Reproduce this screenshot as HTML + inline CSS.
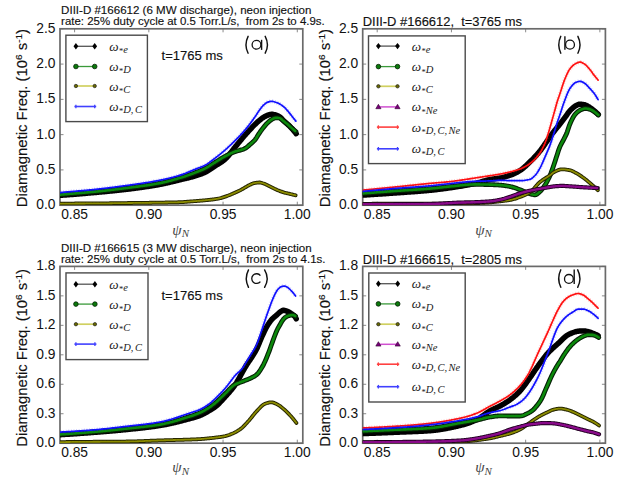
<!DOCTYPE html><html><head><meta charset="utf-8"><style>html,body{margin:0;padding:0;background:#fff;}svg{display:block;}text.s{stroke:#111;stroke-width:0.14px;}</style></head><body>
<svg width="617" height="478" viewBox="0 0 617 478">
<rect x="0" y="0" width="617" height="478" fill="#fff"/>
<clipPath id="clipLT"><rect x="60.00" y="28.80" width="242.80" height="176.40"/></clipPath>
<clipPath id="clipLB"><rect x="60.00" y="266.40" width="242.80" height="176.80"/></clipPath>
<clipPath id="clipRT"><rect x="362.70" y="28.80" width="242.70" height="176.40"/></clipPath>
<clipPath id="clipRB"><rect x="362.70" y="266.40" width="242.70" height="176.80"/></clipPath>
<path d="M74.60,28.80v3.5M74.60,205.20v-3.5M148.83,28.80v3.5M148.83,205.20v-3.5M223.06,28.80v3.5M223.06,205.20v-3.5M297.29,28.80v3.5M297.29,205.20v-3.5M60.00,205.20h3.5M302.80,205.20h-3.5M60.00,169.92h3.5M302.80,169.92h-3.5M60.00,134.64h3.5M302.80,134.64h-3.5M60.00,99.36h3.5M302.80,99.36h-3.5M60.00,64.08h3.5M302.80,64.08h-3.5M60.00,28.80h3.5M302.80,28.80h-3.5" stroke="#8a8a8a" stroke-width="1" fill="none"/>
<rect x="60.00" y="28.80" width="242.80" height="176.40" fill="none" stroke="#6a6a6a" stroke-width="1.7"/>
<g clip-path="url(#clipLT)">
<path d="M58.00,195.40 L58.75,195.36 L59.50,195.33 L60.25,195.29 L61.00,195.24 L61.75,195.20 L62.50,195.15 L63.25,195.10 L64.00,195.05 L64.75,195.00 L65.50,194.95 L66.25,194.90 L67.00,194.85 L67.75,194.80 L68.50,194.74 L69.25,194.69 L70.00,194.63 L70.75,194.58 L71.50,194.52 L72.25,194.46 L73.00,194.40 L73.75,194.34 L74.50,194.28 L75.25,194.22 L76.00,194.16 L76.75,194.10 L77.50,194.04 L78.25,193.98 L79.00,193.91 L79.75,193.85 L80.50,193.78 L81.25,193.72 L82.00,193.65 L82.75,193.59 L83.50,193.52 L84.25,193.46 L85.00,193.39 L85.75,193.33 L86.50,193.26 L87.25,193.19 L88.00,193.13 L88.75,193.06 L89.50,192.99 L90.25,192.92 L91.00,192.86 L91.75,192.79 L92.50,192.72 L93.25,192.66 L94.00,192.59 L94.75,192.52 L95.50,192.46 L96.25,192.39 L97.00,192.32 L97.75,192.25 L98.50,192.19 L99.25,192.12 L100.00,192.05 L100.75,191.98 L101.50,191.91 L102.25,191.84 L103.00,191.77 L103.75,191.71 L104.50,191.64 L105.25,191.56 L106.00,191.49 L106.75,191.42 L107.50,191.35 L108.25,191.28 L109.00,191.21 L109.75,191.13 L110.50,191.06 L111.25,190.98 L112.00,190.91 L112.75,190.83 L113.50,190.76 L114.25,190.68 L115.00,190.60 L115.75,190.53 L116.50,190.45 L117.25,190.37 L118.00,190.29 L118.75,190.21 L119.50,190.13 L120.25,190.04 L121.00,189.96 L121.75,189.88 L122.50,189.79 L123.25,189.70 L124.00,189.62 L124.75,189.53 L125.50,189.44 L126.25,189.35 L127.00,189.26 L127.75,189.17 L128.50,189.08 L129.25,188.99 L130.00,188.90 L130.75,188.80 L131.50,188.71 L132.25,188.61 L133.00,188.52 L133.75,188.42 L134.50,188.32 L135.25,188.23 L136.00,188.13 L136.75,188.03 L137.50,187.93 L138.25,187.82 L139.00,187.72 L139.75,187.62 L140.50,187.51 L141.25,187.41 L142.00,187.30 L142.75,187.19 L143.50,187.09 L144.25,186.98 L145.00,186.87 L145.75,186.75 L146.50,186.64 L147.25,186.53 L148.00,186.41 L148.75,186.30 L149.50,186.18 L150.25,186.06 L151.00,185.94 L151.75,185.82 L152.50,185.70 L153.25,185.57 L154.00,185.45 L154.75,185.32 L155.50,185.19 L156.25,185.07 L157.00,184.93 L157.75,184.80 L158.50,184.67 L159.25,184.54 L160.00,184.40 L160.75,184.26 L161.50,184.12 L162.25,183.97 L163.00,183.82 L163.75,183.66 L164.50,183.50 L165.25,183.34 L166.00,183.18 L166.75,183.01 L167.50,182.84 L168.25,182.66 L169.00,182.49 L169.75,182.31 L170.50,182.13 L171.25,181.95 L172.00,181.77 L172.75,181.58 L173.50,181.40 L174.25,181.21 L175.00,181.03 L175.75,180.84 L176.50,180.66 L177.25,180.47 L178.00,180.29 L178.75,180.10 L179.50,179.92 L180.25,179.74 L181.00,179.56 L181.75,179.38 L182.50,179.20 L183.25,179.03 L184.00,178.85 L184.75,178.68 L185.50,178.50 L186.25,178.32 L187.00,178.14 L187.75,177.96 L188.50,177.77 L189.25,177.58 L190.00,177.39 L190.75,177.20 L191.50,177.00 L192.25,176.80 L193.00,176.59 L193.75,176.37 L194.50,176.15 L195.25,175.92 L196.00,175.69 L196.75,175.45 L197.50,175.21 L198.25,174.96 L199.00,174.71 L199.75,174.44 L200.50,174.17 L201.25,173.89 L202.00,173.59 L202.75,173.29 L203.50,172.97 L204.25,172.64 L205.00,172.30 L205.75,171.93 L206.50,171.54 L207.25,171.11 L208.00,170.66 L208.75,170.19 L209.50,169.71 L210.25,169.21 L211.00,168.71 L211.75,168.19 L212.50,167.68 L213.25,167.17 L214.00,166.66 L214.75,166.16 L215.50,165.68 L216.25,165.21 L217.00,164.75 L217.75,164.29 L218.50,163.84 L219.25,163.38 L220.00,162.92 L220.75,162.44 L221.50,161.95 L222.25,161.43 L223.00,160.89 L223.75,160.32 L224.50,159.72 L225.25,159.08 L226.00,158.37 L226.75,157.60 L227.50,156.76 L228.25,155.88 L229.00,154.96 L229.75,154.00 L230.50,153.03 L231.25,152.04 L232.00,151.04 L232.75,150.05 L233.50,149.08 L234.25,148.12 L235.00,147.20 L235.75,146.29 L236.50,145.38 L237.25,144.46 L238.00,143.55 L238.75,142.63 L239.50,141.71 L240.25,140.80 L241.00,139.89 L241.75,138.99 L242.50,138.09 L243.25,137.21 L244.00,136.33 L244.75,135.47 L245.50,134.62 L246.25,133.77 L247.00,132.93 L247.75,132.09 L248.50,131.26 L249.25,130.43 L250.00,129.61 L250.75,128.81 L251.50,128.01 L252.25,127.22 L253.00,126.44 L253.75,125.68 L254.50,124.93 L255.25,124.19 L256.00,123.47 L256.75,122.77 L257.50,122.08 L258.25,121.41 L259.00,120.77 L259.75,120.14 L260.50,119.52 L261.25,118.92 L262.00,118.35 L262.75,117.82 L263.50,117.34 L264.25,116.90 L265.00,116.47 L265.75,116.08 L266.50,115.72 L267.25,115.42 L268.00,115.17 L268.75,114.91 L269.50,114.68 L270.25,114.48 L271.00,114.35 L271.75,114.30 L272.50,114.34 L273.25,114.45 L274.00,114.60 L274.75,114.79 L275.50,114.99 L276.25,115.20 L277.00,115.47 L277.75,115.80 L278.50,116.19 L279.25,116.62 L280.00,117.10 L280.75,117.70 L281.50,118.45 L282.25,119.28 L283.00,120.10 L283.75,120.84 L284.50,121.54 L285.25,122.22 L286.00,122.89 L286.75,123.56 L287.50,124.23 L288.25,124.91 L289.00,125.61 L289.75,126.33 L290.50,127.08 L291.25,127.87 L292.00,128.68 L292.75,129.53 L293.50,130.40 L294.25,131.29 L295.00,132.20 L295.75,133.13 L296.20,133.70" fill="none" stroke="#000" stroke-width="5.5" stroke-linejoin="round" stroke-linecap="round"/>
<path d="M58.00,194.90 L58.75,194.82 L59.50,194.75 L60.25,194.68 L61.00,194.61 L61.75,194.54 L62.50,194.47 L63.25,194.40 L64.00,194.34 L64.75,194.27 L65.50,194.20 L66.25,194.14 L67.00,194.08 L67.75,194.01 L68.50,193.95 L69.25,193.89 L70.00,193.83 L70.75,193.76 L71.50,193.70 L72.25,193.64 L73.00,193.58 L73.75,193.52 L74.50,193.46 L75.25,193.40 L76.00,193.34 L76.75,193.28 L77.50,193.22 L78.25,193.16 L79.00,193.10 L79.75,193.04 L80.50,192.98 L81.25,192.92 L82.00,192.86 L82.75,192.80 L83.50,192.73 L84.25,192.67 L85.00,192.61 L85.75,192.54 L86.50,192.48 L87.25,192.42 L88.00,192.35 L88.75,192.28 L89.50,192.22 L90.25,192.15 L91.00,192.08 L91.75,192.01 L92.50,191.94 L93.25,191.87 L94.00,191.80 L94.75,191.72 L95.50,191.65 L96.25,191.57 L97.00,191.50 L97.75,191.42 L98.50,191.34 L99.25,191.27 L100.00,191.19 L100.75,191.11 L101.50,191.03 L102.25,190.94 L103.00,190.86 L103.75,190.78 L104.50,190.69 L105.25,190.61 L106.00,190.53 L106.75,190.44 L107.50,190.35 L108.25,190.27 L109.00,190.18 L109.75,190.09 L110.50,190.00 L111.25,189.91 L112.00,189.82 L112.75,189.73 L113.50,189.64 L114.25,189.55 L115.00,189.46 L115.75,189.37 L116.50,189.28 L117.25,189.18 L118.00,189.09 L118.75,189.00 L119.50,188.90 L120.25,188.81 L121.00,188.71 L121.75,188.62 L122.50,188.52 L123.25,188.43 L124.00,188.33 L124.75,188.23 L125.50,188.14 L126.25,188.04 L127.00,187.94 L127.75,187.85 L128.50,187.75 L129.25,187.66 L130.00,187.56 L130.75,187.46 L131.50,187.37 L132.25,187.27 L133.00,187.18 L133.75,187.08 L134.50,186.99 L135.25,186.89 L136.00,186.79 L136.75,186.69 L137.50,186.60 L138.25,186.50 L139.00,186.40 L139.75,186.30 L140.50,186.20 L141.25,186.09 L142.00,185.99 L142.75,185.89 L143.50,185.78 L144.25,185.68 L145.00,185.57 L145.75,185.46 L146.50,185.35 L147.25,185.24 L148.00,185.13 L148.75,185.02 L149.50,184.90 L150.25,184.79 L151.00,184.67 L151.75,184.55 L152.50,184.43 L153.25,184.30 L154.00,184.18 L154.75,184.05 L155.50,183.92 L156.25,183.79 L157.00,183.66 L157.75,183.52 L158.50,183.38 L159.25,183.24 L160.00,183.10 L160.75,182.95 L161.50,182.80 L162.25,182.64 L163.00,182.48 L163.75,182.32 L164.50,182.15 L165.25,181.97 L166.00,181.79 L166.75,181.61 L167.50,181.42 L168.25,181.23 L169.00,181.03 L169.75,180.84 L170.50,180.63 L171.25,180.43 L172.00,180.22 L172.75,180.01 L173.50,179.80 L174.25,179.59 L175.00,179.37 L175.75,179.16 L176.50,178.94 L177.25,178.72 L178.00,178.50 L178.75,178.27 L179.50,178.05 L180.25,177.82 L181.00,177.60 L181.75,177.36 L182.50,177.13 L183.25,176.89 L184.00,176.64 L184.75,176.40 L185.50,176.14 L186.25,175.89 L187.00,175.63 L187.75,175.37 L188.50,175.10 L189.25,174.84 L190.00,174.57 L190.75,174.29 L191.50,174.02 L192.25,173.74 L193.00,173.46 L193.75,173.18 L194.50,172.89 L195.25,172.60 L196.00,172.32 L196.75,172.03 L197.50,171.74 L198.25,171.45 L199.00,171.15 L199.75,170.85 L200.50,170.54 L201.25,170.22 L202.00,169.90 L202.75,169.56 L203.50,169.22 L204.25,168.87 L205.00,168.50 L205.75,168.11 L206.50,167.71 L207.25,167.28 L208.00,166.83 L208.75,166.37 L209.50,165.90 L210.25,165.42 L211.00,164.94 L211.75,164.46 L212.50,163.97 L213.25,163.49 L214.00,163.02 L214.75,162.55 L215.50,162.10 L216.25,161.64 L217.00,161.17 L217.75,160.71 L218.50,160.24 L219.25,159.77 L220.00,159.31 L220.75,158.85 L221.50,158.40 L222.25,157.95 L223.00,157.51 L223.75,157.09 L224.50,156.67 L225.25,156.27 L226.00,155.86 L226.75,155.46 L227.50,155.06 L228.25,154.66 L229.00,154.27 L229.75,153.89 L230.50,153.51 L231.25,153.15 L232.00,152.81 L232.75,152.47 L233.50,152.16 L234.25,151.87 L235.00,151.60 L235.75,151.36 L236.50,151.14 L237.25,150.94 L238.00,150.75 L238.75,150.56 L239.50,150.35 L240.25,150.12 L241.00,149.90 L241.75,149.67 L242.50,149.44 L243.25,149.18 L244.00,148.90 L244.75,148.57 L245.50,148.18 L246.25,147.68 L247.00,147.11 L247.75,146.48 L248.50,145.83 L249.25,145.16 L250.00,144.50 L250.75,143.86 L251.50,143.22 L252.25,142.57 L253.00,141.88 L253.75,141.15 L254.50,140.35 L255.25,139.48 L256.00,138.44 L256.75,137.28 L257.50,136.04 L258.25,134.81 L259.00,133.63 L259.75,132.54 L260.50,131.47 L261.25,130.41 L262.00,129.38 L262.75,128.39 L263.50,127.44 L264.25,126.51 L265.00,125.60 L265.75,124.72 L266.50,123.89 L267.25,123.12 L268.00,122.41 L268.75,121.72 L269.50,121.07 L270.25,120.47 L271.00,119.94 L271.75,119.48 L272.50,119.04 L273.25,118.60 L274.00,118.23 L274.75,117.96 L275.50,117.86 L276.25,117.87 L277.00,117.89 L277.75,117.92 L278.50,117.96 L279.25,118.00 L280.00,118.23 L280.75,118.70 L281.50,119.32 L282.25,120.01 L283.00,120.68 L283.75,121.26 L284.50,121.83 L285.25,122.41 L286.00,123.00 L286.75,123.60 L287.50,124.22 L288.25,124.86 L289.00,125.53 L289.75,126.22 L290.50,126.92 L291.25,127.60 L292.00,128.26 L292.75,128.92 L293.50,129.57 L294.25,130.21 L295.00,130.84 L295.75,131.47 L295.90,131.60" fill="none" stroke="#062006" stroke-width="4.8" stroke-linejoin="round" stroke-linecap="round"/><path d="M58.00,194.90 L58.75,194.82 L59.50,194.75 L60.25,194.68 L61.00,194.61 L61.75,194.54 L62.50,194.47 L63.25,194.40 L64.00,194.34 L64.75,194.27 L65.50,194.20 L66.25,194.14 L67.00,194.08 L67.75,194.01 L68.50,193.95 L69.25,193.89 L70.00,193.83 L70.75,193.76 L71.50,193.70 L72.25,193.64 L73.00,193.58 L73.75,193.52 L74.50,193.46 L75.25,193.40 L76.00,193.34 L76.75,193.28 L77.50,193.22 L78.25,193.16 L79.00,193.10 L79.75,193.04 L80.50,192.98 L81.25,192.92 L82.00,192.86 L82.75,192.80 L83.50,192.73 L84.25,192.67 L85.00,192.61 L85.75,192.54 L86.50,192.48 L87.25,192.42 L88.00,192.35 L88.75,192.28 L89.50,192.22 L90.25,192.15 L91.00,192.08 L91.75,192.01 L92.50,191.94 L93.25,191.87 L94.00,191.80 L94.75,191.72 L95.50,191.65 L96.25,191.57 L97.00,191.50 L97.75,191.42 L98.50,191.34 L99.25,191.27 L100.00,191.19 L100.75,191.11 L101.50,191.03 L102.25,190.94 L103.00,190.86 L103.75,190.78 L104.50,190.69 L105.25,190.61 L106.00,190.53 L106.75,190.44 L107.50,190.35 L108.25,190.27 L109.00,190.18 L109.75,190.09 L110.50,190.00 L111.25,189.91 L112.00,189.82 L112.75,189.73 L113.50,189.64 L114.25,189.55 L115.00,189.46 L115.75,189.37 L116.50,189.28 L117.25,189.18 L118.00,189.09 L118.75,189.00 L119.50,188.90 L120.25,188.81 L121.00,188.71 L121.75,188.62 L122.50,188.52 L123.25,188.43 L124.00,188.33 L124.75,188.23 L125.50,188.14 L126.25,188.04 L127.00,187.94 L127.75,187.85 L128.50,187.75 L129.25,187.66 L130.00,187.56 L130.75,187.46 L131.50,187.37 L132.25,187.27 L133.00,187.18 L133.75,187.08 L134.50,186.99 L135.25,186.89 L136.00,186.79 L136.75,186.69 L137.50,186.60 L138.25,186.50 L139.00,186.40 L139.75,186.30 L140.50,186.20 L141.25,186.09 L142.00,185.99 L142.75,185.89 L143.50,185.78 L144.25,185.68 L145.00,185.57 L145.75,185.46 L146.50,185.35 L147.25,185.24 L148.00,185.13 L148.75,185.02 L149.50,184.90 L150.25,184.79 L151.00,184.67 L151.75,184.55 L152.50,184.43 L153.25,184.30 L154.00,184.18 L154.75,184.05 L155.50,183.92 L156.25,183.79 L157.00,183.66 L157.75,183.52 L158.50,183.38 L159.25,183.24 L160.00,183.10 L160.75,182.95 L161.50,182.80 L162.25,182.64 L163.00,182.48 L163.75,182.32 L164.50,182.15 L165.25,181.97 L166.00,181.79 L166.75,181.61 L167.50,181.42 L168.25,181.23 L169.00,181.03 L169.75,180.84 L170.50,180.63 L171.25,180.43 L172.00,180.22 L172.75,180.01 L173.50,179.80 L174.25,179.59 L175.00,179.37 L175.75,179.16 L176.50,178.94 L177.25,178.72 L178.00,178.50 L178.75,178.27 L179.50,178.05 L180.25,177.82 L181.00,177.60 L181.75,177.36 L182.50,177.13 L183.25,176.89 L184.00,176.64 L184.75,176.40 L185.50,176.14 L186.25,175.89 L187.00,175.63 L187.75,175.37 L188.50,175.10 L189.25,174.84 L190.00,174.57 L190.75,174.29 L191.50,174.02 L192.25,173.74 L193.00,173.46 L193.75,173.18 L194.50,172.89 L195.25,172.60 L196.00,172.32 L196.75,172.03 L197.50,171.74 L198.25,171.45 L199.00,171.15 L199.75,170.85 L200.50,170.54 L201.25,170.22 L202.00,169.90 L202.75,169.56 L203.50,169.22 L204.25,168.87 L205.00,168.50 L205.75,168.11 L206.50,167.71 L207.25,167.28 L208.00,166.83 L208.75,166.37 L209.50,165.90 L210.25,165.42 L211.00,164.94 L211.75,164.46 L212.50,163.97 L213.25,163.49 L214.00,163.02 L214.75,162.55 L215.50,162.10 L216.25,161.64 L217.00,161.17 L217.75,160.71 L218.50,160.24 L219.25,159.77 L220.00,159.31 L220.75,158.85 L221.50,158.40 L222.25,157.95 L223.00,157.51 L223.75,157.09 L224.50,156.67 L225.25,156.27 L226.00,155.86 L226.75,155.46 L227.50,155.06 L228.25,154.66 L229.00,154.27 L229.75,153.89 L230.50,153.51 L231.25,153.15 L232.00,152.81 L232.75,152.47 L233.50,152.16 L234.25,151.87 L235.00,151.60 L235.75,151.36 L236.50,151.14 L237.25,150.94 L238.00,150.75 L238.75,150.56 L239.50,150.35 L240.25,150.12 L241.00,149.90 L241.75,149.67 L242.50,149.44 L243.25,149.18 L244.00,148.90 L244.75,148.57 L245.50,148.18 L246.25,147.68 L247.00,147.11 L247.75,146.48 L248.50,145.83 L249.25,145.16 L250.00,144.50 L250.75,143.86 L251.50,143.22 L252.25,142.57 L253.00,141.88 L253.75,141.15 L254.50,140.35 L255.25,139.48 L256.00,138.44 L256.75,137.28 L257.50,136.04 L258.25,134.81 L259.00,133.63 L259.75,132.54 L260.50,131.47 L261.25,130.41 L262.00,129.38 L262.75,128.39 L263.50,127.44 L264.25,126.51 L265.00,125.60 L265.75,124.72 L266.50,123.89 L267.25,123.12 L268.00,122.41 L268.75,121.72 L269.50,121.07 L270.25,120.47 L271.00,119.94 L271.75,119.48 L272.50,119.04 L273.25,118.60 L274.00,118.23 L274.75,117.96 L275.50,117.86 L276.25,117.87 L277.00,117.89 L277.75,117.92 L278.50,117.96 L279.25,118.00 L280.00,118.23 L280.75,118.70 L281.50,119.32 L282.25,120.01 L283.00,120.68 L283.75,121.26 L284.50,121.83 L285.25,122.41 L286.00,123.00 L286.75,123.60 L287.50,124.22 L288.25,124.86 L289.00,125.53 L289.75,126.22 L290.50,126.92 L291.25,127.60 L292.00,128.26 L292.75,128.92 L293.50,129.57 L294.25,130.21 L295.00,130.84 L295.75,131.47 L295.90,131.60" fill="none" stroke="#0c8a0c" stroke-width="2.6" stroke-linejoin="round" stroke-linecap="round" stroke-dasharray="3 1.2"/>
<path d="M58.00,203.60 L58.75,203.60 L59.50,203.59 L60.25,203.59 L61.00,203.59 L61.75,203.58 L62.50,203.58 L63.25,203.58 L64.00,203.57 L64.75,203.57 L65.50,203.57 L66.25,203.56 L67.00,203.56 L67.75,203.56 L68.50,203.55 L69.25,203.55 L70.00,203.55 L70.75,203.54 L71.50,203.54 L72.25,203.54 L73.00,203.53 L73.75,203.53 L74.50,203.53 L75.25,203.52 L76.00,203.52 L76.75,203.52 L77.50,203.51 L78.25,203.51 L79.00,203.50 L79.75,203.50 L80.50,203.50 L81.25,203.49 L82.00,203.49 L82.75,203.49 L83.50,203.48 L84.25,203.48 L85.00,203.48 L85.75,203.47 L86.50,203.47 L87.25,203.47 L88.00,203.47 L88.75,203.46 L89.50,203.46 L90.25,203.46 L91.00,203.45 L91.75,203.45 L92.50,203.45 L93.25,203.44 L94.00,203.44 L94.75,203.43 L95.50,203.43 L96.25,203.43 L97.00,203.42 L97.75,203.42 L98.50,203.41 L99.25,203.41 L100.00,203.40 L100.75,203.39 L101.50,203.39 L102.25,203.38 L103.00,203.37 L103.75,203.36 L104.50,203.35 L105.25,203.34 L106.00,203.33 L106.75,203.32 L107.50,203.30 L108.25,203.29 L109.00,203.28 L109.75,203.27 L110.50,203.25 L111.25,203.24 L112.00,203.23 L112.75,203.21 L113.50,203.20 L114.25,203.19 L115.00,203.17 L115.75,203.16 L116.50,203.15 L117.25,203.14 L118.00,203.13 L118.75,203.12 L119.50,203.11 L120.25,203.10 L121.00,203.09 L121.75,203.08 L122.50,203.07 L123.25,203.06 L124.00,203.06 L124.75,203.05 L125.50,203.04 L126.25,203.03 L127.00,203.03 L127.75,203.02 L128.50,203.01 L129.25,203.01 L130.00,203.00 L130.75,202.99 L131.50,202.99 L132.25,202.98 L133.00,202.97 L133.75,202.97 L134.50,202.96 L135.25,202.95 L136.00,202.94 L136.75,202.94 L137.50,202.93 L138.25,202.92 L139.00,202.91 L139.75,202.90 L140.50,202.89 L141.25,202.88 L142.00,202.88 L142.75,202.87 L143.50,202.86 L144.25,202.85 L145.00,202.84 L145.75,202.83 L146.50,202.81 L147.25,202.80 L148.00,202.79 L148.75,202.78 L149.50,202.77 L150.25,202.76 L151.00,202.75 L151.75,202.74 L152.50,202.72 L153.25,202.71 L154.00,202.70 L154.75,202.69 L155.50,202.68 L156.25,202.66 L157.00,202.65 L157.75,202.64 L158.50,202.63 L159.25,202.61 L160.00,202.60 L160.75,202.59 L161.50,202.58 L162.25,202.56 L163.00,202.55 L163.75,202.54 L164.50,202.53 L165.25,202.52 L166.00,202.50 L166.75,202.49 L167.50,202.48 L168.25,202.47 L169.00,202.46 L169.75,202.44 L170.50,202.43 L171.25,202.42 L172.00,202.40 L172.75,202.39 L173.50,202.37 L174.25,202.36 L175.00,202.34 L175.75,202.32 L176.50,202.30 L177.25,202.28 L178.00,202.26 L178.75,202.24 L179.50,202.22 L180.25,202.19 L181.00,202.16 L181.75,202.12 L182.50,202.08 L183.25,202.03 L184.00,201.98 L184.75,201.93 L185.50,201.87 L186.25,201.81 L187.00,201.75 L187.75,201.69 L188.50,201.62 L189.25,201.56 L190.00,201.50 L190.75,201.44 L191.50,201.39 L192.25,201.33 L193.00,201.27 L193.75,201.22 L194.50,201.16 L195.25,201.11 L196.00,201.05 L196.75,200.99 L197.50,200.93 L198.25,200.88 L199.00,200.82 L199.75,200.75 L200.50,200.69 L201.25,200.63 L202.00,200.56 L202.75,200.50 L203.50,200.43 L204.25,200.36 L205.00,200.29 L205.75,200.22 L206.50,200.15 L207.25,200.07 L208.00,200.00 L208.75,199.92 L209.50,199.84 L210.25,199.76 L211.00,199.68 L211.75,199.59 L212.50,199.50 L213.25,199.40 L214.00,199.30 L214.75,199.19 L215.50,199.08 L216.25,198.96 L217.00,198.83 L217.75,198.70 L218.50,198.55 L219.25,198.40 L220.00,198.23 L220.75,198.05 L221.50,197.84 L222.25,197.62 L223.00,197.39 L223.75,197.15 L224.50,196.90 L225.25,196.65 L226.00,196.39 L226.75,196.12 L227.50,195.84 L228.25,195.56 L229.00,195.26 L229.75,194.96 L230.50,194.65 L231.25,194.34 L232.00,194.02 L232.75,193.69 L233.50,193.36 L234.25,193.02 L235.00,192.67 L235.75,192.33 L236.50,191.99 L237.25,191.66 L238.00,191.33 L238.75,190.99 L239.50,190.64 L240.25,190.27 L241.00,189.87 L241.75,189.45 L242.50,189.01 L243.25,188.56 L244.00,188.12 L244.75,187.69 L245.50,187.25 L246.25,186.81 L247.00,186.36 L247.75,185.92 L248.50,185.50 L249.25,185.11 L250.00,184.76 L250.75,184.41 L251.50,184.06 L252.25,183.73 L253.00,183.43 L253.75,183.19 L254.50,183.02 L255.25,182.90 L256.00,182.79 L256.75,182.69 L257.50,182.60 L258.25,182.54 L259.00,182.51 L259.75,182.51 L260.50,182.60 L261.25,182.76 L262.00,182.98 L262.75,183.23 L263.50,183.46 L264.25,183.73 L265.00,184.04 L265.75,184.38 L266.50,184.75 L267.25,185.12 L268.00,185.51 L268.75,185.88 L269.50,186.24 L270.25,186.62 L271.00,187.00 L271.75,187.38 L272.50,187.76 L273.25,188.14 L274.00,188.50 L274.75,188.86 L275.50,189.21 L276.25,189.56 L277.00,189.90 L277.75,190.23 L278.50,190.54 L279.25,190.84 L280.00,191.12 L280.75,191.40 L281.50,191.66 L282.25,191.92 L283.00,192.16 L283.75,192.39 L284.50,192.60 L285.25,192.79 L286.00,192.98 L286.75,193.16 L287.50,193.34 L288.25,193.51 L289.00,193.70 L289.75,193.88 L290.50,194.07 L291.25,194.25 L292.00,194.43 L292.75,194.61 L293.50,194.80 L294.25,194.98 L295.00,195.16 L295.60,195.30" fill="none" stroke="#262600" stroke-width="3.8" stroke-linejoin="round" stroke-linecap="round"/><path d="M58.00,203.60 L58.75,203.60 L59.50,203.59 L60.25,203.59 L61.00,203.59 L61.75,203.58 L62.50,203.58 L63.25,203.58 L64.00,203.57 L64.75,203.57 L65.50,203.57 L66.25,203.56 L67.00,203.56 L67.75,203.56 L68.50,203.55 L69.25,203.55 L70.00,203.55 L70.75,203.54 L71.50,203.54 L72.25,203.54 L73.00,203.53 L73.75,203.53 L74.50,203.53 L75.25,203.52 L76.00,203.52 L76.75,203.52 L77.50,203.51 L78.25,203.51 L79.00,203.50 L79.75,203.50 L80.50,203.50 L81.25,203.49 L82.00,203.49 L82.75,203.49 L83.50,203.48 L84.25,203.48 L85.00,203.48 L85.75,203.47 L86.50,203.47 L87.25,203.47 L88.00,203.47 L88.75,203.46 L89.50,203.46 L90.25,203.46 L91.00,203.45 L91.75,203.45 L92.50,203.45 L93.25,203.44 L94.00,203.44 L94.75,203.43 L95.50,203.43 L96.25,203.43 L97.00,203.42 L97.75,203.42 L98.50,203.41 L99.25,203.41 L100.00,203.40 L100.75,203.39 L101.50,203.39 L102.25,203.38 L103.00,203.37 L103.75,203.36 L104.50,203.35 L105.25,203.34 L106.00,203.33 L106.75,203.32 L107.50,203.30 L108.25,203.29 L109.00,203.28 L109.75,203.27 L110.50,203.25 L111.25,203.24 L112.00,203.23 L112.75,203.21 L113.50,203.20 L114.25,203.19 L115.00,203.17 L115.75,203.16 L116.50,203.15 L117.25,203.14 L118.00,203.13 L118.75,203.12 L119.50,203.11 L120.25,203.10 L121.00,203.09 L121.75,203.08 L122.50,203.07 L123.25,203.06 L124.00,203.06 L124.75,203.05 L125.50,203.04 L126.25,203.03 L127.00,203.03 L127.75,203.02 L128.50,203.01 L129.25,203.01 L130.00,203.00 L130.75,202.99 L131.50,202.99 L132.25,202.98 L133.00,202.97 L133.75,202.97 L134.50,202.96 L135.25,202.95 L136.00,202.94 L136.75,202.94 L137.50,202.93 L138.25,202.92 L139.00,202.91 L139.75,202.90 L140.50,202.89 L141.25,202.88 L142.00,202.88 L142.75,202.87 L143.50,202.86 L144.25,202.85 L145.00,202.84 L145.75,202.83 L146.50,202.81 L147.25,202.80 L148.00,202.79 L148.75,202.78 L149.50,202.77 L150.25,202.76 L151.00,202.75 L151.75,202.74 L152.50,202.72 L153.25,202.71 L154.00,202.70 L154.75,202.69 L155.50,202.68 L156.25,202.66 L157.00,202.65 L157.75,202.64 L158.50,202.63 L159.25,202.61 L160.00,202.60 L160.75,202.59 L161.50,202.58 L162.25,202.56 L163.00,202.55 L163.75,202.54 L164.50,202.53 L165.25,202.52 L166.00,202.50 L166.75,202.49 L167.50,202.48 L168.25,202.47 L169.00,202.46 L169.75,202.44 L170.50,202.43 L171.25,202.42 L172.00,202.40 L172.75,202.39 L173.50,202.37 L174.25,202.36 L175.00,202.34 L175.75,202.32 L176.50,202.30 L177.25,202.28 L178.00,202.26 L178.75,202.24 L179.50,202.22 L180.25,202.19 L181.00,202.16 L181.75,202.12 L182.50,202.08 L183.25,202.03 L184.00,201.98 L184.75,201.93 L185.50,201.87 L186.25,201.81 L187.00,201.75 L187.75,201.69 L188.50,201.62 L189.25,201.56 L190.00,201.50 L190.75,201.44 L191.50,201.39 L192.25,201.33 L193.00,201.27 L193.75,201.22 L194.50,201.16 L195.25,201.11 L196.00,201.05 L196.75,200.99 L197.50,200.93 L198.25,200.88 L199.00,200.82 L199.75,200.75 L200.50,200.69 L201.25,200.63 L202.00,200.56 L202.75,200.50 L203.50,200.43 L204.25,200.36 L205.00,200.29 L205.75,200.22 L206.50,200.15 L207.25,200.07 L208.00,200.00 L208.75,199.92 L209.50,199.84 L210.25,199.76 L211.00,199.68 L211.75,199.59 L212.50,199.50 L213.25,199.40 L214.00,199.30 L214.75,199.19 L215.50,199.08 L216.25,198.96 L217.00,198.83 L217.75,198.70 L218.50,198.55 L219.25,198.40 L220.00,198.23 L220.75,198.05 L221.50,197.84 L222.25,197.62 L223.00,197.39 L223.75,197.15 L224.50,196.90 L225.25,196.65 L226.00,196.39 L226.75,196.12 L227.50,195.84 L228.25,195.56 L229.00,195.26 L229.75,194.96 L230.50,194.65 L231.25,194.34 L232.00,194.02 L232.75,193.69 L233.50,193.36 L234.25,193.02 L235.00,192.67 L235.75,192.33 L236.50,191.99 L237.25,191.66 L238.00,191.33 L238.75,190.99 L239.50,190.64 L240.25,190.27 L241.00,189.87 L241.75,189.45 L242.50,189.01 L243.25,188.56 L244.00,188.12 L244.75,187.69 L245.50,187.25 L246.25,186.81 L247.00,186.36 L247.75,185.92 L248.50,185.50 L249.25,185.11 L250.00,184.76 L250.75,184.41 L251.50,184.06 L252.25,183.73 L253.00,183.43 L253.75,183.19 L254.50,183.02 L255.25,182.90 L256.00,182.79 L256.75,182.69 L257.50,182.60 L258.25,182.54 L259.00,182.51 L259.75,182.51 L260.50,182.60 L261.25,182.76 L262.00,182.98 L262.75,183.23 L263.50,183.46 L264.25,183.73 L265.00,184.04 L265.75,184.38 L266.50,184.75 L267.25,185.12 L268.00,185.51 L268.75,185.88 L269.50,186.24 L270.25,186.62 L271.00,187.00 L271.75,187.38 L272.50,187.76 L273.25,188.14 L274.00,188.50 L274.75,188.86 L275.50,189.21 L276.25,189.56 L277.00,189.90 L277.75,190.23 L278.50,190.54 L279.25,190.84 L280.00,191.12 L280.75,191.40 L281.50,191.66 L282.25,191.92 L283.00,192.16 L283.75,192.39 L284.50,192.60 L285.25,192.79 L286.00,192.98 L286.75,193.16 L287.50,193.34 L288.25,193.51 L289.00,193.70 L289.75,193.88 L290.50,194.07 L291.25,194.25 L292.00,194.43 L292.75,194.61 L293.50,194.80 L294.25,194.98 L295.00,195.16 L295.60,195.30" fill="none" stroke="#8c8c00" stroke-width="1.8" stroke-linejoin="round" stroke-linecap="round" stroke-dasharray="2.5 1"/>
<path d="M58.00,192.80 L58.75,192.72 L59.50,192.65 L60.25,192.58 L61.00,192.50 L61.75,192.43 L62.50,192.36 L63.25,192.29 L64.00,192.22 L64.75,192.15 L65.50,192.09 L66.25,192.02 L67.00,191.95 L67.75,191.88 L68.50,191.82 L69.25,191.75 L70.00,191.69 L70.75,191.62 L71.50,191.56 L72.25,191.49 L73.00,191.43 L73.75,191.36 L74.50,191.30 L75.25,191.23 L76.00,191.17 L76.75,191.10 L77.50,191.04 L78.25,190.97 L79.00,190.91 L79.75,190.84 L80.50,190.78 L81.25,190.71 L82.00,190.64 L82.75,190.58 L83.50,190.51 L84.25,190.44 L85.00,190.37 L85.75,190.31 L86.50,190.24 L87.25,190.17 L88.00,190.10 L88.75,190.03 L89.50,189.95 L90.25,189.88 L91.00,189.81 L91.75,189.73 L92.50,189.66 L93.25,189.58 L94.00,189.50 L94.75,189.43 L95.50,189.35 L96.25,189.27 L97.00,189.19 L97.75,189.10 L98.50,189.02 L99.25,188.94 L100.00,188.86 L100.75,188.77 L101.50,188.69 L102.25,188.60 L103.00,188.51 L103.75,188.43 L104.50,188.34 L105.25,188.25 L106.00,188.16 L106.75,188.07 L107.50,187.98 L108.25,187.89 L109.00,187.80 L109.75,187.70 L110.50,187.61 L111.25,187.52 L112.00,187.42 L112.75,187.33 L113.50,187.23 L114.25,187.13 L115.00,187.04 L115.75,186.94 L116.50,186.84 L117.25,186.74 L118.00,186.65 L118.75,186.55 L119.50,186.45 L120.25,186.35 L121.00,186.25 L121.75,186.14 L122.50,186.04 L123.25,185.94 L124.00,185.84 L124.75,185.73 L125.50,185.63 L126.25,185.53 L127.00,185.42 L127.75,185.32 L128.50,185.22 L129.25,185.11 L130.00,185.01 L130.75,184.91 L131.50,184.80 L132.25,184.70 L133.00,184.59 L133.75,184.49 L134.50,184.38 L135.25,184.27 L136.00,184.17 L136.75,184.06 L137.50,183.95 L138.25,183.84 L139.00,183.73 L139.75,183.62 L140.50,183.51 L141.25,183.40 L142.00,183.29 L142.75,183.17 L143.50,183.06 L144.25,182.94 L145.00,182.82 L145.75,182.71 L146.50,182.59 L147.25,182.47 L148.00,182.34 L148.75,182.22 L149.50,182.10 L150.25,181.97 L151.00,181.85 L151.75,181.72 L152.50,181.59 L153.25,181.46 L154.00,181.32 L154.75,181.19 L155.50,181.05 L156.25,180.92 L157.00,180.78 L157.75,180.63 L158.50,180.49 L159.25,180.35 L160.00,180.20 L160.75,180.05 L161.50,179.90 L162.25,179.74 L163.00,179.59 L163.75,179.43 L164.50,179.26 L165.25,179.10 L166.00,178.93 L166.75,178.76 L167.50,178.58 L168.25,178.41 L169.00,178.23 L169.75,178.04 L170.50,177.85 L171.25,177.66 L172.00,177.47 L172.75,177.27 L173.50,177.08 L174.25,176.87 L175.00,176.67 L175.75,176.46 L176.50,176.24 L177.25,176.03 L178.00,175.81 L178.75,175.58 L179.50,175.35 L180.25,175.12 L181.00,174.88 L181.75,174.63 L182.50,174.37 L183.25,174.09 L184.00,173.81 L184.75,173.53 L185.50,173.23 L186.25,172.93 L187.00,172.63 L187.75,172.32 L188.50,172.01 L189.25,171.70 L190.00,171.38 L190.75,171.06 L191.50,170.75 L192.25,170.43 L193.00,170.12 L193.75,169.81 L194.50,169.50 L195.25,169.20 L196.00,168.91 L196.75,168.62 L197.50,168.34 L198.25,168.06 L199.00,167.77 L199.75,167.49 L200.50,167.20 L201.25,166.90 L202.00,166.59 L202.75,166.27 L203.50,165.93 L204.25,165.58 L205.00,165.20 L205.75,164.80 L206.50,164.36 L207.25,163.89 L208.00,163.40 L208.75,162.89 L209.50,162.36 L210.25,161.81 L211.00,161.25 L211.75,160.68 L212.50,160.11 L213.25,159.53 L214.00,158.96 L214.75,158.39 L215.50,157.82 L216.25,157.25 L217.00,156.68 L217.75,156.09 L218.50,155.50 L219.25,154.91 L220.00,154.30 L220.75,153.69 L221.50,153.08 L222.25,152.45 L223.00,151.82 L223.75,151.18 L224.50,150.54 L225.25,149.88 L226.00,149.22 L226.75,148.54 L227.50,147.86 L228.25,147.16 L229.00,146.46 L229.75,145.75 L230.50,145.03 L231.25,144.31 L232.00,143.57 L232.75,142.84 L233.50,142.10 L234.25,141.35 L235.00,140.60 L235.75,139.85 L236.50,139.09 L237.25,138.34 L238.00,137.57 L238.75,136.81 L239.50,136.03 L240.25,135.25 L241.00,134.45 L241.75,133.64 L242.50,132.83 L243.25,131.99 L244.00,131.14 L244.75,130.28 L245.50,129.39 L246.25,128.49 L247.00,127.57 L247.75,126.63 L248.50,125.67 L249.25,124.70 L250.00,123.72 L250.75,122.72 L251.50,121.71 L252.25,120.69 L253.00,119.66 L253.75,118.61 L254.50,117.56 L255.25,116.49 L256.00,115.36 L256.75,114.20 L257.50,113.02 L258.25,111.87 L259.00,110.78 L259.75,109.75 L260.50,108.73 L261.25,107.74 L262.00,106.80 L262.75,105.95 L263.50,105.21 L264.25,104.52 L265.00,103.85 L265.75,103.25 L266.50,102.73 L267.25,102.34 L268.00,102.07 L268.75,101.83 L269.50,101.61 L270.25,101.45 L271.00,101.34 L271.75,101.30 L272.50,101.36 L273.25,101.52 L274.00,101.73 L274.75,101.96 L275.50,102.20 L276.25,102.44 L277.00,102.72 L277.75,103.02 L278.50,103.36 L279.25,103.73 L280.00,104.13 L280.75,104.59 L281.50,105.09 L282.25,105.63 L283.00,106.20 L283.75,106.81 L284.50,107.48 L285.25,108.21 L286.00,108.99 L286.75,109.80 L287.50,110.63 L288.25,111.50 L289.00,112.42 L289.75,113.38 L290.50,114.36 L291.25,115.33 L292.00,116.28 L292.75,117.22 L293.50,118.17 L294.25,119.12 L295.00,120.06 L295.75,121.01 L295.90,121.20" fill="none" stroke="#2020ff" stroke-width="4" stroke-opacity="0.22" stroke-dasharray="1 1.6" stroke-linejoin="round"/><path d="M58.00,192.80 L58.75,192.72 L59.50,192.65 L60.25,192.58 L61.00,192.50 L61.75,192.43 L62.50,192.36 L63.25,192.29 L64.00,192.22 L64.75,192.15 L65.50,192.09 L66.25,192.02 L67.00,191.95 L67.75,191.88 L68.50,191.82 L69.25,191.75 L70.00,191.69 L70.75,191.62 L71.50,191.56 L72.25,191.49 L73.00,191.43 L73.75,191.36 L74.50,191.30 L75.25,191.23 L76.00,191.17 L76.75,191.10 L77.50,191.04 L78.25,190.97 L79.00,190.91 L79.75,190.84 L80.50,190.78 L81.25,190.71 L82.00,190.64 L82.75,190.58 L83.50,190.51 L84.25,190.44 L85.00,190.37 L85.75,190.31 L86.50,190.24 L87.25,190.17 L88.00,190.10 L88.75,190.03 L89.50,189.95 L90.25,189.88 L91.00,189.81 L91.75,189.73 L92.50,189.66 L93.25,189.58 L94.00,189.50 L94.75,189.43 L95.50,189.35 L96.25,189.27 L97.00,189.19 L97.75,189.10 L98.50,189.02 L99.25,188.94 L100.00,188.86 L100.75,188.77 L101.50,188.69 L102.25,188.60 L103.00,188.51 L103.75,188.43 L104.50,188.34 L105.25,188.25 L106.00,188.16 L106.75,188.07 L107.50,187.98 L108.25,187.89 L109.00,187.80 L109.75,187.70 L110.50,187.61 L111.25,187.52 L112.00,187.42 L112.75,187.33 L113.50,187.23 L114.25,187.13 L115.00,187.04 L115.75,186.94 L116.50,186.84 L117.25,186.74 L118.00,186.65 L118.75,186.55 L119.50,186.45 L120.25,186.35 L121.00,186.25 L121.75,186.14 L122.50,186.04 L123.25,185.94 L124.00,185.84 L124.75,185.73 L125.50,185.63 L126.25,185.53 L127.00,185.42 L127.75,185.32 L128.50,185.22 L129.25,185.11 L130.00,185.01 L130.75,184.91 L131.50,184.80 L132.25,184.70 L133.00,184.59 L133.75,184.49 L134.50,184.38 L135.25,184.27 L136.00,184.17 L136.75,184.06 L137.50,183.95 L138.25,183.84 L139.00,183.73 L139.75,183.62 L140.50,183.51 L141.25,183.40 L142.00,183.29 L142.75,183.17 L143.50,183.06 L144.25,182.94 L145.00,182.82 L145.75,182.71 L146.50,182.59 L147.25,182.47 L148.00,182.34 L148.75,182.22 L149.50,182.10 L150.25,181.97 L151.00,181.85 L151.75,181.72 L152.50,181.59 L153.25,181.46 L154.00,181.32 L154.75,181.19 L155.50,181.05 L156.25,180.92 L157.00,180.78 L157.75,180.63 L158.50,180.49 L159.25,180.35 L160.00,180.20 L160.75,180.05 L161.50,179.90 L162.25,179.74 L163.00,179.59 L163.75,179.43 L164.50,179.26 L165.25,179.10 L166.00,178.93 L166.75,178.76 L167.50,178.58 L168.25,178.41 L169.00,178.23 L169.75,178.04 L170.50,177.85 L171.25,177.66 L172.00,177.47 L172.75,177.27 L173.50,177.08 L174.25,176.87 L175.00,176.67 L175.75,176.46 L176.50,176.24 L177.25,176.03 L178.00,175.81 L178.75,175.58 L179.50,175.35 L180.25,175.12 L181.00,174.88 L181.75,174.63 L182.50,174.37 L183.25,174.09 L184.00,173.81 L184.75,173.53 L185.50,173.23 L186.25,172.93 L187.00,172.63 L187.75,172.32 L188.50,172.01 L189.25,171.70 L190.00,171.38 L190.75,171.06 L191.50,170.75 L192.25,170.43 L193.00,170.12 L193.75,169.81 L194.50,169.50 L195.25,169.20 L196.00,168.91 L196.75,168.62 L197.50,168.34 L198.25,168.06 L199.00,167.77 L199.75,167.49 L200.50,167.20 L201.25,166.90 L202.00,166.59 L202.75,166.27 L203.50,165.93 L204.25,165.58 L205.00,165.20 L205.75,164.80 L206.50,164.36 L207.25,163.89 L208.00,163.40 L208.75,162.89 L209.50,162.36 L210.25,161.81 L211.00,161.25 L211.75,160.68 L212.50,160.11 L213.25,159.53 L214.00,158.96 L214.75,158.39 L215.50,157.82 L216.25,157.25 L217.00,156.68 L217.75,156.09 L218.50,155.50 L219.25,154.91 L220.00,154.30 L220.75,153.69 L221.50,153.08 L222.25,152.45 L223.00,151.82 L223.75,151.18 L224.50,150.54 L225.25,149.88 L226.00,149.22 L226.75,148.54 L227.50,147.86 L228.25,147.16 L229.00,146.46 L229.75,145.75 L230.50,145.03 L231.25,144.31 L232.00,143.57 L232.75,142.84 L233.50,142.10 L234.25,141.35 L235.00,140.60 L235.75,139.85 L236.50,139.09 L237.25,138.34 L238.00,137.57 L238.75,136.81 L239.50,136.03 L240.25,135.25 L241.00,134.45 L241.75,133.64 L242.50,132.83 L243.25,131.99 L244.00,131.14 L244.75,130.28 L245.50,129.39 L246.25,128.49 L247.00,127.57 L247.75,126.63 L248.50,125.67 L249.25,124.70 L250.00,123.72 L250.75,122.72 L251.50,121.71 L252.25,120.69 L253.00,119.66 L253.75,118.61 L254.50,117.56 L255.25,116.49 L256.00,115.36 L256.75,114.20 L257.50,113.02 L258.25,111.87 L259.00,110.78 L259.75,109.75 L260.50,108.73 L261.25,107.74 L262.00,106.80 L262.75,105.95 L263.50,105.21 L264.25,104.52 L265.00,103.85 L265.75,103.25 L266.50,102.73 L267.25,102.34 L268.00,102.07 L268.75,101.83 L269.50,101.61 L270.25,101.45 L271.00,101.34 L271.75,101.30 L272.50,101.36 L273.25,101.52 L274.00,101.73 L274.75,101.96 L275.50,102.20 L276.25,102.44 L277.00,102.72 L277.75,103.02 L278.50,103.36 L279.25,103.73 L280.00,104.13 L280.75,104.59 L281.50,105.09 L282.25,105.63 L283.00,106.20 L283.75,106.81 L284.50,107.48 L285.25,108.21 L286.00,108.99 L286.75,109.80 L287.50,110.63 L288.25,111.50 L289.00,112.42 L289.75,113.38 L290.50,114.36 L291.25,115.33 L292.00,116.28 L292.75,117.22 L293.50,118.17 L294.25,119.12 L295.00,120.06 L295.75,121.01 L295.90,121.20" fill="none" stroke="#1010ff" stroke-width="1.7" stroke-linejoin="round" stroke-linecap="round"/>
</g>
<text x="74.60" y="219.00" font-family='"Liberation Sans", sans-serif' font-size="13.8" text-anchor="middle" fill="#111">0.85</text>
<text x="148.83" y="219.00" font-family='"Liberation Sans", sans-serif' font-size="13.8" text-anchor="middle" fill="#111">0.90</text>
<text x="223.06" y="219.00" font-family='"Liberation Sans", sans-serif' font-size="13.8" text-anchor="middle" fill="#111">0.95</text>
<text x="297.29" y="219.00" font-family='"Liberation Sans", sans-serif' font-size="13.8" text-anchor="middle" fill="#111">1.00</text>
<text x="55.40" y="209.20" font-family='"Liberation Sans", sans-serif' font-size="13.8" text-anchor="end" fill="#111">0.0</text>
<text x="55.40" y="173.92" font-family='"Liberation Sans", sans-serif' font-size="13.8" text-anchor="end" fill="#111">0.5</text>
<text x="55.40" y="138.64" font-family='"Liberation Sans", sans-serif' font-size="13.8" text-anchor="end" fill="#111">1.0</text>
<text x="55.40" y="103.36" font-family='"Liberation Sans", sans-serif' font-size="13.8" text-anchor="end" fill="#111">1.5</text>
<text x="55.40" y="68.08" font-family='"Liberation Sans", sans-serif' font-size="13.8" text-anchor="end" fill="#111">2.0</text>
<text x="55.40" y="32.80" font-family='"Liberation Sans", sans-serif' font-size="13.8" text-anchor="end" fill="#111">2.5</text>
<path d="M377.20,28.80v3.5M377.20,205.20v-3.5M451.43,28.80v3.5M451.43,205.20v-3.5M525.66,28.80v3.5M525.66,205.20v-3.5M599.89,28.80v3.5M599.89,205.20v-3.5M362.70,205.20h3.5M605.40,205.20h-3.5M362.70,169.92h3.5M605.40,169.92h-3.5M362.70,134.64h3.5M605.40,134.64h-3.5M362.70,99.36h3.5M605.40,99.36h-3.5M362.70,64.08h3.5M605.40,64.08h-3.5M362.70,28.80h3.5M605.40,28.80h-3.5" stroke="#8a8a8a" stroke-width="1" fill="none"/>
<rect x="362.70" y="28.80" width="242.70" height="176.40" fill="none" stroke="#6a6a6a" stroke-width="1.7"/>
<g clip-path="url(#clipRT)">
<path d="M361.00,195.20 L361.75,195.16 L362.50,195.11 L363.25,195.07 L364.00,195.02 L364.75,194.98 L365.50,194.93 L366.25,194.89 L367.00,194.84 L367.75,194.80 L368.50,194.75 L369.25,194.70 L370.00,194.66 L370.75,194.61 L371.50,194.56 L372.25,194.52 L373.00,194.47 L373.75,194.42 L374.50,194.37 L375.25,194.33 L376.00,194.28 L376.75,194.23 L377.50,194.18 L378.25,194.13 L379.00,194.09 L379.75,194.04 L380.50,193.99 L381.25,193.94 L382.00,193.89 L382.75,193.84 L383.50,193.79 L384.25,193.74 L385.00,193.69 L385.75,193.64 L386.50,193.59 L387.25,193.54 L388.00,193.48 L388.75,193.43 L389.50,193.38 L390.25,193.33 L391.00,193.28 L391.75,193.23 L392.50,193.17 L393.25,193.12 L394.00,193.07 L394.75,193.02 L395.50,192.96 L396.25,192.91 L397.00,192.86 L397.75,192.81 L398.50,192.76 L399.25,192.70 L400.00,192.65 L400.75,192.60 L401.50,192.55 L402.25,192.50 L403.00,192.44 L403.75,192.39 L404.50,192.34 L405.25,192.29 L406.00,192.23 L406.75,192.18 L407.50,192.13 L408.25,192.08 L409.00,192.02 L409.75,191.97 L410.50,191.91 L411.25,191.86 L412.00,191.81 L412.75,191.75 L413.50,191.69 L414.25,191.64 L415.00,191.58 L415.75,191.52 L416.50,191.47 L417.25,191.41 L418.00,191.35 L418.75,191.29 L419.50,191.23 L420.25,191.17 L421.00,191.11 L421.75,191.04 L422.50,190.98 L423.25,190.92 L424.00,190.85 L424.75,190.79 L425.50,190.72 L426.25,190.65 L427.00,190.58 L427.75,190.51 L428.50,190.44 L429.25,190.37 L430.00,190.30 L430.75,190.23 L431.50,190.15 L432.25,190.07 L433.00,189.99 L433.75,189.91 L434.50,189.83 L435.25,189.74 L436.00,189.65 L436.75,189.57 L437.50,189.48 L438.25,189.38 L439.00,189.29 L439.75,189.20 L440.50,189.10 L441.25,189.01 L442.00,188.91 L442.75,188.81 L443.50,188.71 L444.25,188.61 L445.00,188.50 L445.75,188.40 L446.50,188.30 L447.25,188.19 L448.00,188.09 L448.75,187.98 L449.50,187.87 L450.25,187.76 L451.00,187.66 L451.75,187.55 L452.50,187.44 L453.25,187.33 L454.00,187.21 L454.75,187.10 L455.50,186.99 L456.25,186.87 L457.00,186.76 L457.75,186.64 L458.50,186.52 L459.25,186.40 L460.00,186.28 L460.75,186.16 L461.50,186.03 L462.25,185.91 L463.00,185.78 L463.75,185.65 L464.50,185.52 L465.25,185.39 L466.00,185.26 L466.75,185.12 L467.50,184.98 L468.25,184.85 L469.00,184.70 L469.75,184.56 L470.50,184.42 L471.25,184.27 L472.00,184.12 L472.75,183.97 L473.50,183.81 L474.25,183.66 L475.00,183.50 L475.75,183.33 L476.50,183.15 L477.25,182.96 L478.00,182.77 L478.75,182.56 L479.50,182.34 L480.25,182.13 L481.00,181.90 L481.75,181.68 L482.50,181.45 L483.25,181.23 L484.00,181.01 L484.75,180.79 L485.50,180.58 L486.25,180.37 L487.00,180.18 L487.75,179.99 L488.50,179.81 L489.25,179.65 L490.00,179.50 L490.75,179.37 L491.50,179.24 L492.25,179.13 L493.00,179.02 L493.75,178.92 L494.50,178.82 L495.25,178.72 L496.00,178.62 L496.75,178.52 L497.50,178.42 L498.25,178.30 L499.00,178.18 L499.75,178.05 L500.50,177.90 L501.25,177.75 L502.00,177.58 L502.75,177.41 L503.50,177.23 L504.25,177.05 L505.00,176.85 L505.75,176.64 L506.50,176.43 L507.25,176.21 L508.00,175.97 L508.75,175.73 L509.50,175.49 L510.25,175.23 L511.00,174.96 L511.75,174.67 L512.50,174.37 L513.25,174.05 L514.00,173.72 L514.75,173.37 L515.50,173.01 L516.25,172.63 L517.00,172.23 L517.75,171.82 L518.50,171.40 L519.25,170.96 L520.00,170.50 L520.75,170.01 L521.50,169.48 L522.25,168.92 L523.00,168.32 L523.75,167.69 L524.50,167.03 L525.25,166.35 L526.00,165.65 L526.75,164.94 L527.50,164.22 L528.25,163.50 L529.00,162.77 L529.75,162.04 L530.50,161.32 L531.25,160.58 L532.00,159.84 L532.75,159.08 L533.50,158.31 L534.25,157.53 L535.00,156.74 L535.75,155.92 L536.50,155.10 L537.25,154.25 L538.00,153.39 L538.75,152.51 L539.50,151.61 L540.25,150.69 L541.00,149.72 L541.75,148.71 L542.50,147.67 L543.25,146.60 L544.00,145.51 L544.75,144.41 L545.50,143.31 L546.25,142.22 L547.00,141.14 L547.75,140.07 L548.50,138.99 L549.25,137.90 L550.00,136.82 L550.75,135.76 L551.50,134.73 L552.25,133.72 L553.00,132.72 L553.75,131.74 L554.50,130.77 L555.25,129.82 L556.00,128.87 L556.75,127.96 L557.50,127.05 L558.25,126.15 L559.00,125.24 L559.75,124.32 L560.50,123.36 L561.25,122.39 L562.00,121.40 L562.75,120.40 L563.50,119.40 L564.25,118.40 L565.00,117.40 L565.75,116.38 L566.50,115.32 L567.25,114.25 L568.00,113.20 L568.75,112.19 L569.50,111.27 L570.25,110.44 L571.00,109.67 L571.75,108.91 L572.50,108.19 L573.25,107.52 L574.00,106.90 L574.75,106.36 L575.50,105.91 L576.25,105.51 L577.00,105.13 L577.75,104.77 L578.50,104.47 L579.25,104.27 L580.00,104.20 L580.75,104.22 L581.50,104.28 L582.25,104.37 L583.00,104.48 L583.75,104.61 L584.50,104.76 L585.25,104.94 L586.00,105.23 L586.75,105.60 L587.50,106.02 L588.25,106.48 L589.00,106.95 L589.75,107.42 L590.50,107.92 L591.25,108.46 L592.00,109.03 L592.75,109.63 L593.50,110.23 L594.25,110.84 L595.00,111.46 L595.75,112.10 L596.50,112.76 L597.25,113.43 L598.00,114.12 L598.30,114.40" fill="none" stroke="#000" stroke-width="5.5" stroke-linejoin="round" stroke-linecap="round"/>
<path d="M361.00,193.60 L361.75,193.54 L362.50,193.48 L363.25,193.42 L364.00,193.36 L364.75,193.30 L365.50,193.24 L366.25,193.18 L367.00,193.12 L367.75,193.06 L368.50,193.00 L369.25,192.94 L370.00,192.89 L370.75,192.83 L371.50,192.77 L372.25,192.71 L373.00,192.65 L373.75,192.59 L374.50,192.54 L375.25,192.48 L376.00,192.42 L376.75,192.36 L377.50,192.30 L378.25,192.25 L379.00,192.19 L379.75,192.13 L380.50,192.08 L381.25,192.02 L382.00,191.96 L382.75,191.90 L383.50,191.85 L384.25,191.79 L385.00,191.74 L385.75,191.68 L386.50,191.62 L387.25,191.57 L388.00,191.51 L388.75,191.46 L389.50,191.40 L390.25,191.35 L391.00,191.29 L391.75,191.24 L392.50,191.18 L393.25,191.13 L394.00,191.07 L394.75,191.02 L395.50,190.96 L396.25,190.91 L397.00,190.86 L397.75,190.81 L398.50,190.75 L399.25,190.70 L400.00,190.65 L400.75,190.60 L401.50,190.55 L402.25,190.50 L403.00,190.46 L403.75,190.41 L404.50,190.36 L405.25,190.31 L406.00,190.26 L406.75,190.22 L407.50,190.17 L408.25,190.12 L409.00,190.07 L409.75,190.03 L410.50,189.98 L411.25,189.93 L412.00,189.89 L412.75,189.84 L413.50,189.79 L414.25,189.74 L415.00,189.69 L415.75,189.64 L416.50,189.60 L417.25,189.55 L418.00,189.50 L418.75,189.45 L419.50,189.39 L420.25,189.34 L421.00,189.29 L421.75,189.24 L422.50,189.18 L423.25,189.13 L424.00,189.07 L424.75,189.02 L425.50,188.96 L426.25,188.90 L427.00,188.84 L427.75,188.79 L428.50,188.72 L429.25,188.66 L430.00,188.60 L430.75,188.54 L431.50,188.47 L432.25,188.40 L433.00,188.32 L433.75,188.25 L434.50,188.17 L435.25,188.10 L436.00,188.02 L436.75,187.93 L437.50,187.85 L438.25,187.77 L439.00,187.69 L439.75,187.60 L440.50,187.52 L441.25,187.43 L442.00,187.35 L442.75,187.26 L443.50,187.18 L444.25,187.09 L445.00,187.01 L445.75,186.93 L446.50,186.85 L447.25,186.77 L448.00,186.70 L448.75,186.62 L449.50,186.55 L450.25,186.48 L451.00,186.40 L451.75,186.33 L452.50,186.25 L453.25,186.17 L454.00,186.09 L454.75,186.01 L455.50,185.93 L456.25,185.84 L457.00,185.76 L457.75,185.67 L458.50,185.59 L459.25,185.51 L460.00,185.42 L460.75,185.34 L461.50,185.26 L462.25,185.18 L463.00,185.11 L463.75,185.03 L464.50,184.96 L465.25,184.89 L466.00,184.83 L466.75,184.76 L467.50,184.71 L468.25,184.65 L469.00,184.60 L469.75,184.56 L470.50,184.52 L471.25,184.48 L472.00,184.45 L472.75,184.43 L473.50,184.41 L474.25,184.40 L475.00,184.40 L475.75,184.40 L476.50,184.40 L477.25,184.41 L478.00,184.41 L478.75,184.42 L479.50,184.42 L480.25,184.43 L481.00,184.44 L481.75,184.45 L482.50,184.46 L483.25,184.47 L484.00,184.48 L484.75,184.50 L485.50,184.51 L486.25,184.52 L487.00,184.54 L487.75,184.55 L488.50,184.57 L489.25,184.58 L490.00,184.60 L490.75,184.62 L491.50,184.64 L492.25,184.67 L493.00,184.69 L493.75,184.73 L494.50,184.76 L495.25,184.80 L496.00,184.84 L496.75,184.88 L497.50,184.93 L498.25,184.98 L499.00,185.03 L499.75,185.08 L500.50,185.14 L501.25,185.20 L502.00,185.28 L502.75,185.36 L503.50,185.45 L504.25,185.54 L505.00,185.65 L505.75,185.76 L506.50,185.88 L507.25,186.00 L508.00,186.13 L508.75,186.26 L509.50,186.40 L510.25,186.55 L511.00,186.72 L511.75,186.90 L512.50,187.11 L513.25,187.33 L514.00,187.56 L514.75,187.81 L515.50,188.07 L516.25,188.33 L517.00,188.60 L517.75,188.88 L518.50,189.15 L519.25,189.43 L520.00,189.70 L520.75,189.98 L521.50,190.29 L522.25,190.61 L523.00,190.95 L523.75,191.30 L524.50,191.64 L525.25,191.99 L526.00,192.33 L526.75,192.66 L527.50,192.96 L528.25,193.25 L529.00,193.51 L529.75,193.73 L530.50,193.93 L531.25,194.14 L532.00,194.34 L532.75,194.52 L533.50,194.67 L534.25,194.76 L535.00,194.80 L535.75,194.68 L536.50,194.36 L537.25,193.88 L538.00,193.29 L538.75,192.63 L539.50,191.95 L540.25,191.27 L541.00,190.51 L541.75,189.64 L542.50,188.67 L543.25,187.62 L544.00,186.52 L544.75,185.39 L545.50,184.21 L546.25,182.96 L547.00,181.63 L547.75,180.22 L548.50,178.73 L549.25,177.16 L550.00,175.50 L550.75,173.70 L551.50,171.72 L552.25,169.62 L553.00,167.44 L553.75,165.24 L554.50,163.00 L555.25,160.65 L556.00,158.28 L556.75,155.95 L557.50,153.64 L558.25,151.30 L559.00,149.08 L559.75,147.12 L560.50,145.46 L561.25,143.98 L562.00,142.61 L562.75,141.24 L563.50,139.80 L564.25,138.35 L565.00,136.91 L565.75,135.41 L566.50,133.77 L567.25,131.86 L568.00,129.61 L568.75,127.26 L569.50,125.06 L570.25,123.23 L571.00,121.56 L571.75,119.97 L572.50,118.48 L573.25,117.11 L574.00,115.89 L574.75,114.82 L575.50,113.91 L576.25,113.11 L577.00,112.39 L577.75,111.76 L578.50,111.20 L579.25,110.69 L580.00,110.22 L580.75,109.82 L581.50,109.48 L582.25,109.19 L583.00,108.92 L583.75,108.68 L584.50,108.53 L585.25,108.50 L586.00,108.55 L586.75,108.63 L587.50,108.74 L588.25,108.87 L589.00,109.04 L589.75,109.27 L590.50,109.56 L591.25,109.89 L592.00,110.24 L592.75,110.67 L593.50,111.15 L594.25,111.67 L595.00,112.20 L595.75,112.78 L596.50,113.39 L597.25,114.03 L598.00,114.72 L598.30,115.00" fill="none" stroke="#062006" stroke-width="4.8" stroke-linejoin="round" stroke-linecap="round"/><path d="M361.00,193.60 L361.75,193.54 L362.50,193.48 L363.25,193.42 L364.00,193.36 L364.75,193.30 L365.50,193.24 L366.25,193.18 L367.00,193.12 L367.75,193.06 L368.50,193.00 L369.25,192.94 L370.00,192.89 L370.75,192.83 L371.50,192.77 L372.25,192.71 L373.00,192.65 L373.75,192.59 L374.50,192.54 L375.25,192.48 L376.00,192.42 L376.75,192.36 L377.50,192.30 L378.25,192.25 L379.00,192.19 L379.75,192.13 L380.50,192.08 L381.25,192.02 L382.00,191.96 L382.75,191.90 L383.50,191.85 L384.25,191.79 L385.00,191.74 L385.75,191.68 L386.50,191.62 L387.25,191.57 L388.00,191.51 L388.75,191.46 L389.50,191.40 L390.25,191.35 L391.00,191.29 L391.75,191.24 L392.50,191.18 L393.25,191.13 L394.00,191.07 L394.75,191.02 L395.50,190.96 L396.25,190.91 L397.00,190.86 L397.75,190.81 L398.50,190.75 L399.25,190.70 L400.00,190.65 L400.75,190.60 L401.50,190.55 L402.25,190.50 L403.00,190.46 L403.75,190.41 L404.50,190.36 L405.25,190.31 L406.00,190.26 L406.75,190.22 L407.50,190.17 L408.25,190.12 L409.00,190.07 L409.75,190.03 L410.50,189.98 L411.25,189.93 L412.00,189.89 L412.75,189.84 L413.50,189.79 L414.25,189.74 L415.00,189.69 L415.75,189.64 L416.50,189.60 L417.25,189.55 L418.00,189.50 L418.75,189.45 L419.50,189.39 L420.25,189.34 L421.00,189.29 L421.75,189.24 L422.50,189.18 L423.25,189.13 L424.00,189.07 L424.75,189.02 L425.50,188.96 L426.25,188.90 L427.00,188.84 L427.75,188.79 L428.50,188.72 L429.25,188.66 L430.00,188.60 L430.75,188.54 L431.50,188.47 L432.25,188.40 L433.00,188.32 L433.75,188.25 L434.50,188.17 L435.25,188.10 L436.00,188.02 L436.75,187.93 L437.50,187.85 L438.25,187.77 L439.00,187.69 L439.75,187.60 L440.50,187.52 L441.25,187.43 L442.00,187.35 L442.75,187.26 L443.50,187.18 L444.25,187.09 L445.00,187.01 L445.75,186.93 L446.50,186.85 L447.25,186.77 L448.00,186.70 L448.75,186.62 L449.50,186.55 L450.25,186.48 L451.00,186.40 L451.75,186.33 L452.50,186.25 L453.25,186.17 L454.00,186.09 L454.75,186.01 L455.50,185.93 L456.25,185.84 L457.00,185.76 L457.75,185.67 L458.50,185.59 L459.25,185.51 L460.00,185.42 L460.75,185.34 L461.50,185.26 L462.25,185.18 L463.00,185.11 L463.75,185.03 L464.50,184.96 L465.25,184.89 L466.00,184.83 L466.75,184.76 L467.50,184.71 L468.25,184.65 L469.00,184.60 L469.75,184.56 L470.50,184.52 L471.25,184.48 L472.00,184.45 L472.75,184.43 L473.50,184.41 L474.25,184.40 L475.00,184.40 L475.75,184.40 L476.50,184.40 L477.25,184.41 L478.00,184.41 L478.75,184.42 L479.50,184.42 L480.25,184.43 L481.00,184.44 L481.75,184.45 L482.50,184.46 L483.25,184.47 L484.00,184.48 L484.75,184.50 L485.50,184.51 L486.25,184.52 L487.00,184.54 L487.75,184.55 L488.50,184.57 L489.25,184.58 L490.00,184.60 L490.75,184.62 L491.50,184.64 L492.25,184.67 L493.00,184.69 L493.75,184.73 L494.50,184.76 L495.25,184.80 L496.00,184.84 L496.75,184.88 L497.50,184.93 L498.25,184.98 L499.00,185.03 L499.75,185.08 L500.50,185.14 L501.25,185.20 L502.00,185.28 L502.75,185.36 L503.50,185.45 L504.25,185.54 L505.00,185.65 L505.75,185.76 L506.50,185.88 L507.25,186.00 L508.00,186.13 L508.75,186.26 L509.50,186.40 L510.25,186.55 L511.00,186.72 L511.75,186.90 L512.50,187.11 L513.25,187.33 L514.00,187.56 L514.75,187.81 L515.50,188.07 L516.25,188.33 L517.00,188.60 L517.75,188.88 L518.50,189.15 L519.25,189.43 L520.00,189.70 L520.75,189.98 L521.50,190.29 L522.25,190.61 L523.00,190.95 L523.75,191.30 L524.50,191.64 L525.25,191.99 L526.00,192.33 L526.75,192.66 L527.50,192.96 L528.25,193.25 L529.00,193.51 L529.75,193.73 L530.50,193.93 L531.25,194.14 L532.00,194.34 L532.75,194.52 L533.50,194.67 L534.25,194.76 L535.00,194.80 L535.75,194.68 L536.50,194.36 L537.25,193.88 L538.00,193.29 L538.75,192.63 L539.50,191.95 L540.25,191.27 L541.00,190.51 L541.75,189.64 L542.50,188.67 L543.25,187.62 L544.00,186.52 L544.75,185.39 L545.50,184.21 L546.25,182.96 L547.00,181.63 L547.75,180.22 L548.50,178.73 L549.25,177.16 L550.00,175.50 L550.75,173.70 L551.50,171.72 L552.25,169.62 L553.00,167.44 L553.75,165.24 L554.50,163.00 L555.25,160.65 L556.00,158.28 L556.75,155.95 L557.50,153.64 L558.25,151.30 L559.00,149.08 L559.75,147.12 L560.50,145.46 L561.25,143.98 L562.00,142.61 L562.75,141.24 L563.50,139.80 L564.25,138.35 L565.00,136.91 L565.75,135.41 L566.50,133.77 L567.25,131.86 L568.00,129.61 L568.75,127.26 L569.50,125.06 L570.25,123.23 L571.00,121.56 L571.75,119.97 L572.50,118.48 L573.25,117.11 L574.00,115.89 L574.75,114.82 L575.50,113.91 L576.25,113.11 L577.00,112.39 L577.75,111.76 L578.50,111.20 L579.25,110.69 L580.00,110.22 L580.75,109.82 L581.50,109.48 L582.25,109.19 L583.00,108.92 L583.75,108.68 L584.50,108.53 L585.25,108.50 L586.00,108.55 L586.75,108.63 L587.50,108.74 L588.25,108.87 L589.00,109.04 L589.75,109.27 L590.50,109.56 L591.25,109.89 L592.00,110.24 L592.75,110.67 L593.50,111.15 L594.25,111.67 L595.00,112.20 L595.75,112.78 L596.50,113.39 L597.25,114.03 L598.00,114.72 L598.30,115.00" fill="none" stroke="#0c8a0c" stroke-width="2.6" stroke-linejoin="round" stroke-linecap="round" stroke-dasharray="3 1.2"/>
<path d="M361.00,203.80 L361.75,203.80 L362.50,203.80 L363.25,203.80 L364.00,203.79 L364.75,203.79 L365.50,203.79 L366.25,203.79 L367.00,203.79 L367.75,203.79 L368.50,203.78 L369.25,203.78 L370.00,203.78 L370.75,203.78 L371.50,203.78 L372.25,203.77 L373.00,203.77 L373.75,203.77 L374.50,203.77 L375.25,203.77 L376.00,203.77 L376.75,203.76 L377.50,203.76 L378.25,203.76 L379.00,203.76 L379.75,203.76 L380.50,203.75 L381.25,203.75 L382.00,203.75 L382.75,203.75 L383.50,203.75 L384.25,203.74 L385.00,203.74 L385.75,203.74 L386.50,203.74 L387.25,203.74 L388.00,203.73 L388.75,203.73 L389.50,203.73 L390.25,203.73 L391.00,203.73 L391.75,203.72 L392.50,203.72 L393.25,203.72 L394.00,203.72 L394.75,203.72 L395.50,203.71 L396.25,203.71 L397.00,203.71 L397.75,203.71 L398.50,203.70 L399.25,203.70 L400.00,203.70 L400.75,203.70 L401.50,203.70 L402.25,203.69 L403.00,203.69 L403.75,203.69 L404.50,203.69 L405.25,203.68 L406.00,203.68 L406.75,203.68 L407.50,203.68 L408.25,203.68 L409.00,203.67 L409.75,203.67 L410.50,203.67 L411.25,203.67 L412.00,203.67 L412.75,203.66 L413.50,203.66 L414.25,203.66 L415.00,203.66 L415.75,203.65 L416.50,203.65 L417.25,203.65 L418.00,203.65 L418.75,203.64 L419.50,203.64 L420.25,203.64 L421.00,203.64 L421.75,203.63 L422.50,203.63 L423.25,203.63 L424.00,203.63 L424.75,203.62 L425.50,203.62 L426.25,203.62 L427.00,203.61 L427.75,203.61 L428.50,203.61 L429.25,203.60 L430.00,203.60 L430.75,203.60 L431.50,203.59 L432.25,203.59 L433.00,203.59 L433.75,203.58 L434.50,203.58 L435.25,203.58 L436.00,203.57 L436.75,203.57 L437.50,203.57 L438.25,203.56 L439.00,203.56 L439.75,203.56 L440.50,203.55 L441.25,203.55 L442.00,203.54 L442.75,203.54 L443.50,203.54 L444.25,203.53 L445.00,203.53 L445.75,203.52 L446.50,203.52 L447.25,203.51 L448.00,203.51 L448.75,203.51 L449.50,203.50 L450.25,203.50 L451.00,203.49 L451.75,203.49 L452.50,203.48 L453.25,203.47 L454.00,203.47 L454.75,203.46 L455.50,203.46 L456.25,203.45 L457.00,203.44 L457.75,203.44 L458.50,203.43 L459.25,203.42 L460.00,203.42 L460.75,203.41 L461.50,203.40 L462.25,203.39 L463.00,203.39 L463.75,203.38 L464.50,203.37 L465.25,203.36 L466.00,203.35 L466.75,203.34 L467.50,203.33 L468.25,203.32 L469.00,203.31 L469.75,203.30 L470.50,203.29 L471.25,203.28 L472.00,203.26 L472.75,203.25 L473.50,203.23 L474.25,203.21 L475.00,203.18 L475.75,203.16 L476.50,203.13 L477.25,203.10 L478.00,203.07 L478.75,203.04 L479.50,203.01 L480.25,202.97 L481.00,202.93 L481.75,202.90 L482.50,202.86 L483.25,202.82 L484.00,202.77 L484.75,202.73 L485.50,202.69 L486.25,202.64 L487.00,202.59 L487.75,202.55 L488.50,202.50 L489.25,202.45 L490.00,202.40 L490.75,202.35 L491.50,202.28 L492.25,202.21 L493.00,202.14 L493.75,202.06 L494.50,201.97 L495.25,201.89 L496.00,201.79 L496.75,201.70 L497.50,201.61 L498.25,201.51 L499.00,201.42 L499.75,201.33 L500.50,201.24 L501.25,201.15 L502.00,201.07 L502.75,200.99 L503.50,200.90 L504.25,200.82 L505.00,200.73 L505.75,200.64 L506.50,200.54 L507.25,200.44 L508.00,200.33 L508.75,200.21 L509.50,200.09 L510.25,199.95 L511.00,199.80 L511.75,199.63 L512.50,199.45 L513.25,199.25 L514.00,199.04 L514.75,198.81 L515.50,198.58 L516.25,198.33 L517.00,198.08 L517.75,197.82 L518.50,197.55 L519.25,197.28 L520.00,197.00 L520.75,196.72 L521.50,196.43 L522.25,196.14 L523.00,195.83 L523.75,195.51 L524.50,195.18 L525.25,194.84 L526.00,194.48 L526.75,194.09 L527.50,193.69 L528.25,193.27 L529.00,192.83 L529.75,192.36 L530.50,191.85 L531.25,191.25 L532.00,190.56 L532.75,189.81 L533.50,189.01 L534.25,188.17 L535.00,187.30 L535.75,186.43 L536.50,185.56 L537.25,184.71 L538.00,183.90 L538.75,183.13 L539.50,182.43 L540.25,181.80 L541.00,181.21 L541.75,180.66 L542.50,180.13 L543.25,179.61 L544.00,179.12 L544.75,178.63 L545.50,178.16 L546.25,177.68 L547.00,177.21 L547.75,176.72 L548.50,176.23 L549.25,175.73 L550.00,175.20 L550.75,174.63 L551.50,174.01 L552.25,173.39 L553.00,172.79 L553.75,172.25 L554.50,171.82 L555.25,171.46 L556.00,171.10 L556.75,170.75 L557.50,170.42 L558.25,170.11 L559.00,169.84 L559.75,169.62 L560.50,169.45 L561.25,169.34 L562.00,169.30 L562.75,169.31 L563.50,169.34 L564.25,169.40 L565.00,169.47 L565.75,169.55 L566.50,169.65 L567.25,169.76 L568.00,169.88 L568.75,170.00 L569.50,170.14 L570.25,170.32 L571.00,170.56 L571.75,170.84 L572.50,171.17 L573.25,171.53 L574.00,171.92 L574.75,172.32 L575.50,172.72 L576.25,173.13 L577.00,173.53 L577.75,173.95 L578.50,174.40 L579.25,174.88 L580.00,175.37 L580.75,175.88 L581.50,176.40 L582.25,176.93 L583.00,177.47 L583.75,178.02 L584.50,178.57 L585.25,179.14 L586.00,179.74 L586.75,180.34 L587.50,180.96 L588.25,181.59 L589.00,182.23 L589.75,182.87 L590.50,183.51 L591.25,184.17 L592.00,184.83 L592.75,185.49 L593.50,186.17 L594.25,186.85 L595.00,187.55 L595.75,188.25 L596.50,188.95 L597.25,189.67 L597.80,190.20" fill="none" stroke="#262600" stroke-width="3.8" stroke-linejoin="round" stroke-linecap="round"/><path d="M361.00,203.80 L361.75,203.80 L362.50,203.80 L363.25,203.80 L364.00,203.79 L364.75,203.79 L365.50,203.79 L366.25,203.79 L367.00,203.79 L367.75,203.79 L368.50,203.78 L369.25,203.78 L370.00,203.78 L370.75,203.78 L371.50,203.78 L372.25,203.77 L373.00,203.77 L373.75,203.77 L374.50,203.77 L375.25,203.77 L376.00,203.77 L376.75,203.76 L377.50,203.76 L378.25,203.76 L379.00,203.76 L379.75,203.76 L380.50,203.75 L381.25,203.75 L382.00,203.75 L382.75,203.75 L383.50,203.75 L384.25,203.74 L385.00,203.74 L385.75,203.74 L386.50,203.74 L387.25,203.74 L388.00,203.73 L388.75,203.73 L389.50,203.73 L390.25,203.73 L391.00,203.73 L391.75,203.72 L392.50,203.72 L393.25,203.72 L394.00,203.72 L394.75,203.72 L395.50,203.71 L396.25,203.71 L397.00,203.71 L397.75,203.71 L398.50,203.70 L399.25,203.70 L400.00,203.70 L400.75,203.70 L401.50,203.70 L402.25,203.69 L403.00,203.69 L403.75,203.69 L404.50,203.69 L405.25,203.68 L406.00,203.68 L406.75,203.68 L407.50,203.68 L408.25,203.68 L409.00,203.67 L409.75,203.67 L410.50,203.67 L411.25,203.67 L412.00,203.67 L412.75,203.66 L413.50,203.66 L414.25,203.66 L415.00,203.66 L415.75,203.65 L416.50,203.65 L417.25,203.65 L418.00,203.65 L418.75,203.64 L419.50,203.64 L420.25,203.64 L421.00,203.64 L421.75,203.63 L422.50,203.63 L423.25,203.63 L424.00,203.63 L424.75,203.62 L425.50,203.62 L426.25,203.62 L427.00,203.61 L427.75,203.61 L428.50,203.61 L429.25,203.60 L430.00,203.60 L430.75,203.60 L431.50,203.59 L432.25,203.59 L433.00,203.59 L433.75,203.58 L434.50,203.58 L435.25,203.58 L436.00,203.57 L436.75,203.57 L437.50,203.57 L438.25,203.56 L439.00,203.56 L439.75,203.56 L440.50,203.55 L441.25,203.55 L442.00,203.54 L442.75,203.54 L443.50,203.54 L444.25,203.53 L445.00,203.53 L445.75,203.52 L446.50,203.52 L447.25,203.51 L448.00,203.51 L448.75,203.51 L449.50,203.50 L450.25,203.50 L451.00,203.49 L451.75,203.49 L452.50,203.48 L453.25,203.47 L454.00,203.47 L454.75,203.46 L455.50,203.46 L456.25,203.45 L457.00,203.44 L457.75,203.44 L458.50,203.43 L459.25,203.42 L460.00,203.42 L460.75,203.41 L461.50,203.40 L462.25,203.39 L463.00,203.39 L463.75,203.38 L464.50,203.37 L465.25,203.36 L466.00,203.35 L466.75,203.34 L467.50,203.33 L468.25,203.32 L469.00,203.31 L469.75,203.30 L470.50,203.29 L471.25,203.28 L472.00,203.26 L472.75,203.25 L473.50,203.23 L474.25,203.21 L475.00,203.18 L475.75,203.16 L476.50,203.13 L477.25,203.10 L478.00,203.07 L478.75,203.04 L479.50,203.01 L480.25,202.97 L481.00,202.93 L481.75,202.90 L482.50,202.86 L483.25,202.82 L484.00,202.77 L484.75,202.73 L485.50,202.69 L486.25,202.64 L487.00,202.59 L487.75,202.55 L488.50,202.50 L489.25,202.45 L490.00,202.40 L490.75,202.35 L491.50,202.28 L492.25,202.21 L493.00,202.14 L493.75,202.06 L494.50,201.97 L495.25,201.89 L496.00,201.79 L496.75,201.70 L497.50,201.61 L498.25,201.51 L499.00,201.42 L499.75,201.33 L500.50,201.24 L501.25,201.15 L502.00,201.07 L502.75,200.99 L503.50,200.90 L504.25,200.82 L505.00,200.73 L505.75,200.64 L506.50,200.54 L507.25,200.44 L508.00,200.33 L508.75,200.21 L509.50,200.09 L510.25,199.95 L511.00,199.80 L511.75,199.63 L512.50,199.45 L513.25,199.25 L514.00,199.04 L514.75,198.81 L515.50,198.58 L516.25,198.33 L517.00,198.08 L517.75,197.82 L518.50,197.55 L519.25,197.28 L520.00,197.00 L520.75,196.72 L521.50,196.43 L522.25,196.14 L523.00,195.83 L523.75,195.51 L524.50,195.18 L525.25,194.84 L526.00,194.48 L526.75,194.09 L527.50,193.69 L528.25,193.27 L529.00,192.83 L529.75,192.36 L530.50,191.85 L531.25,191.25 L532.00,190.56 L532.75,189.81 L533.50,189.01 L534.25,188.17 L535.00,187.30 L535.75,186.43 L536.50,185.56 L537.25,184.71 L538.00,183.90 L538.75,183.13 L539.50,182.43 L540.25,181.80 L541.00,181.21 L541.75,180.66 L542.50,180.13 L543.25,179.61 L544.00,179.12 L544.75,178.63 L545.50,178.16 L546.25,177.68 L547.00,177.21 L547.75,176.72 L548.50,176.23 L549.25,175.73 L550.00,175.20 L550.75,174.63 L551.50,174.01 L552.25,173.39 L553.00,172.79 L553.75,172.25 L554.50,171.82 L555.25,171.46 L556.00,171.10 L556.75,170.75 L557.50,170.42 L558.25,170.11 L559.00,169.84 L559.75,169.62 L560.50,169.45 L561.25,169.34 L562.00,169.30 L562.75,169.31 L563.50,169.34 L564.25,169.40 L565.00,169.47 L565.75,169.55 L566.50,169.65 L567.25,169.76 L568.00,169.88 L568.75,170.00 L569.50,170.14 L570.25,170.32 L571.00,170.56 L571.75,170.84 L572.50,171.17 L573.25,171.53 L574.00,171.92 L574.75,172.32 L575.50,172.72 L576.25,173.13 L577.00,173.53 L577.75,173.95 L578.50,174.40 L579.25,174.88 L580.00,175.37 L580.75,175.88 L581.50,176.40 L582.25,176.93 L583.00,177.47 L583.75,178.02 L584.50,178.57 L585.25,179.14 L586.00,179.74 L586.75,180.34 L587.50,180.96 L588.25,181.59 L589.00,182.23 L589.75,182.87 L590.50,183.51 L591.25,184.17 L592.00,184.83 L592.75,185.49 L593.50,186.17 L594.25,186.85 L595.00,187.55 L595.75,188.25 L596.50,188.95 L597.25,189.67 L597.80,190.20" fill="none" stroke="#8c8c00" stroke-width="1.8" stroke-linejoin="round" stroke-linecap="round" stroke-dasharray="2.5 1"/>
<path d="M361.00,204.30 L361.75,204.30 L362.50,204.30 L363.25,204.30 L364.00,204.30 L364.75,204.30 L365.50,204.30 L366.25,204.30 L367.00,204.30 L367.75,204.29 L368.50,204.29 L369.25,204.29 L370.00,204.29 L370.75,204.29 L371.50,204.29 L372.25,204.29 L373.00,204.29 L373.75,204.28 L374.50,204.28 L375.25,204.28 L376.00,204.28 L376.75,204.28 L377.50,204.28 L378.25,204.27 L379.00,204.27 L379.75,204.27 L380.50,204.27 L381.25,204.27 L382.00,204.26 L382.75,204.26 L383.50,204.26 L384.25,204.26 L385.00,204.25 L385.75,204.25 L386.50,204.25 L387.25,204.25 L388.00,204.24 L388.75,204.24 L389.50,204.24 L390.25,204.24 L391.00,204.23 L391.75,204.23 L392.50,204.23 L393.25,204.23 L394.00,204.22 L394.75,204.22 L395.50,204.22 L396.25,204.21 L397.00,204.21 L397.75,204.21 L398.50,204.21 L399.25,204.20 L400.00,204.20 L400.75,204.20 L401.50,204.19 L402.25,204.19 L403.00,204.19 L403.75,204.19 L404.50,204.18 L405.25,204.18 L406.00,204.18 L406.75,204.17 L407.50,204.17 L408.25,204.17 L409.00,204.16 L409.75,204.16 L410.50,204.15 L411.25,204.15 L412.00,204.15 L412.75,204.14 L413.50,204.14 L414.25,204.13 L415.00,204.13 L415.75,204.12 L416.50,204.12 L417.25,204.12 L418.00,204.11 L418.75,204.10 L419.50,204.10 L420.25,204.09 L421.00,204.09 L421.75,204.08 L422.50,204.08 L423.25,204.07 L424.00,204.06 L424.75,204.06 L425.50,204.05 L426.25,204.04 L427.00,204.03 L427.75,204.03 L428.50,204.02 L429.25,204.01 L430.00,204.00 L430.75,203.99 L431.50,203.98 L432.25,203.96 L433.00,203.94 L433.75,203.92 L434.50,203.90 L435.25,203.87 L436.00,203.84 L436.75,203.81 L437.50,203.78 L438.25,203.74 L439.00,203.71 L439.75,203.67 L440.50,203.63 L441.25,203.59 L442.00,203.55 L442.75,203.51 L443.50,203.47 L444.25,203.42 L445.00,203.38 L445.75,203.34 L446.50,203.29 L447.25,203.25 L448.00,203.20 L448.75,203.16 L449.50,203.11 L450.25,203.07 L451.00,203.03 L451.75,202.98 L452.50,202.94 L453.25,202.90 L454.00,202.86 L454.75,202.82 L455.50,202.79 L456.25,202.75 L457.00,202.72 L457.75,202.68 L458.50,202.65 L459.25,202.63 L460.00,202.60 L460.75,202.58 L461.50,202.55 L462.25,202.53 L463.00,202.51 L463.75,202.49 L464.50,202.47 L465.25,202.46 L466.00,202.44 L466.75,202.42 L467.50,202.40 L468.25,202.39 L469.00,202.37 L469.75,202.35 L470.50,202.33 L471.25,202.31 L472.00,202.29 L472.75,202.27 L473.50,202.25 L474.25,202.23 L475.00,202.20 L475.75,202.17 L476.50,202.15 L477.25,202.12 L478.00,202.09 L478.75,202.06 L479.50,202.03 L480.25,201.99 L481.00,201.96 L481.75,201.93 L482.50,201.89 L483.25,201.85 L484.00,201.81 L484.75,201.77 L485.50,201.72 L486.25,201.67 L487.00,201.63 L487.75,201.57 L488.50,201.52 L489.25,201.46 L490.00,201.40 L490.75,201.33 L491.50,201.25 L492.25,201.16 L493.00,201.06 L493.75,200.95 L494.50,200.84 L495.25,200.71 L496.00,200.58 L496.75,200.44 L497.50,200.30 L498.25,200.15 L499.00,200.00 L499.75,199.85 L500.50,199.69 L501.25,199.52 L502.00,199.34 L502.75,199.14 L503.50,198.93 L504.25,198.72 L505.00,198.49 L505.75,198.26 L506.50,198.03 L507.25,197.79 L508.00,197.55 L508.75,197.30 L509.50,197.06 L510.25,196.82 L511.00,196.57 L511.75,196.30 L512.50,196.03 L513.25,195.75 L514.00,195.46 L514.75,195.17 L515.50,194.88 L516.25,194.60 L517.00,194.32 L517.75,194.05 L518.50,193.78 L519.25,193.53 L520.00,193.30 L520.75,193.08 L521.50,192.86 L522.25,192.64 L523.00,192.43 L523.75,192.23 L524.50,192.03 L525.25,191.83 L526.00,191.64 L526.75,191.46 L527.50,191.27 L528.25,191.10 L529.00,190.92 L529.75,190.76 L530.50,190.59 L531.25,190.43 L532.00,190.28 L532.75,190.13 L533.50,189.99 L534.25,189.85 L535.00,189.71 L535.75,189.57 L536.50,189.43 L537.25,189.30 L538.00,189.16 L538.75,189.03 L539.50,188.89 L540.25,188.75 L541.00,188.61 L541.75,188.47 L542.50,188.33 L543.25,188.19 L544.00,188.05 L544.75,187.90 L545.50,187.77 L546.25,187.63 L547.00,187.49 L547.75,187.36 L548.50,187.24 L549.25,187.12 L550.00,187.00 L550.75,186.88 L551.50,186.77 L552.25,186.65 L553.00,186.54 L553.75,186.44 L554.50,186.34 L555.25,186.26 L556.00,186.20 L556.75,186.15 L557.50,186.09 L558.25,186.04 L559.00,186.00 L559.75,185.96 L560.50,185.93 L561.25,185.91 L562.00,185.90 L562.75,185.91 L563.50,185.93 L564.25,185.96 L565.00,186.00 L565.75,186.05 L566.50,186.10 L567.25,186.16 L568.00,186.21 L568.75,186.26 L569.50,186.31 L570.25,186.36 L571.00,186.41 L571.75,186.46 L572.50,186.51 L573.25,186.56 L574.00,186.62 L574.75,186.67 L575.50,186.72 L576.25,186.78 L577.00,186.83 L577.75,186.88 L578.50,186.93 L579.25,186.99 L580.00,187.04 L580.75,187.09 L581.50,187.14 L582.25,187.19 L583.00,187.24 L583.75,187.29 L584.50,187.34 L585.25,187.38 L586.00,187.42 L586.75,187.47 L587.50,187.51 L588.25,187.55 L589.00,187.59 L589.75,187.63 L590.50,187.66 L591.25,187.70 L592.00,187.74 L592.75,187.78 L593.50,187.81 L594.25,187.85 L595.00,187.88 L595.75,187.91 L596.50,187.95 L597.25,187.98 L597.80,188.00" fill="none" stroke="#200020" stroke-width="4.2" stroke-linejoin="round" stroke-linecap="round"/><path d="M361.00,204.30 L361.75,204.30 L362.50,204.30 L363.25,204.30 L364.00,204.30 L364.75,204.30 L365.50,204.30 L366.25,204.30 L367.00,204.30 L367.75,204.29 L368.50,204.29 L369.25,204.29 L370.00,204.29 L370.75,204.29 L371.50,204.29 L372.25,204.29 L373.00,204.29 L373.75,204.28 L374.50,204.28 L375.25,204.28 L376.00,204.28 L376.75,204.28 L377.50,204.28 L378.25,204.27 L379.00,204.27 L379.75,204.27 L380.50,204.27 L381.25,204.27 L382.00,204.26 L382.75,204.26 L383.50,204.26 L384.25,204.26 L385.00,204.25 L385.75,204.25 L386.50,204.25 L387.25,204.25 L388.00,204.24 L388.75,204.24 L389.50,204.24 L390.25,204.24 L391.00,204.23 L391.75,204.23 L392.50,204.23 L393.25,204.23 L394.00,204.22 L394.75,204.22 L395.50,204.22 L396.25,204.21 L397.00,204.21 L397.75,204.21 L398.50,204.21 L399.25,204.20 L400.00,204.20 L400.75,204.20 L401.50,204.19 L402.25,204.19 L403.00,204.19 L403.75,204.19 L404.50,204.18 L405.25,204.18 L406.00,204.18 L406.75,204.17 L407.50,204.17 L408.25,204.17 L409.00,204.16 L409.75,204.16 L410.50,204.15 L411.25,204.15 L412.00,204.15 L412.75,204.14 L413.50,204.14 L414.25,204.13 L415.00,204.13 L415.75,204.12 L416.50,204.12 L417.25,204.12 L418.00,204.11 L418.75,204.10 L419.50,204.10 L420.25,204.09 L421.00,204.09 L421.75,204.08 L422.50,204.08 L423.25,204.07 L424.00,204.06 L424.75,204.06 L425.50,204.05 L426.25,204.04 L427.00,204.03 L427.75,204.03 L428.50,204.02 L429.25,204.01 L430.00,204.00 L430.75,203.99 L431.50,203.98 L432.25,203.96 L433.00,203.94 L433.75,203.92 L434.50,203.90 L435.25,203.87 L436.00,203.84 L436.75,203.81 L437.50,203.78 L438.25,203.74 L439.00,203.71 L439.75,203.67 L440.50,203.63 L441.25,203.59 L442.00,203.55 L442.75,203.51 L443.50,203.47 L444.25,203.42 L445.00,203.38 L445.75,203.34 L446.50,203.29 L447.25,203.25 L448.00,203.20 L448.75,203.16 L449.50,203.11 L450.25,203.07 L451.00,203.03 L451.75,202.98 L452.50,202.94 L453.25,202.90 L454.00,202.86 L454.75,202.82 L455.50,202.79 L456.25,202.75 L457.00,202.72 L457.75,202.68 L458.50,202.65 L459.25,202.63 L460.00,202.60 L460.75,202.58 L461.50,202.55 L462.25,202.53 L463.00,202.51 L463.75,202.49 L464.50,202.47 L465.25,202.46 L466.00,202.44 L466.75,202.42 L467.50,202.40 L468.25,202.39 L469.00,202.37 L469.75,202.35 L470.50,202.33 L471.25,202.31 L472.00,202.29 L472.75,202.27 L473.50,202.25 L474.25,202.23 L475.00,202.20 L475.75,202.17 L476.50,202.15 L477.25,202.12 L478.00,202.09 L478.75,202.06 L479.50,202.03 L480.25,201.99 L481.00,201.96 L481.75,201.93 L482.50,201.89 L483.25,201.85 L484.00,201.81 L484.75,201.77 L485.50,201.72 L486.25,201.67 L487.00,201.63 L487.75,201.57 L488.50,201.52 L489.25,201.46 L490.00,201.40 L490.75,201.33 L491.50,201.25 L492.25,201.16 L493.00,201.06 L493.75,200.95 L494.50,200.84 L495.25,200.71 L496.00,200.58 L496.75,200.44 L497.50,200.30 L498.25,200.15 L499.00,200.00 L499.75,199.85 L500.50,199.69 L501.25,199.52 L502.00,199.34 L502.75,199.14 L503.50,198.93 L504.25,198.72 L505.00,198.49 L505.75,198.26 L506.50,198.03 L507.25,197.79 L508.00,197.55 L508.75,197.30 L509.50,197.06 L510.25,196.82 L511.00,196.57 L511.75,196.30 L512.50,196.03 L513.25,195.75 L514.00,195.46 L514.75,195.17 L515.50,194.88 L516.25,194.60 L517.00,194.32 L517.75,194.05 L518.50,193.78 L519.25,193.53 L520.00,193.30 L520.75,193.08 L521.50,192.86 L522.25,192.64 L523.00,192.43 L523.75,192.23 L524.50,192.03 L525.25,191.83 L526.00,191.64 L526.75,191.46 L527.50,191.27 L528.25,191.10 L529.00,190.92 L529.75,190.76 L530.50,190.59 L531.25,190.43 L532.00,190.28 L532.75,190.13 L533.50,189.99 L534.25,189.85 L535.00,189.71 L535.75,189.57 L536.50,189.43 L537.25,189.30 L538.00,189.16 L538.75,189.03 L539.50,188.89 L540.25,188.75 L541.00,188.61 L541.75,188.47 L542.50,188.33 L543.25,188.19 L544.00,188.05 L544.75,187.90 L545.50,187.77 L546.25,187.63 L547.00,187.49 L547.75,187.36 L548.50,187.24 L549.25,187.12 L550.00,187.00 L550.75,186.88 L551.50,186.77 L552.25,186.65 L553.00,186.54 L553.75,186.44 L554.50,186.34 L555.25,186.26 L556.00,186.20 L556.75,186.15 L557.50,186.09 L558.25,186.04 L559.00,186.00 L559.75,185.96 L560.50,185.93 L561.25,185.91 L562.00,185.90 L562.75,185.91 L563.50,185.93 L564.25,185.96 L565.00,186.00 L565.75,186.05 L566.50,186.10 L567.25,186.16 L568.00,186.21 L568.75,186.26 L569.50,186.31 L570.25,186.36 L571.00,186.41 L571.75,186.46 L572.50,186.51 L573.25,186.56 L574.00,186.62 L574.75,186.67 L575.50,186.72 L576.25,186.78 L577.00,186.83 L577.75,186.88 L578.50,186.93 L579.25,186.99 L580.00,187.04 L580.75,187.09 L581.50,187.14 L582.25,187.19 L583.00,187.24 L583.75,187.29 L584.50,187.34 L585.25,187.38 L586.00,187.42 L586.75,187.47 L587.50,187.51 L588.25,187.55 L589.00,187.59 L589.75,187.63 L590.50,187.66 L591.25,187.70 L592.00,187.74 L592.75,187.78 L593.50,187.81 L594.25,187.85 L595.00,187.88 L595.75,187.91 L596.50,187.95 L597.25,187.98 L597.80,188.00" fill="none" stroke="#8a0a8a" stroke-width="2.4" stroke-linejoin="round" stroke-linecap="round" stroke-dasharray="3 1.2"/>
<path d="M361.00,190.30 L361.75,190.23 L362.50,190.16 L363.25,190.09 L364.00,190.02 L364.75,189.95 L365.50,189.87 L366.25,189.80 L367.00,189.73 L367.75,189.66 L368.50,189.59 L369.25,189.52 L370.00,189.45 L370.75,189.37 L371.50,189.30 L372.25,189.23 L373.00,189.16 L373.75,189.09 L374.50,189.01 L375.25,188.94 L376.00,188.87 L376.75,188.80 L377.50,188.72 L378.25,188.65 L379.00,188.58 L379.75,188.50 L380.50,188.43 L381.25,188.36 L382.00,188.28 L382.75,188.21 L383.50,188.14 L384.25,188.06 L385.00,187.99 L385.75,187.92 L386.50,187.84 L387.25,187.77 L388.00,187.70 L388.75,187.62 L389.50,187.55 L390.25,187.47 L391.00,187.40 L391.75,187.32 L392.50,187.25 L393.25,187.17 L394.00,187.10 L394.75,187.02 L395.50,186.95 L396.25,186.87 L397.00,186.80 L397.75,186.72 L398.50,186.65 L399.25,186.57 L400.00,186.49 L400.75,186.41 L401.50,186.34 L402.25,186.26 L403.00,186.18 L403.75,186.10 L404.50,186.02 L405.25,185.95 L406.00,185.87 L406.75,185.79 L407.50,185.71 L408.25,185.63 L409.00,185.55 L409.75,185.47 L410.50,185.39 L411.25,185.31 L412.00,185.23 L412.75,185.15 L413.50,185.08 L414.25,185.00 L415.00,184.92 L415.75,184.84 L416.50,184.76 L417.25,184.68 L418.00,184.60 L418.75,184.53 L419.50,184.45 L420.25,184.37 L421.00,184.29 L421.75,184.22 L422.50,184.14 L423.25,184.06 L424.00,183.99 L424.75,183.91 L425.50,183.84 L426.25,183.76 L427.00,183.69 L427.75,183.62 L428.50,183.54 L429.25,183.47 L430.00,183.40 L430.75,183.33 L431.50,183.26 L432.25,183.19 L433.00,183.13 L433.75,183.06 L434.50,183.00 L435.25,182.93 L436.00,182.87 L436.75,182.81 L437.50,182.74 L438.25,182.68 L439.00,182.62 L439.75,182.56 L440.50,182.49 L441.25,182.43 L442.00,182.37 L442.75,182.30 L443.50,182.24 L444.25,182.17 L445.00,182.10 L445.75,182.03 L446.50,181.96 L447.25,181.89 L448.00,181.81 L448.75,181.73 L449.50,181.65 L450.25,181.57 L451.00,181.49 L451.75,181.40 L452.50,181.31 L453.25,181.22 L454.00,181.12 L454.75,181.03 L455.50,180.93 L456.25,180.83 L457.00,180.72 L457.75,180.62 L458.50,180.51 L459.25,180.40 L460.00,180.29 L460.75,180.18 L461.50,180.07 L462.25,179.96 L463.00,179.85 L463.75,179.73 L464.50,179.62 L465.25,179.50 L466.00,179.38 L466.75,179.27 L467.50,179.15 L468.25,179.04 L469.00,178.92 L469.75,178.80 L470.50,178.69 L471.25,178.57 L472.00,178.45 L472.75,178.34 L473.50,178.23 L474.25,178.11 L475.00,178.00 L475.75,177.89 L476.50,177.78 L477.25,177.66 L478.00,177.55 L478.75,177.44 L479.50,177.32 L480.25,177.21 L481.00,177.09 L481.75,176.98 L482.50,176.86 L483.25,176.75 L484.00,176.63 L484.75,176.52 L485.50,176.40 L486.25,176.29 L487.00,176.17 L487.75,176.05 L488.50,175.93 L489.25,175.82 L490.00,175.70 L490.75,175.58 L491.50,175.47 L492.25,175.35 L493.00,175.24 L493.75,175.13 L494.50,175.01 L495.25,174.90 L496.00,174.78 L496.75,174.66 L497.50,174.54 L498.25,174.41 L499.00,174.28 L499.75,174.15 L500.50,174.01 L501.25,173.86 L502.00,173.71 L502.75,173.56 L503.50,173.41 L504.25,173.25 L505.00,173.08 L505.75,172.91 L506.50,172.74 L507.25,172.57 L508.00,172.39 L508.75,172.21 L509.50,172.02 L510.25,171.84 L511.00,171.65 L511.75,171.46 L512.50,171.27 L513.25,171.08 L514.00,170.88 L514.75,170.68 L515.50,170.47 L516.25,170.25 L517.00,170.03 L517.75,169.79 L518.50,169.54 L519.25,169.28 L520.00,169.00 L520.75,168.71 L521.50,168.39 L522.25,168.06 L523.00,167.71 L523.75,167.34 L524.50,166.95 L525.25,166.55 L526.00,166.12 L526.75,165.67 L527.50,165.20 L528.25,164.72 L529.00,164.21 L529.75,163.68 L530.50,163.13 L531.25,162.54 L532.00,161.92 L532.75,161.25 L533.50,160.55 L534.25,159.81 L535.00,159.03 L535.75,158.21 L536.50,157.35 L537.25,156.45 L538.00,155.51 L538.75,154.53 L539.50,153.51 L540.25,152.43 L541.00,151.25 L541.75,149.93 L542.50,148.49 L543.25,146.95 L544.00,145.31 L544.75,143.59 L545.50,141.75 L546.25,139.68 L547.00,137.44 L547.75,135.10 L548.50,132.72 L549.25,130.21 L550.00,127.60 L550.75,124.95 L551.50,122.29 L552.25,119.60 L553.00,116.87 L553.75,114.14 L554.50,111.44 L555.25,108.72 L556.00,105.98 L556.75,103.32 L557.50,100.82 L558.25,98.54 L559.00,96.43 L559.75,94.32 L560.50,92.10 L561.25,89.76 L562.00,87.37 L562.75,85.00 L563.50,82.73 L564.25,80.64 L565.00,78.77 L565.75,76.98 L566.50,75.23 L567.25,73.57 L568.00,72.03 L568.75,70.63 L569.50,69.42 L570.25,68.42 L571.00,67.53 L571.75,66.70 L572.50,65.95 L573.25,65.27 L574.00,64.66 L574.75,64.14 L575.50,63.70 L576.25,63.33 L577.00,62.96 L577.75,62.63 L578.50,62.35 L579.25,62.17 L580.00,62.10 L580.75,62.18 L581.50,62.40 L582.25,62.73 L583.00,63.14 L583.75,63.60 L584.50,64.07 L585.25,64.58 L586.00,65.22 L586.75,65.97 L587.50,66.79 L588.25,67.66 L589.00,68.54 L589.75,69.41 L590.50,70.34 L591.25,71.33 L592.00,72.35 L592.75,73.38 L593.50,74.39 L594.25,75.36 L595.00,76.31 L595.75,77.24 L596.50,78.17 L597.25,79.08 L598.00,79.98 L598.10,80.10" fill="none" stroke="#ff2020" stroke-width="4" stroke-opacity="0.22" stroke-dasharray="1 1.6" stroke-linejoin="round"/><path d="M361.00,190.30 L361.75,190.23 L362.50,190.16 L363.25,190.09 L364.00,190.02 L364.75,189.95 L365.50,189.87 L366.25,189.80 L367.00,189.73 L367.75,189.66 L368.50,189.59 L369.25,189.52 L370.00,189.45 L370.75,189.37 L371.50,189.30 L372.25,189.23 L373.00,189.16 L373.75,189.09 L374.50,189.01 L375.25,188.94 L376.00,188.87 L376.75,188.80 L377.50,188.72 L378.25,188.65 L379.00,188.58 L379.75,188.50 L380.50,188.43 L381.25,188.36 L382.00,188.28 L382.75,188.21 L383.50,188.14 L384.25,188.06 L385.00,187.99 L385.75,187.92 L386.50,187.84 L387.25,187.77 L388.00,187.70 L388.75,187.62 L389.50,187.55 L390.25,187.47 L391.00,187.40 L391.75,187.32 L392.50,187.25 L393.25,187.17 L394.00,187.10 L394.75,187.02 L395.50,186.95 L396.25,186.87 L397.00,186.80 L397.75,186.72 L398.50,186.65 L399.25,186.57 L400.00,186.49 L400.75,186.41 L401.50,186.34 L402.25,186.26 L403.00,186.18 L403.75,186.10 L404.50,186.02 L405.25,185.95 L406.00,185.87 L406.75,185.79 L407.50,185.71 L408.25,185.63 L409.00,185.55 L409.75,185.47 L410.50,185.39 L411.25,185.31 L412.00,185.23 L412.75,185.15 L413.50,185.08 L414.25,185.00 L415.00,184.92 L415.75,184.84 L416.50,184.76 L417.25,184.68 L418.00,184.60 L418.75,184.53 L419.50,184.45 L420.25,184.37 L421.00,184.29 L421.75,184.22 L422.50,184.14 L423.25,184.06 L424.00,183.99 L424.75,183.91 L425.50,183.84 L426.25,183.76 L427.00,183.69 L427.75,183.62 L428.50,183.54 L429.25,183.47 L430.00,183.40 L430.75,183.33 L431.50,183.26 L432.25,183.19 L433.00,183.13 L433.75,183.06 L434.50,183.00 L435.25,182.93 L436.00,182.87 L436.75,182.81 L437.50,182.74 L438.25,182.68 L439.00,182.62 L439.75,182.56 L440.50,182.49 L441.25,182.43 L442.00,182.37 L442.75,182.30 L443.50,182.24 L444.25,182.17 L445.00,182.10 L445.75,182.03 L446.50,181.96 L447.25,181.89 L448.00,181.81 L448.75,181.73 L449.50,181.65 L450.25,181.57 L451.00,181.49 L451.75,181.40 L452.50,181.31 L453.25,181.22 L454.00,181.12 L454.75,181.03 L455.50,180.93 L456.25,180.83 L457.00,180.72 L457.75,180.62 L458.50,180.51 L459.25,180.40 L460.00,180.29 L460.75,180.18 L461.50,180.07 L462.25,179.96 L463.00,179.85 L463.75,179.73 L464.50,179.62 L465.25,179.50 L466.00,179.38 L466.75,179.27 L467.50,179.15 L468.25,179.04 L469.00,178.92 L469.75,178.80 L470.50,178.69 L471.25,178.57 L472.00,178.45 L472.75,178.34 L473.50,178.23 L474.25,178.11 L475.00,178.00 L475.75,177.89 L476.50,177.78 L477.25,177.66 L478.00,177.55 L478.75,177.44 L479.50,177.32 L480.25,177.21 L481.00,177.09 L481.75,176.98 L482.50,176.86 L483.25,176.75 L484.00,176.63 L484.75,176.52 L485.50,176.40 L486.25,176.29 L487.00,176.17 L487.75,176.05 L488.50,175.93 L489.25,175.82 L490.00,175.70 L490.75,175.58 L491.50,175.47 L492.25,175.35 L493.00,175.24 L493.75,175.13 L494.50,175.01 L495.25,174.90 L496.00,174.78 L496.75,174.66 L497.50,174.54 L498.25,174.41 L499.00,174.28 L499.75,174.15 L500.50,174.01 L501.25,173.86 L502.00,173.71 L502.75,173.56 L503.50,173.41 L504.25,173.25 L505.00,173.08 L505.75,172.91 L506.50,172.74 L507.25,172.57 L508.00,172.39 L508.75,172.21 L509.50,172.02 L510.25,171.84 L511.00,171.65 L511.75,171.46 L512.50,171.27 L513.25,171.08 L514.00,170.88 L514.75,170.68 L515.50,170.47 L516.25,170.25 L517.00,170.03 L517.75,169.79 L518.50,169.54 L519.25,169.28 L520.00,169.00 L520.75,168.71 L521.50,168.39 L522.25,168.06 L523.00,167.71 L523.75,167.34 L524.50,166.95 L525.25,166.55 L526.00,166.12 L526.75,165.67 L527.50,165.20 L528.25,164.72 L529.00,164.21 L529.75,163.68 L530.50,163.13 L531.25,162.54 L532.00,161.92 L532.75,161.25 L533.50,160.55 L534.25,159.81 L535.00,159.03 L535.75,158.21 L536.50,157.35 L537.25,156.45 L538.00,155.51 L538.75,154.53 L539.50,153.51 L540.25,152.43 L541.00,151.25 L541.75,149.93 L542.50,148.49 L543.25,146.95 L544.00,145.31 L544.75,143.59 L545.50,141.75 L546.25,139.68 L547.00,137.44 L547.75,135.10 L548.50,132.72 L549.25,130.21 L550.00,127.60 L550.75,124.95 L551.50,122.29 L552.25,119.60 L553.00,116.87 L553.75,114.14 L554.50,111.44 L555.25,108.72 L556.00,105.98 L556.75,103.32 L557.50,100.82 L558.25,98.54 L559.00,96.43 L559.75,94.32 L560.50,92.10 L561.25,89.76 L562.00,87.37 L562.75,85.00 L563.50,82.73 L564.25,80.64 L565.00,78.77 L565.75,76.98 L566.50,75.23 L567.25,73.57 L568.00,72.03 L568.75,70.63 L569.50,69.42 L570.25,68.42 L571.00,67.53 L571.75,66.70 L572.50,65.95 L573.25,65.27 L574.00,64.66 L574.75,64.14 L575.50,63.70 L576.25,63.33 L577.00,62.96 L577.75,62.63 L578.50,62.35 L579.25,62.17 L580.00,62.10 L580.75,62.18 L581.50,62.40 L582.25,62.73 L583.00,63.14 L583.75,63.60 L584.50,64.07 L585.25,64.58 L586.00,65.22 L586.75,65.97 L587.50,66.79 L588.25,67.66 L589.00,68.54 L589.75,69.41 L590.50,70.34 L591.25,71.33 L592.00,72.35 L592.75,73.38 L593.50,74.39 L594.25,75.36 L595.00,76.31 L595.75,77.24 L596.50,78.17 L597.25,79.08 L598.00,79.98 L598.10,80.10" fill="none" stroke="#ff1010" stroke-width="1.7" stroke-linejoin="round" stroke-linecap="round"/>
<path d="M361.00,191.60 L361.75,191.53 L362.50,191.45 L363.25,191.38 L364.00,191.31 L364.75,191.23 L365.50,191.16 L366.25,191.09 L367.00,191.02 L367.75,190.95 L368.50,190.87 L369.25,190.80 L370.00,190.73 L370.75,190.66 L371.50,190.59 L372.25,190.52 L373.00,190.45 L373.75,190.38 L374.50,190.31 L375.25,190.24 L376.00,190.17 L376.75,190.10 L377.50,190.03 L378.25,189.97 L379.00,189.90 L379.75,189.83 L380.50,189.76 L381.25,189.69 L382.00,189.63 L382.75,189.56 L383.50,189.49 L384.25,189.43 L385.00,189.36 L385.75,189.29 L386.50,189.23 L387.25,189.16 L388.00,189.10 L388.75,189.03 L389.50,188.97 L390.25,188.90 L391.00,188.84 L391.75,188.77 L392.50,188.71 L393.25,188.65 L394.00,188.58 L394.75,188.52 L395.50,188.46 L396.25,188.40 L397.00,188.34 L397.75,188.28 L398.50,188.22 L399.25,188.16 L400.00,188.10 L400.75,188.04 L401.50,187.99 L402.25,187.93 L403.00,187.87 L403.75,187.82 L404.50,187.76 L405.25,187.71 L406.00,187.65 L406.75,187.60 L407.50,187.55 L408.25,187.49 L409.00,187.44 L409.75,187.38 L410.50,187.33 L411.25,187.28 L412.00,187.22 L412.75,187.17 L413.50,187.12 L414.25,187.06 L415.00,187.01 L415.75,186.95 L416.50,186.90 L417.25,186.84 L418.00,186.79 L418.75,186.73 L419.50,186.67 L420.25,186.62 L421.00,186.56 L421.75,186.50 L422.50,186.44 L423.25,186.38 L424.00,186.32 L424.75,186.26 L425.50,186.20 L426.25,186.13 L427.00,186.07 L427.75,186.00 L428.50,185.94 L429.25,185.87 L430.00,185.80 L430.75,185.73 L431.50,185.66 L432.25,185.58 L433.00,185.51 L433.75,185.43 L434.50,185.35 L435.25,185.26 L436.00,185.18 L436.75,185.10 L437.50,185.01 L438.25,184.92 L439.00,184.84 L439.75,184.75 L440.50,184.66 L441.25,184.57 L442.00,184.49 L442.75,184.40 L443.50,184.31 L444.25,184.23 L445.00,184.14 L445.75,184.06 L446.50,183.97 L447.25,183.89 L448.00,183.81 L448.75,183.73 L449.50,183.65 L450.25,183.57 L451.00,183.50 L451.75,183.42 L452.50,183.34 L453.25,183.26 L454.00,183.18 L454.75,183.10 L455.50,183.02 L456.25,182.93 L457.00,182.85 L457.75,182.77 L458.50,182.69 L459.25,182.60 L460.00,182.52 L460.75,182.44 L461.50,182.36 L462.25,182.29 L463.00,182.21 L463.75,182.13 L464.50,182.06 L465.25,181.99 L466.00,181.92 L466.75,181.85 L467.50,181.78 L468.25,181.72 L469.00,181.66 L469.75,181.60 L470.50,181.55 L471.25,181.50 L472.00,181.45 L472.75,181.41 L473.50,181.37 L474.25,181.33 L475.00,181.30 L475.75,181.27 L476.50,181.25 L477.25,181.22 L478.00,181.20 L478.75,181.18 L479.50,181.16 L480.25,181.14 L481.00,181.12 L481.75,181.11 L482.50,181.09 L483.25,181.08 L484.00,181.06 L484.75,181.04 L485.50,181.03 L486.25,181.01 L487.00,180.99 L487.75,180.97 L488.50,180.95 L489.25,180.93 L490.00,180.90 L490.75,180.87 L491.50,180.83 L492.25,180.79 L493.00,180.74 L493.75,180.69 L494.50,180.64 L495.25,180.59 L496.00,180.54 L496.75,180.50 L497.50,180.46 L498.25,180.43 L499.00,180.41 L499.75,180.40 L500.50,180.40 L501.25,180.41 L502.00,180.42 L502.75,180.43 L503.50,180.45 L504.25,180.46 L505.00,180.48 L505.75,180.50 L506.50,180.52 L507.25,180.54 L508.00,180.56 L508.75,180.58 L509.50,180.59 L510.25,180.60 L511.00,180.61 L511.75,180.62 L512.50,180.63 L513.25,180.64 L514.00,180.65 L514.75,180.66 L515.50,180.67 L516.25,180.68 L517.00,180.69 L517.75,180.69 L518.50,180.70 L519.25,180.70 L520.00,180.70 L520.75,180.69 L521.50,180.66 L522.25,180.62 L523.00,180.56 L523.75,180.48 L524.50,180.39 L525.25,180.28 L526.00,180.16 L526.75,180.03 L527.50,179.88 L528.25,179.72 L529.00,179.55 L529.75,179.36 L530.50,179.14 L531.25,178.76 L532.00,178.26 L532.75,177.66 L533.50,176.98 L534.25,176.25 L535.00,175.50 L535.75,174.67 L536.50,173.70 L537.25,172.62 L538.00,171.44 L538.75,170.19 L539.50,168.89 L540.25,167.54 L541.00,166.08 L541.75,164.49 L542.50,162.82 L543.25,161.08 L544.00,159.32 L544.75,157.57 L545.50,155.86 L546.25,154.16 L547.00,152.44 L547.75,150.70 L548.50,148.92 L549.25,147.07 L550.00,145.13 L550.75,143.08 L551.50,140.89 L552.25,138.60 L553.00,136.26 L553.75,133.88 L554.50,131.40 L555.25,128.88 L556.00,126.39 L556.75,124.03 L557.50,121.78 L558.25,119.58 L559.00,117.42 L559.75,115.24 L560.50,113.00 L561.25,110.69 L562.00,108.36 L562.75,106.06 L563.50,103.82 L564.25,101.70 L565.00,99.72 L565.75,97.75 L566.50,95.80 L567.25,93.92 L568.00,92.15 L568.75,90.54 L569.50,89.14 L570.25,87.99 L571.00,86.96 L571.75,86.00 L572.50,85.10 L573.25,84.30 L574.00,83.60 L574.75,83.03 L575.50,82.59 L576.25,82.27 L577.00,81.97 L577.75,81.70 L578.50,81.49 L579.25,81.35 L580.00,81.30 L580.75,81.38 L581.50,81.59 L582.25,81.90 L583.00,82.29 L583.75,82.73 L584.50,83.18 L585.25,83.67 L586.00,84.31 L586.75,85.05 L587.50,85.87 L588.25,86.72 L589.00,87.56 L589.75,88.37 L590.50,89.17 L591.25,89.98 L592.00,90.81 L592.75,91.68 L593.50,92.59 L594.25,93.57 L595.00,94.62 L595.75,95.75 L596.50,96.95 L597.25,98.21 L598.00,99.52 L598.10,99.70" fill="none" stroke="#2020ff" stroke-width="4" stroke-opacity="0.22" stroke-dasharray="1 1.6" stroke-linejoin="round"/><path d="M361.00,191.60 L361.75,191.53 L362.50,191.45 L363.25,191.38 L364.00,191.31 L364.75,191.23 L365.50,191.16 L366.25,191.09 L367.00,191.02 L367.75,190.95 L368.50,190.87 L369.25,190.80 L370.00,190.73 L370.75,190.66 L371.50,190.59 L372.25,190.52 L373.00,190.45 L373.75,190.38 L374.50,190.31 L375.25,190.24 L376.00,190.17 L376.75,190.10 L377.50,190.03 L378.25,189.97 L379.00,189.90 L379.75,189.83 L380.50,189.76 L381.25,189.69 L382.00,189.63 L382.75,189.56 L383.50,189.49 L384.25,189.43 L385.00,189.36 L385.75,189.29 L386.50,189.23 L387.25,189.16 L388.00,189.10 L388.75,189.03 L389.50,188.97 L390.25,188.90 L391.00,188.84 L391.75,188.77 L392.50,188.71 L393.25,188.65 L394.00,188.58 L394.75,188.52 L395.50,188.46 L396.25,188.40 L397.00,188.34 L397.75,188.28 L398.50,188.22 L399.25,188.16 L400.00,188.10 L400.75,188.04 L401.50,187.99 L402.25,187.93 L403.00,187.87 L403.75,187.82 L404.50,187.76 L405.25,187.71 L406.00,187.65 L406.75,187.60 L407.50,187.55 L408.25,187.49 L409.00,187.44 L409.75,187.38 L410.50,187.33 L411.25,187.28 L412.00,187.22 L412.75,187.17 L413.50,187.12 L414.25,187.06 L415.00,187.01 L415.75,186.95 L416.50,186.90 L417.25,186.84 L418.00,186.79 L418.75,186.73 L419.50,186.67 L420.25,186.62 L421.00,186.56 L421.75,186.50 L422.50,186.44 L423.25,186.38 L424.00,186.32 L424.75,186.26 L425.50,186.20 L426.25,186.13 L427.00,186.07 L427.75,186.00 L428.50,185.94 L429.25,185.87 L430.00,185.80 L430.75,185.73 L431.50,185.66 L432.25,185.58 L433.00,185.51 L433.75,185.43 L434.50,185.35 L435.25,185.26 L436.00,185.18 L436.75,185.10 L437.50,185.01 L438.25,184.92 L439.00,184.84 L439.75,184.75 L440.50,184.66 L441.25,184.57 L442.00,184.49 L442.75,184.40 L443.50,184.31 L444.25,184.23 L445.00,184.14 L445.75,184.06 L446.50,183.97 L447.25,183.89 L448.00,183.81 L448.75,183.73 L449.50,183.65 L450.25,183.57 L451.00,183.50 L451.75,183.42 L452.50,183.34 L453.25,183.26 L454.00,183.18 L454.75,183.10 L455.50,183.02 L456.25,182.93 L457.00,182.85 L457.75,182.77 L458.50,182.69 L459.25,182.60 L460.00,182.52 L460.75,182.44 L461.50,182.36 L462.25,182.29 L463.00,182.21 L463.75,182.13 L464.50,182.06 L465.25,181.99 L466.00,181.92 L466.75,181.85 L467.50,181.78 L468.25,181.72 L469.00,181.66 L469.75,181.60 L470.50,181.55 L471.25,181.50 L472.00,181.45 L472.75,181.41 L473.50,181.37 L474.25,181.33 L475.00,181.30 L475.75,181.27 L476.50,181.25 L477.25,181.22 L478.00,181.20 L478.75,181.18 L479.50,181.16 L480.25,181.14 L481.00,181.12 L481.75,181.11 L482.50,181.09 L483.25,181.08 L484.00,181.06 L484.75,181.04 L485.50,181.03 L486.25,181.01 L487.00,180.99 L487.75,180.97 L488.50,180.95 L489.25,180.93 L490.00,180.90 L490.75,180.87 L491.50,180.83 L492.25,180.79 L493.00,180.74 L493.75,180.69 L494.50,180.64 L495.25,180.59 L496.00,180.54 L496.75,180.50 L497.50,180.46 L498.25,180.43 L499.00,180.41 L499.75,180.40 L500.50,180.40 L501.25,180.41 L502.00,180.42 L502.75,180.43 L503.50,180.45 L504.25,180.46 L505.00,180.48 L505.75,180.50 L506.50,180.52 L507.25,180.54 L508.00,180.56 L508.75,180.58 L509.50,180.59 L510.25,180.60 L511.00,180.61 L511.75,180.62 L512.50,180.63 L513.25,180.64 L514.00,180.65 L514.75,180.66 L515.50,180.67 L516.25,180.68 L517.00,180.69 L517.75,180.69 L518.50,180.70 L519.25,180.70 L520.00,180.70 L520.75,180.69 L521.50,180.66 L522.25,180.62 L523.00,180.56 L523.75,180.48 L524.50,180.39 L525.25,180.28 L526.00,180.16 L526.75,180.03 L527.50,179.88 L528.25,179.72 L529.00,179.55 L529.75,179.36 L530.50,179.14 L531.25,178.76 L532.00,178.26 L532.75,177.66 L533.50,176.98 L534.25,176.25 L535.00,175.50 L535.75,174.67 L536.50,173.70 L537.25,172.62 L538.00,171.44 L538.75,170.19 L539.50,168.89 L540.25,167.54 L541.00,166.08 L541.75,164.49 L542.50,162.82 L543.25,161.08 L544.00,159.32 L544.75,157.57 L545.50,155.86 L546.25,154.16 L547.00,152.44 L547.75,150.70 L548.50,148.92 L549.25,147.07 L550.00,145.13 L550.75,143.08 L551.50,140.89 L552.25,138.60 L553.00,136.26 L553.75,133.88 L554.50,131.40 L555.25,128.88 L556.00,126.39 L556.75,124.03 L557.50,121.78 L558.25,119.58 L559.00,117.42 L559.75,115.24 L560.50,113.00 L561.25,110.69 L562.00,108.36 L562.75,106.06 L563.50,103.82 L564.25,101.70 L565.00,99.72 L565.75,97.75 L566.50,95.80 L567.25,93.92 L568.00,92.15 L568.75,90.54 L569.50,89.14 L570.25,87.99 L571.00,86.96 L571.75,86.00 L572.50,85.10 L573.25,84.30 L574.00,83.60 L574.75,83.03 L575.50,82.59 L576.25,82.27 L577.00,81.97 L577.75,81.70 L578.50,81.49 L579.25,81.35 L580.00,81.30 L580.75,81.38 L581.50,81.59 L582.25,81.90 L583.00,82.29 L583.75,82.73 L584.50,83.18 L585.25,83.67 L586.00,84.31 L586.75,85.05 L587.50,85.87 L588.25,86.72 L589.00,87.56 L589.75,88.37 L590.50,89.17 L591.25,89.98 L592.00,90.81 L592.75,91.68 L593.50,92.59 L594.25,93.57 L595.00,94.62 L595.75,95.75 L596.50,96.95 L597.25,98.21 L598.00,99.52 L598.10,99.70" fill="none" stroke="#1010ff" stroke-width="1.7" stroke-linejoin="round" stroke-linecap="round"/>
</g>
<text x="377.20" y="219.00" font-family='"Liberation Sans", sans-serif' font-size="13.8" text-anchor="middle" fill="#111">0.85</text>
<text x="451.43" y="219.00" font-family='"Liberation Sans", sans-serif' font-size="13.8" text-anchor="middle" fill="#111">0.90</text>
<text x="525.66" y="219.00" font-family='"Liberation Sans", sans-serif' font-size="13.8" text-anchor="middle" fill="#111">0.95</text>
<text x="599.89" y="219.00" font-family='"Liberation Sans", sans-serif' font-size="13.8" text-anchor="middle" fill="#111">1.00</text>
<text x="358.10" y="209.20" font-family='"Liberation Sans", sans-serif' font-size="13.8" text-anchor="end" fill="#111">0.0</text>
<text x="358.10" y="173.92" font-family='"Liberation Sans", sans-serif' font-size="13.8" text-anchor="end" fill="#111">0.5</text>
<text x="358.10" y="138.64" font-family='"Liberation Sans", sans-serif' font-size="13.8" text-anchor="end" fill="#111">1.0</text>
<text x="358.10" y="103.36" font-family='"Liberation Sans", sans-serif' font-size="13.8" text-anchor="end" fill="#111">1.5</text>
<text x="358.10" y="68.08" font-family='"Liberation Sans", sans-serif' font-size="13.8" text-anchor="end" fill="#111">2.0</text>
<text x="358.10" y="32.80" font-family='"Liberation Sans", sans-serif' font-size="13.8" text-anchor="end" fill="#111">2.5</text>
<path d="M74.60,266.40v3.5M74.60,443.20v-3.5M148.83,266.40v3.5M148.83,443.20v-3.5M223.06,266.40v3.5M223.06,443.20v-3.5M297.29,266.40v3.5M297.29,443.20v-3.5M60.00,443.20h3.5M302.80,443.20h-3.5M60.00,413.73h3.5M302.80,413.73h-3.5M60.00,384.27h3.5M302.80,384.27h-3.5M60.00,354.80h3.5M302.80,354.80h-3.5M60.00,325.33h3.5M302.80,325.33h-3.5M60.00,295.87h3.5M302.80,295.87h-3.5M60.00,266.40h3.5M302.80,266.40h-3.5" stroke="#8a8a8a" stroke-width="1" fill="none"/>
<rect x="60.00" y="266.40" width="242.80" height="176.80" fill="none" stroke="#6a6a6a" stroke-width="1.7"/>
<g clip-path="url(#clipLB)">
<path d="M58.00,434.80 L58.75,434.76 L59.50,434.73 L60.25,434.69 L61.00,434.64 L61.75,434.60 L62.50,434.56 L63.25,434.51 L64.00,434.47 L64.75,434.43 L65.50,434.38 L66.25,434.34 L67.00,434.29 L67.75,434.24 L68.50,434.19 L69.25,434.15 L70.00,434.10 L70.75,434.05 L71.50,434.00 L72.25,433.95 L73.00,433.90 L73.75,433.85 L74.50,433.80 L75.25,433.75 L76.00,433.70 L76.75,433.65 L77.50,433.59 L78.25,433.54 L79.00,433.49 L79.75,433.44 L80.50,433.38 L81.25,433.33 L82.00,433.27 L82.75,433.22 L83.50,433.16 L84.25,433.11 L85.00,433.05 L85.75,433.00 L86.50,432.94 L87.25,432.89 L88.00,432.83 L88.75,432.78 L89.50,432.72 L90.25,432.66 L91.00,432.61 L91.75,432.55 L92.50,432.49 L93.25,432.43 L94.00,432.38 L94.75,432.32 L95.50,432.26 L96.25,432.20 L97.00,432.15 L97.75,432.09 L98.50,432.03 L99.25,431.97 L100.00,431.91 L100.75,431.85 L101.50,431.79 L102.25,431.73 L103.00,431.67 L103.75,431.61 L104.50,431.55 L105.25,431.49 L106.00,431.42 L106.75,431.36 L107.50,431.30 L108.25,431.24 L109.00,431.17 L109.75,431.11 L110.50,431.04 L111.25,430.98 L112.00,430.91 L112.75,430.85 L113.50,430.78 L114.25,430.72 L115.00,430.65 L115.75,430.58 L116.50,430.51 L117.25,430.44 L118.00,430.37 L118.75,430.30 L119.50,430.23 L120.25,430.16 L121.00,430.09 L121.75,430.02 L122.50,429.95 L123.25,429.87 L124.00,429.80 L124.75,429.73 L125.50,429.65 L126.25,429.57 L127.00,429.50 L127.75,429.42 L128.50,429.35 L129.25,429.27 L130.00,429.20 L130.75,429.12 L131.50,429.04 L132.25,428.97 L133.00,428.89 L133.75,428.81 L134.50,428.73 L135.25,428.65 L136.00,428.57 L136.75,428.49 L137.50,428.41 L138.25,428.33 L139.00,428.25 L139.75,428.17 L140.50,428.08 L141.25,428.00 L142.00,427.91 L142.75,427.83 L143.50,427.74 L144.25,427.65 L145.00,427.56 L145.75,427.47 L146.50,427.38 L147.25,427.29 L148.00,427.20 L148.75,427.10 L149.50,427.00 L150.25,426.91 L151.00,426.81 L151.75,426.71 L152.50,426.61 L153.25,426.50 L154.00,426.40 L154.75,426.29 L155.50,426.18 L156.25,426.07 L157.00,425.96 L157.75,425.85 L158.50,425.73 L159.25,425.62 L160.00,425.50 L160.75,425.38 L161.50,425.25 L162.25,425.13 L163.00,424.99 L163.75,424.86 L164.50,424.72 L165.25,424.58 L166.00,424.43 L166.75,424.28 L167.50,424.13 L168.25,423.98 L169.00,423.82 L169.75,423.66 L170.50,423.50 L171.25,423.33 L172.00,423.16 L172.75,422.99 L173.50,422.82 L174.25,422.65 L175.00,422.47 L175.75,422.29 L176.50,422.11 L177.25,421.93 L178.00,421.74 L178.75,421.55 L179.50,421.37 L180.25,421.18 L181.00,420.98 L181.75,420.79 L182.50,420.60 L183.25,420.40 L184.00,420.20 L184.75,420.01 L185.50,419.81 L186.25,419.61 L187.00,419.41 L187.75,419.21 L188.50,419.01 L189.25,418.80 L190.00,418.60 L190.75,418.40 L191.50,418.19 L192.25,417.99 L193.00,417.78 L193.75,417.57 L194.50,417.35 L195.25,417.13 L196.00,416.89 L196.75,416.66 L197.50,416.41 L198.25,416.15 L199.00,415.88 L199.75,415.60 L200.50,415.30 L201.25,414.98 L202.00,414.64 L202.75,414.27 L203.50,413.89 L204.25,413.50 L205.00,413.09 L205.75,412.68 L206.50,412.25 L207.25,411.81 L208.00,411.38 L208.75,410.94 L209.50,410.49 L210.25,410.05 L211.00,409.61 L211.75,409.17 L212.50,408.71 L213.25,408.23 L214.00,407.73 L214.75,407.19 L215.50,406.61 L216.25,405.99 L217.00,405.33 L217.75,404.64 L218.50,403.92 L219.25,403.18 L220.00,402.41 L220.75,401.63 L221.50,400.82 L222.25,400.01 L223.00,399.19 L223.75,398.37 L224.50,397.55 L225.25,396.73 L226.00,395.91 L226.75,395.09 L227.50,394.26 L228.25,393.42 L229.00,392.57 L229.75,391.70 L230.50,390.82 L231.25,389.92 L232.00,388.99 L232.75,388.04 L233.50,387.06 L234.25,386.05 L235.00,385.00 L235.75,383.90 L236.50,382.73 L237.25,381.50 L238.00,380.22 L238.75,378.90 L239.50,377.55 L240.25,376.17 L241.00,374.79 L241.75,373.40 L242.50,372.02 L243.25,370.65 L244.00,369.31 L244.75,368.00 L245.50,366.73 L246.25,365.52 L247.00,364.34 L247.75,363.20 L248.50,362.07 L249.25,360.96 L250.00,359.86 L250.75,358.76 L251.50,357.64 L252.25,356.51 L253.00,355.34 L253.75,354.14 L254.50,352.90 L255.25,351.60 L256.00,350.24 L256.75,348.81 L257.50,347.22 L258.25,345.50 L259.00,343.69 L259.75,341.84 L260.50,339.99 L261.25,338.20 L262.00,336.50 L262.75,334.86 L263.50,333.23 L264.25,331.62 L265.00,330.05 L265.75,328.56 L266.50,327.17 L267.25,325.88 L268.00,324.66 L268.75,323.49 L269.50,322.38 L270.25,321.34 L271.00,320.37 L271.75,319.48 L272.50,318.68 L273.25,317.96 L274.00,317.29 L274.75,316.67 L275.50,316.06 L276.25,315.44 L277.00,314.80 L277.75,314.10 L278.50,313.37 L279.25,312.67 L280.00,312.04 L280.75,311.54 L281.50,311.06 L282.25,310.63 L283.00,310.35 L283.75,310.31 L284.50,310.41 L285.25,310.58 L286.00,310.82 L286.75,311.08 L287.50,311.35 L288.25,311.72 L289.00,312.15 L289.75,312.63 L290.50,313.13 L291.25,313.63 L292.00,314.10 L292.75,314.60 L293.50,315.17 L294.25,315.84 L295.00,316.71 L295.75,317.96 L296.20,318.80" fill="none" stroke="#000" stroke-width="5.5" stroke-linejoin="round" stroke-linecap="round"/>
<path d="M58.00,434.50 L58.75,434.46 L59.50,434.43 L60.25,434.39 L61.00,434.34 L61.75,434.30 L62.50,434.25 L63.25,434.21 L64.00,434.16 L64.75,434.12 L65.50,434.07 L66.25,434.02 L67.00,433.97 L67.75,433.92 L68.50,433.87 L69.25,433.82 L70.00,433.77 L70.75,433.72 L71.50,433.67 L72.25,433.61 L73.00,433.56 L73.75,433.51 L74.50,433.45 L75.25,433.40 L76.00,433.34 L76.75,433.28 L77.50,433.23 L78.25,433.17 L79.00,433.11 L79.75,433.05 L80.50,433.00 L81.25,432.94 L82.00,432.88 L82.75,432.82 L83.50,432.76 L84.25,432.70 L85.00,432.64 L85.75,432.58 L86.50,432.51 L87.25,432.45 L88.00,432.39 L88.75,432.33 L89.50,432.27 L90.25,432.20 L91.00,432.14 L91.75,432.08 L92.50,432.01 L93.25,431.95 L94.00,431.89 L94.75,431.82 L95.50,431.76 L96.25,431.69 L97.00,431.63 L97.75,431.56 L98.50,431.49 L99.25,431.42 L100.00,431.36 L100.75,431.29 L101.50,431.22 L102.25,431.15 L103.00,431.08 L103.75,431.00 L104.50,430.93 L105.25,430.86 L106.00,430.79 L106.75,430.71 L107.50,430.64 L108.25,430.56 L109.00,430.49 L109.75,430.41 L110.50,430.34 L111.25,430.26 L112.00,430.18 L112.75,430.11 L113.50,430.03 L114.25,429.95 L115.00,429.87 L115.75,429.79 L116.50,429.71 L117.25,429.63 L118.00,429.55 L118.75,429.47 L119.50,429.39 L120.25,429.31 L121.00,429.23 L121.75,429.15 L122.50,429.07 L123.25,428.99 L124.00,428.91 L124.75,428.83 L125.50,428.75 L126.25,428.67 L127.00,428.59 L127.75,428.51 L128.50,428.43 L129.25,428.35 L130.00,428.27 L130.75,428.19 L131.50,428.12 L132.25,428.04 L133.00,427.96 L133.75,427.88 L134.50,427.81 L135.25,427.73 L136.00,427.65 L136.75,427.57 L137.50,427.50 L138.25,427.42 L139.00,427.34 L139.75,427.26 L140.50,427.18 L141.25,427.10 L142.00,427.02 L142.75,426.93 L143.50,426.85 L144.25,426.76 L145.00,426.68 L145.75,426.59 L146.50,426.50 L147.25,426.41 L148.00,426.32 L148.75,426.23 L149.50,426.13 L150.25,426.04 L151.00,425.94 L151.75,425.84 L152.50,425.74 L153.25,425.63 L154.00,425.53 L154.75,425.42 L155.50,425.31 L156.25,425.20 L157.00,425.08 L157.75,424.97 L158.50,424.85 L159.25,424.72 L160.00,424.60 L160.75,424.47 L161.50,424.34 L162.25,424.19 L163.00,424.05 L163.75,423.90 L164.50,423.74 L165.25,423.58 L166.00,423.41 L166.75,423.24 L167.50,423.06 L168.25,422.88 L169.00,422.70 L169.75,422.51 L170.50,422.31 L171.25,422.12 L172.00,421.91 L172.75,421.71 L173.50,421.50 L174.25,421.29 L175.00,421.08 L175.75,420.86 L176.50,420.64 L177.25,420.42 L178.00,420.19 L178.75,419.97 L179.50,419.74 L180.25,419.51 L181.00,419.27 L181.75,419.04 L182.50,418.80 L183.25,418.57 L184.00,418.33 L184.75,418.09 L185.50,417.85 L186.25,417.61 L187.00,417.37 L187.75,417.13 L188.50,416.88 L189.25,416.64 L190.00,416.40 L190.75,416.16 L191.50,415.91 L192.25,415.66 L193.00,415.41 L193.75,415.15 L194.50,414.89 L195.25,414.62 L196.00,414.34 L196.75,414.05 L197.50,413.76 L198.25,413.45 L199.00,413.14 L199.75,412.81 L200.50,412.47 L201.25,412.12 L202.00,411.74 L202.75,411.36 L203.50,410.96 L204.25,410.54 L205.00,410.12 L205.75,409.68 L206.50,409.23 L207.25,408.77 L208.00,408.30 L208.75,407.82 L209.50,407.33 L210.25,406.83 L211.00,406.31 L211.75,405.77 L212.50,405.21 L213.25,404.62 L214.00,404.02 L214.75,403.41 L215.50,402.78 L216.25,402.13 L217.00,401.46 L217.75,400.77 L218.50,400.07 L219.25,399.35 L220.00,398.63 L220.75,397.90 L221.50,397.17 L222.25,396.44 L223.00,395.71 L223.75,394.99 L224.50,394.27 L225.25,393.56 L226.00,392.83 L226.75,392.07 L227.50,391.29 L228.25,390.50 L229.00,389.71 L229.75,388.93 L230.50,388.17 L231.25,387.43 L232.00,386.74 L232.75,386.08 L233.50,385.49 L234.25,384.96 L235.00,384.50 L235.75,384.11 L236.50,383.76 L237.25,383.45 L238.00,383.16 L238.75,382.88 L239.50,382.60 L240.25,382.30 L241.00,382.01 L241.75,381.73 L242.50,381.45 L243.25,381.17 L244.00,380.89 L244.75,380.60 L245.50,380.30 L246.25,380.01 L247.00,379.71 L247.75,379.41 L248.50,379.10 L249.25,378.78 L250.00,378.44 L250.75,378.08 L251.50,377.72 L252.25,377.35 L253.00,376.97 L253.75,376.57 L254.50,376.14 L255.25,375.66 L256.00,375.13 L256.75,374.54 L257.50,373.82 L258.25,372.97 L259.00,372.00 L259.75,370.92 L260.50,369.78 L261.25,368.57 L262.00,367.33 L262.75,366.04 L263.50,364.60 L264.25,363.04 L265.00,361.41 L265.75,359.74 L266.50,357.98 L267.25,356.14 L268.00,354.24 L268.75,352.29 L269.50,350.29 L270.25,348.20 L271.00,346.07 L271.75,343.95 L272.50,341.87 L273.25,339.80 L274.00,337.74 L274.75,335.73 L275.50,333.80 L276.25,331.95 L277.00,330.22 L277.75,328.70 L278.50,327.31 L279.25,325.99 L280.00,324.70 L280.75,323.37 L281.50,322.03 L282.25,320.83 L283.00,319.81 L283.75,318.86 L284.50,318.04 L285.25,317.39 L286.00,316.90 L286.75,316.48 L287.50,316.11 L288.25,315.82 L289.00,315.60 L289.75,315.42 L290.50,315.26 L291.25,315.12 L292.00,315.03 L292.75,315.00 L293.50,315.13 L294.25,315.44 L295.00,315.89 L295.60,316.30" fill="none" stroke="#062006" stroke-width="4.8" stroke-linejoin="round" stroke-linecap="round"/><path d="M58.00,434.50 L58.75,434.46 L59.50,434.43 L60.25,434.39 L61.00,434.34 L61.75,434.30 L62.50,434.25 L63.25,434.21 L64.00,434.16 L64.75,434.12 L65.50,434.07 L66.25,434.02 L67.00,433.97 L67.75,433.92 L68.50,433.87 L69.25,433.82 L70.00,433.77 L70.75,433.72 L71.50,433.67 L72.25,433.61 L73.00,433.56 L73.75,433.51 L74.50,433.45 L75.25,433.40 L76.00,433.34 L76.75,433.28 L77.50,433.23 L78.25,433.17 L79.00,433.11 L79.75,433.05 L80.50,433.00 L81.25,432.94 L82.00,432.88 L82.75,432.82 L83.50,432.76 L84.25,432.70 L85.00,432.64 L85.75,432.58 L86.50,432.51 L87.25,432.45 L88.00,432.39 L88.75,432.33 L89.50,432.27 L90.25,432.20 L91.00,432.14 L91.75,432.08 L92.50,432.01 L93.25,431.95 L94.00,431.89 L94.75,431.82 L95.50,431.76 L96.25,431.69 L97.00,431.63 L97.75,431.56 L98.50,431.49 L99.25,431.42 L100.00,431.36 L100.75,431.29 L101.50,431.22 L102.25,431.15 L103.00,431.08 L103.75,431.00 L104.50,430.93 L105.25,430.86 L106.00,430.79 L106.75,430.71 L107.50,430.64 L108.25,430.56 L109.00,430.49 L109.75,430.41 L110.50,430.34 L111.25,430.26 L112.00,430.18 L112.75,430.11 L113.50,430.03 L114.25,429.95 L115.00,429.87 L115.75,429.79 L116.50,429.71 L117.25,429.63 L118.00,429.55 L118.75,429.47 L119.50,429.39 L120.25,429.31 L121.00,429.23 L121.75,429.15 L122.50,429.07 L123.25,428.99 L124.00,428.91 L124.75,428.83 L125.50,428.75 L126.25,428.67 L127.00,428.59 L127.75,428.51 L128.50,428.43 L129.25,428.35 L130.00,428.27 L130.75,428.19 L131.50,428.12 L132.25,428.04 L133.00,427.96 L133.75,427.88 L134.50,427.81 L135.25,427.73 L136.00,427.65 L136.75,427.57 L137.50,427.50 L138.25,427.42 L139.00,427.34 L139.75,427.26 L140.50,427.18 L141.25,427.10 L142.00,427.02 L142.75,426.93 L143.50,426.85 L144.25,426.76 L145.00,426.68 L145.75,426.59 L146.50,426.50 L147.25,426.41 L148.00,426.32 L148.75,426.23 L149.50,426.13 L150.25,426.04 L151.00,425.94 L151.75,425.84 L152.50,425.74 L153.25,425.63 L154.00,425.53 L154.75,425.42 L155.50,425.31 L156.25,425.20 L157.00,425.08 L157.75,424.97 L158.50,424.85 L159.25,424.72 L160.00,424.60 L160.75,424.47 L161.50,424.34 L162.25,424.19 L163.00,424.05 L163.75,423.90 L164.50,423.74 L165.25,423.58 L166.00,423.41 L166.75,423.24 L167.50,423.06 L168.25,422.88 L169.00,422.70 L169.75,422.51 L170.50,422.31 L171.25,422.12 L172.00,421.91 L172.75,421.71 L173.50,421.50 L174.25,421.29 L175.00,421.08 L175.75,420.86 L176.50,420.64 L177.25,420.42 L178.00,420.19 L178.75,419.97 L179.50,419.74 L180.25,419.51 L181.00,419.27 L181.75,419.04 L182.50,418.80 L183.25,418.57 L184.00,418.33 L184.75,418.09 L185.50,417.85 L186.25,417.61 L187.00,417.37 L187.75,417.13 L188.50,416.88 L189.25,416.64 L190.00,416.40 L190.75,416.16 L191.50,415.91 L192.25,415.66 L193.00,415.41 L193.75,415.15 L194.50,414.89 L195.25,414.62 L196.00,414.34 L196.75,414.05 L197.50,413.76 L198.25,413.45 L199.00,413.14 L199.75,412.81 L200.50,412.47 L201.25,412.12 L202.00,411.74 L202.75,411.36 L203.50,410.96 L204.25,410.54 L205.00,410.12 L205.75,409.68 L206.50,409.23 L207.25,408.77 L208.00,408.30 L208.75,407.82 L209.50,407.33 L210.25,406.83 L211.00,406.31 L211.75,405.77 L212.50,405.21 L213.25,404.62 L214.00,404.02 L214.75,403.41 L215.50,402.78 L216.25,402.13 L217.00,401.46 L217.75,400.77 L218.50,400.07 L219.25,399.35 L220.00,398.63 L220.75,397.90 L221.50,397.17 L222.25,396.44 L223.00,395.71 L223.75,394.99 L224.50,394.27 L225.25,393.56 L226.00,392.83 L226.75,392.07 L227.50,391.29 L228.25,390.50 L229.00,389.71 L229.75,388.93 L230.50,388.17 L231.25,387.43 L232.00,386.74 L232.75,386.08 L233.50,385.49 L234.25,384.96 L235.00,384.50 L235.75,384.11 L236.50,383.76 L237.25,383.45 L238.00,383.16 L238.75,382.88 L239.50,382.60 L240.25,382.30 L241.00,382.01 L241.75,381.73 L242.50,381.45 L243.25,381.17 L244.00,380.89 L244.75,380.60 L245.50,380.30 L246.25,380.01 L247.00,379.71 L247.75,379.41 L248.50,379.10 L249.25,378.78 L250.00,378.44 L250.75,378.08 L251.50,377.72 L252.25,377.35 L253.00,376.97 L253.75,376.57 L254.50,376.14 L255.25,375.66 L256.00,375.13 L256.75,374.54 L257.50,373.82 L258.25,372.97 L259.00,372.00 L259.75,370.92 L260.50,369.78 L261.25,368.57 L262.00,367.33 L262.75,366.04 L263.50,364.60 L264.25,363.04 L265.00,361.41 L265.75,359.74 L266.50,357.98 L267.25,356.14 L268.00,354.24 L268.75,352.29 L269.50,350.29 L270.25,348.20 L271.00,346.07 L271.75,343.95 L272.50,341.87 L273.25,339.80 L274.00,337.74 L274.75,335.73 L275.50,333.80 L276.25,331.95 L277.00,330.22 L277.75,328.70 L278.50,327.31 L279.25,325.99 L280.00,324.70 L280.75,323.37 L281.50,322.03 L282.25,320.83 L283.00,319.81 L283.75,318.86 L284.50,318.04 L285.25,317.39 L286.00,316.90 L286.75,316.48 L287.50,316.11 L288.25,315.82 L289.00,315.60 L289.75,315.42 L290.50,315.26 L291.25,315.12 L292.00,315.03 L292.75,315.00 L293.50,315.13 L294.25,315.44 L295.00,315.89 L295.60,316.30" fill="none" stroke="#0c8a0c" stroke-width="2.6" stroke-linejoin="round" stroke-linecap="round" stroke-dasharray="3 1.2"/>
<path d="M58.00,442.10 L58.75,442.09 L59.50,442.08 L60.25,442.08 L61.00,442.07 L61.75,442.06 L62.50,442.06 L63.25,442.05 L64.00,442.04 L64.75,442.03 L65.50,442.03 L66.25,442.02 L67.00,442.01 L67.75,442.00 L68.50,442.00 L69.25,441.99 L70.00,441.98 L70.75,441.97 L71.50,441.97 L72.25,441.96 L73.00,441.95 L73.75,441.95 L74.50,441.94 L75.25,441.93 L76.00,441.93 L76.75,441.92 L77.50,441.91 L78.25,441.90 L79.00,441.90 L79.75,441.89 L80.50,441.88 L81.25,441.88 L82.00,441.87 L82.75,441.86 L83.50,441.86 L84.25,441.85 L85.00,441.84 L85.75,441.84 L86.50,441.83 L87.25,441.82 L88.00,441.82 L88.75,441.81 L89.50,441.80 L90.25,441.80 L91.00,441.79 L91.75,441.79 L92.50,441.78 L93.25,441.77 L94.00,441.77 L94.75,441.76 L95.50,441.76 L96.25,441.75 L97.00,441.75 L97.75,441.74 L98.50,441.74 L99.25,441.73 L100.00,441.73 L100.75,441.72 L101.50,441.72 L102.25,441.71 L103.00,441.71 L103.75,441.70 L104.50,441.70 L105.25,441.69 L106.00,441.69 L106.75,441.69 L107.50,441.68 L108.25,441.68 L109.00,441.67 L109.75,441.67 L110.50,441.66 L111.25,441.66 L112.00,441.65 L112.75,441.65 L113.50,441.64 L114.25,441.64 L115.00,441.63 L115.75,441.62 L116.50,441.62 L117.25,441.61 L118.00,441.61 L118.75,441.60 L119.50,441.59 L120.25,441.59 L121.00,441.58 L121.75,441.57 L122.50,441.56 L123.25,441.56 L124.00,441.55 L124.75,441.54 L125.50,441.53 L126.25,441.52 L127.00,441.51 L127.75,441.50 L128.50,441.49 L129.25,441.48 L130.00,441.47 L130.75,441.45 L131.50,441.44 L132.25,441.42 L133.00,441.40 L133.75,441.38 L134.50,441.36 L135.25,441.34 L136.00,441.32 L136.75,441.30 L137.50,441.27 L138.25,441.25 L139.00,441.22 L139.75,441.19 L140.50,441.17 L141.25,441.14 L142.00,441.11 L142.75,441.08 L143.50,441.05 L144.25,441.02 L145.00,440.99 L145.75,440.96 L146.50,440.93 L147.25,440.90 L148.00,440.87 L148.75,440.84 L149.50,440.81 L150.25,440.77 L151.00,440.74 L151.75,440.71 L152.50,440.68 L153.25,440.65 L154.00,440.62 L154.75,440.59 L155.50,440.56 L156.25,440.53 L157.00,440.51 L157.75,440.48 L158.50,440.45 L159.25,440.43 L160.00,440.40 L160.75,440.38 L161.50,440.35 L162.25,440.33 L163.00,440.30 L163.75,440.28 L164.50,440.26 L165.25,440.24 L166.00,440.22 L166.75,440.20 L167.50,440.17 L168.25,440.15 L169.00,440.13 L169.75,440.11 L170.50,440.09 L171.25,440.07 L172.00,440.05 L172.75,440.04 L173.50,440.02 L174.25,440.00 L175.00,439.98 L175.75,439.96 L176.50,439.94 L177.25,439.92 L178.00,439.90 L178.75,439.88 L179.50,439.86 L180.25,439.84 L181.00,439.82 L181.75,439.80 L182.50,439.78 L183.25,439.75 L184.00,439.73 L184.75,439.71 L185.50,439.69 L186.25,439.66 L187.00,439.64 L187.75,439.61 L188.50,439.59 L189.25,439.56 L190.00,439.54 L190.75,439.51 L191.50,439.48 L192.25,439.45 L193.00,439.42 L193.75,439.39 L194.50,439.36 L195.25,439.33 L196.00,439.29 L196.75,439.26 L197.50,439.23 L198.25,439.19 L199.00,439.15 L199.75,439.11 L200.50,439.07 L201.25,439.02 L202.00,438.97 L202.75,438.91 L203.50,438.85 L204.25,438.78 L205.00,438.71 L205.75,438.63 L206.50,438.56 L207.25,438.48 L208.00,438.41 L208.75,438.34 L209.50,438.26 L210.25,438.18 L211.00,438.10 L211.75,438.02 L212.50,437.94 L213.25,437.86 L214.00,437.77 L214.75,437.68 L215.50,437.59 L216.25,437.49 L217.00,437.40 L217.75,437.31 L218.50,437.21 L219.25,437.11 L220.00,437.01 L220.75,436.91 L221.50,436.80 L222.25,436.68 L223.00,436.55 L223.75,436.41 L224.50,436.26 L225.25,436.09 L226.00,435.89 L226.75,435.68 L227.50,435.45 L228.25,435.20 L229.00,434.94 L229.75,434.66 L230.50,434.37 L231.25,434.07 L232.00,433.77 L232.75,433.45 L233.50,433.12 L234.25,432.76 L235.00,432.39 L235.75,431.99 L236.50,431.58 L237.25,431.14 L238.00,430.69 L238.75,430.21 L239.50,429.70 L240.25,429.18 L241.00,428.62 L241.75,428.01 L242.50,427.35 L243.25,426.64 L244.00,425.89 L244.75,425.11 L245.50,424.31 L246.25,423.49 L247.00,422.66 L247.75,421.83 L248.50,421.01 L249.25,420.17 L250.00,419.29 L250.75,418.38 L251.50,417.44 L252.25,416.49 L253.00,415.55 L253.75,414.60 L254.50,413.68 L255.25,412.79 L256.00,411.95 L256.75,411.15 L257.50,410.36 L258.25,409.55 L259.00,408.73 L259.75,407.93 L260.50,407.14 L261.25,406.40 L262.00,405.72 L262.75,405.10 L263.50,404.57 L264.25,404.14 L265.00,403.82 L265.75,403.55 L266.50,403.28 L267.25,403.03 L268.00,402.81 L268.75,402.62 L269.50,402.46 L270.25,402.36 L271.00,402.30 L271.75,402.32 L272.50,402.43 L273.25,402.62 L274.00,402.87 L274.75,403.18 L275.50,403.54 L276.25,403.91 L277.00,404.29 L277.75,404.68 L278.50,405.08 L279.25,405.54 L280.00,406.06 L280.75,406.62 L281.50,407.22 L282.25,407.84 L283.00,408.48 L283.75,409.13 L284.50,409.77 L285.25,410.44 L286.00,411.14 L286.75,411.86 L287.50,412.60 L288.25,413.37 L289.00,414.16 L289.75,414.96 L290.50,415.77 L291.25,416.60 L292.00,417.45 L292.75,418.33 L293.50,419.23 L294.25,420.15 L295.00,421.09 L295.75,422.05 L296.40,422.90" fill="none" stroke="#262600" stroke-width="3.8" stroke-linejoin="round" stroke-linecap="round"/><path d="M58.00,442.10 L58.75,442.09 L59.50,442.08 L60.25,442.08 L61.00,442.07 L61.75,442.06 L62.50,442.06 L63.25,442.05 L64.00,442.04 L64.75,442.03 L65.50,442.03 L66.25,442.02 L67.00,442.01 L67.75,442.00 L68.50,442.00 L69.25,441.99 L70.00,441.98 L70.75,441.97 L71.50,441.97 L72.25,441.96 L73.00,441.95 L73.75,441.95 L74.50,441.94 L75.25,441.93 L76.00,441.93 L76.75,441.92 L77.50,441.91 L78.25,441.90 L79.00,441.90 L79.75,441.89 L80.50,441.88 L81.25,441.88 L82.00,441.87 L82.75,441.86 L83.50,441.86 L84.25,441.85 L85.00,441.84 L85.75,441.84 L86.50,441.83 L87.25,441.82 L88.00,441.82 L88.75,441.81 L89.50,441.80 L90.25,441.80 L91.00,441.79 L91.75,441.79 L92.50,441.78 L93.25,441.77 L94.00,441.77 L94.75,441.76 L95.50,441.76 L96.25,441.75 L97.00,441.75 L97.75,441.74 L98.50,441.74 L99.25,441.73 L100.00,441.73 L100.75,441.72 L101.50,441.72 L102.25,441.71 L103.00,441.71 L103.75,441.70 L104.50,441.70 L105.25,441.69 L106.00,441.69 L106.75,441.69 L107.50,441.68 L108.25,441.68 L109.00,441.67 L109.75,441.67 L110.50,441.66 L111.25,441.66 L112.00,441.65 L112.75,441.65 L113.50,441.64 L114.25,441.64 L115.00,441.63 L115.75,441.62 L116.50,441.62 L117.25,441.61 L118.00,441.61 L118.75,441.60 L119.50,441.59 L120.25,441.59 L121.00,441.58 L121.75,441.57 L122.50,441.56 L123.25,441.56 L124.00,441.55 L124.75,441.54 L125.50,441.53 L126.25,441.52 L127.00,441.51 L127.75,441.50 L128.50,441.49 L129.25,441.48 L130.00,441.47 L130.75,441.45 L131.50,441.44 L132.25,441.42 L133.00,441.40 L133.75,441.38 L134.50,441.36 L135.25,441.34 L136.00,441.32 L136.75,441.30 L137.50,441.27 L138.25,441.25 L139.00,441.22 L139.75,441.19 L140.50,441.17 L141.25,441.14 L142.00,441.11 L142.75,441.08 L143.50,441.05 L144.25,441.02 L145.00,440.99 L145.75,440.96 L146.50,440.93 L147.25,440.90 L148.00,440.87 L148.75,440.84 L149.50,440.81 L150.25,440.77 L151.00,440.74 L151.75,440.71 L152.50,440.68 L153.25,440.65 L154.00,440.62 L154.75,440.59 L155.50,440.56 L156.25,440.53 L157.00,440.51 L157.75,440.48 L158.50,440.45 L159.25,440.43 L160.00,440.40 L160.75,440.38 L161.50,440.35 L162.25,440.33 L163.00,440.30 L163.75,440.28 L164.50,440.26 L165.25,440.24 L166.00,440.22 L166.75,440.20 L167.50,440.17 L168.25,440.15 L169.00,440.13 L169.75,440.11 L170.50,440.09 L171.25,440.07 L172.00,440.05 L172.75,440.04 L173.50,440.02 L174.25,440.00 L175.00,439.98 L175.75,439.96 L176.50,439.94 L177.25,439.92 L178.00,439.90 L178.75,439.88 L179.50,439.86 L180.25,439.84 L181.00,439.82 L181.75,439.80 L182.50,439.78 L183.25,439.75 L184.00,439.73 L184.75,439.71 L185.50,439.69 L186.25,439.66 L187.00,439.64 L187.75,439.61 L188.50,439.59 L189.25,439.56 L190.00,439.54 L190.75,439.51 L191.50,439.48 L192.25,439.45 L193.00,439.42 L193.75,439.39 L194.50,439.36 L195.25,439.33 L196.00,439.29 L196.75,439.26 L197.50,439.23 L198.25,439.19 L199.00,439.15 L199.75,439.11 L200.50,439.07 L201.25,439.02 L202.00,438.97 L202.75,438.91 L203.50,438.85 L204.25,438.78 L205.00,438.71 L205.75,438.63 L206.50,438.56 L207.25,438.48 L208.00,438.41 L208.75,438.34 L209.50,438.26 L210.25,438.18 L211.00,438.10 L211.75,438.02 L212.50,437.94 L213.25,437.86 L214.00,437.77 L214.75,437.68 L215.50,437.59 L216.25,437.49 L217.00,437.40 L217.75,437.31 L218.50,437.21 L219.25,437.11 L220.00,437.01 L220.75,436.91 L221.50,436.80 L222.25,436.68 L223.00,436.55 L223.75,436.41 L224.50,436.26 L225.25,436.09 L226.00,435.89 L226.75,435.68 L227.50,435.45 L228.25,435.20 L229.00,434.94 L229.75,434.66 L230.50,434.37 L231.25,434.07 L232.00,433.77 L232.75,433.45 L233.50,433.12 L234.25,432.76 L235.00,432.39 L235.75,431.99 L236.50,431.58 L237.25,431.14 L238.00,430.69 L238.75,430.21 L239.50,429.70 L240.25,429.18 L241.00,428.62 L241.75,428.01 L242.50,427.35 L243.25,426.64 L244.00,425.89 L244.75,425.11 L245.50,424.31 L246.25,423.49 L247.00,422.66 L247.75,421.83 L248.50,421.01 L249.25,420.17 L250.00,419.29 L250.75,418.38 L251.50,417.44 L252.25,416.49 L253.00,415.55 L253.75,414.60 L254.50,413.68 L255.25,412.79 L256.00,411.95 L256.75,411.15 L257.50,410.36 L258.25,409.55 L259.00,408.73 L259.75,407.93 L260.50,407.14 L261.25,406.40 L262.00,405.72 L262.75,405.10 L263.50,404.57 L264.25,404.14 L265.00,403.82 L265.75,403.55 L266.50,403.28 L267.25,403.03 L268.00,402.81 L268.75,402.62 L269.50,402.46 L270.25,402.36 L271.00,402.30 L271.75,402.32 L272.50,402.43 L273.25,402.62 L274.00,402.87 L274.75,403.18 L275.50,403.54 L276.25,403.91 L277.00,404.29 L277.75,404.68 L278.50,405.08 L279.25,405.54 L280.00,406.06 L280.75,406.62 L281.50,407.22 L282.25,407.84 L283.00,408.48 L283.75,409.13 L284.50,409.77 L285.25,410.44 L286.00,411.14 L286.75,411.86 L287.50,412.60 L288.25,413.37 L289.00,414.16 L289.75,414.96 L290.50,415.77 L291.25,416.60 L292.00,417.45 L292.75,418.33 L293.50,419.23 L294.25,420.15 L295.00,421.09 L295.75,422.05 L296.40,422.90" fill="none" stroke="#8c8c00" stroke-width="1.8" stroke-linejoin="round" stroke-linecap="round" stroke-dasharray="2.5 1"/>
<path d="M58.00,432.20 L58.75,432.16 L59.50,432.13 L60.25,432.09 L61.00,432.05 L61.75,432.00 L62.50,431.96 L63.25,431.92 L64.00,431.88 L64.75,431.84 L65.50,431.79 L66.25,431.75 L67.00,431.71 L67.75,431.67 L68.50,431.62 L69.25,431.58 L70.00,431.53 L70.75,431.49 L71.50,431.45 L72.25,431.40 L73.00,431.35 L73.75,431.31 L74.50,431.26 L75.25,431.22 L76.00,431.17 L76.75,431.12 L77.50,431.07 L78.25,431.03 L79.00,430.98 L79.75,430.93 L80.50,430.88 L81.25,430.83 L82.00,430.78 L82.75,430.72 L83.50,430.67 L84.25,430.62 L85.00,430.57 L85.75,430.51 L86.50,430.46 L87.25,430.40 L88.00,430.35 L88.75,430.29 L89.50,430.24 L90.25,430.18 L91.00,430.12 L91.75,430.06 L92.50,430.00 L93.25,429.94 L94.00,429.88 L94.75,429.82 L95.50,429.76 L96.25,429.69 L97.00,429.63 L97.75,429.56 L98.50,429.49 L99.25,429.42 L100.00,429.35 L100.75,429.28 L101.50,429.20 L102.25,429.13 L103.00,429.05 L103.75,428.97 L104.50,428.89 L105.25,428.81 L106.00,428.73 L106.75,428.65 L107.50,428.57 L108.25,428.48 L109.00,428.40 L109.75,428.31 L110.50,428.23 L111.25,428.14 L112.00,428.05 L112.75,427.96 L113.50,427.88 L114.25,427.79 L115.00,427.70 L115.75,427.61 L116.50,427.52 L117.25,427.43 L118.00,427.34 L118.75,427.25 L119.50,427.16 L120.25,427.07 L121.00,426.98 L121.75,426.89 L122.50,426.80 L123.25,426.71 L124.00,426.62 L124.75,426.53 L125.50,426.44 L126.25,426.35 L127.00,426.27 L127.75,426.18 L128.50,426.10 L129.25,426.01 L130.00,425.93 L130.75,425.84 L131.50,425.76 L132.25,425.68 L133.00,425.60 L133.75,425.51 L134.50,425.43 L135.25,425.35 L136.00,425.27 L136.75,425.18 L137.50,425.10 L138.25,425.01 L139.00,424.93 L139.75,424.85 L140.50,424.76 L141.25,424.67 L142.00,424.59 L142.75,424.50 L143.50,424.41 L144.25,424.32 L145.00,424.23 L145.75,424.13 L146.50,424.04 L147.25,423.94 L148.00,423.85 L148.75,423.75 L149.50,423.65 L150.25,423.54 L151.00,423.44 L151.75,423.33 L152.50,423.22 L153.25,423.11 L154.00,423.00 L154.75,422.88 L155.50,422.77 L156.25,422.65 L157.00,422.52 L157.75,422.40 L158.50,422.27 L159.25,422.13 L160.00,422.00 L160.75,421.86 L161.50,421.71 L162.25,421.56 L163.00,421.40 L163.75,421.23 L164.50,421.05 L165.25,420.87 L166.00,420.68 L166.75,420.49 L167.50,420.29 L168.25,420.09 L169.00,419.88 L169.75,419.67 L170.50,419.45 L171.25,419.23 L172.00,419.00 L172.75,418.77 L173.50,418.54 L174.25,418.30 L175.00,418.06 L175.75,417.82 L176.50,417.58 L177.25,417.33 L178.00,417.08 L178.75,416.83 L179.50,416.58 L180.25,416.32 L181.00,416.07 L181.75,415.81 L182.50,415.55 L183.25,415.30 L184.00,415.04 L184.75,414.78 L185.50,414.52 L186.25,414.27 L187.00,414.01 L187.75,413.76 L188.50,413.50 L189.25,413.25 L190.00,413.00 L190.75,412.75 L191.50,412.51 L192.25,412.26 L193.00,412.02 L193.75,411.77 L194.50,411.52 L195.25,411.26 L196.00,411.00 L196.75,410.73 L197.50,410.44 L198.25,410.15 L199.00,409.84 L199.75,409.51 L200.50,409.17 L201.25,408.81 L202.00,408.42 L202.75,408.02 L203.50,407.60 L204.25,407.17 L205.00,406.71 L205.75,406.24 L206.50,405.76 L207.25,405.26 L208.00,404.74 L208.75,404.21 L209.50,403.67 L210.25,403.11 L211.00,402.51 L211.75,401.86 L212.50,401.18 L213.25,400.48 L214.00,399.76 L214.75,399.04 L215.50,398.32 L216.25,397.60 L217.00,396.87 L217.75,396.14 L218.50,395.40 L219.25,394.65 L220.00,393.88 L220.75,393.11 L221.50,392.33 L222.25,391.54 L223.00,390.73 L223.75,389.90 L224.50,389.07 L225.25,388.21 L226.00,387.32 L226.75,386.39 L227.50,385.42 L228.25,384.43 L229.00,383.43 L229.75,382.41 L230.50,381.40 L231.25,380.39 L232.00,379.39 L232.75,378.42 L233.50,377.47 L234.25,376.57 L235.00,375.70 L235.75,374.89 L236.50,374.14 L237.25,373.43 L238.00,372.74 L238.75,372.05 L239.50,371.35 L240.25,370.62 L241.00,369.85 L241.75,369.01 L242.50,368.09 L243.25,367.03 L244.00,365.85 L244.75,364.61 L245.50,363.33 L246.25,362.07 L247.00,360.86 L247.75,359.66 L248.50,358.45 L249.25,357.25 L250.00,356.03 L250.75,354.81 L251.50,353.57 L252.25,352.34 L253.00,351.15 L253.75,349.95 L254.50,348.73 L255.25,347.43 L256.00,346.03 L256.75,344.47 L257.50,342.70 L258.25,340.71 L259.00,338.58 L259.75,336.35 L260.50,334.08 L261.25,331.83 L262.00,329.63 L262.75,327.38 L263.50,325.10 L264.25,322.79 L265.00,320.51 L265.75,318.25 L266.50,316.06 L267.25,313.90 L268.00,311.78 L268.75,309.69 L269.50,307.63 L270.25,305.56 L271.00,303.53 L271.75,301.57 L272.50,299.72 L273.25,297.94 L274.00,296.25 L274.75,294.68 L275.50,293.23 L276.25,291.82 L277.00,290.55 L277.75,289.54 L278.50,288.73 L279.25,287.98 L280.00,287.35 L280.75,286.86 L281.50,286.57 L282.25,286.38 L283.00,286.22 L283.75,286.12 L284.50,286.11 L285.25,286.26 L286.00,286.56 L286.75,286.92 L287.50,287.32 L288.25,287.86 L289.00,288.51 L289.75,289.24 L290.50,290.00 L291.25,290.76 L292.00,291.55 L292.75,292.39 L293.50,293.28 L294.25,294.22 L295.00,295.19 L295.60,296.00" fill="none" stroke="#2020ff" stroke-width="4" stroke-opacity="0.22" stroke-dasharray="1 1.6" stroke-linejoin="round"/><path d="M58.00,432.20 L58.75,432.16 L59.50,432.13 L60.25,432.09 L61.00,432.05 L61.75,432.00 L62.50,431.96 L63.25,431.92 L64.00,431.88 L64.75,431.84 L65.50,431.79 L66.25,431.75 L67.00,431.71 L67.75,431.67 L68.50,431.62 L69.25,431.58 L70.00,431.53 L70.75,431.49 L71.50,431.45 L72.25,431.40 L73.00,431.35 L73.75,431.31 L74.50,431.26 L75.25,431.22 L76.00,431.17 L76.75,431.12 L77.50,431.07 L78.25,431.03 L79.00,430.98 L79.75,430.93 L80.50,430.88 L81.25,430.83 L82.00,430.78 L82.75,430.72 L83.50,430.67 L84.25,430.62 L85.00,430.57 L85.75,430.51 L86.50,430.46 L87.25,430.40 L88.00,430.35 L88.75,430.29 L89.50,430.24 L90.25,430.18 L91.00,430.12 L91.75,430.06 L92.50,430.00 L93.25,429.94 L94.00,429.88 L94.75,429.82 L95.50,429.76 L96.25,429.69 L97.00,429.63 L97.75,429.56 L98.50,429.49 L99.25,429.42 L100.00,429.35 L100.75,429.28 L101.50,429.20 L102.25,429.13 L103.00,429.05 L103.75,428.97 L104.50,428.89 L105.25,428.81 L106.00,428.73 L106.75,428.65 L107.50,428.57 L108.25,428.48 L109.00,428.40 L109.75,428.31 L110.50,428.23 L111.25,428.14 L112.00,428.05 L112.75,427.96 L113.50,427.88 L114.25,427.79 L115.00,427.70 L115.75,427.61 L116.50,427.52 L117.25,427.43 L118.00,427.34 L118.75,427.25 L119.50,427.16 L120.25,427.07 L121.00,426.98 L121.75,426.89 L122.50,426.80 L123.25,426.71 L124.00,426.62 L124.75,426.53 L125.50,426.44 L126.25,426.35 L127.00,426.27 L127.75,426.18 L128.50,426.10 L129.25,426.01 L130.00,425.93 L130.75,425.84 L131.50,425.76 L132.25,425.68 L133.00,425.60 L133.75,425.51 L134.50,425.43 L135.25,425.35 L136.00,425.27 L136.75,425.18 L137.50,425.10 L138.25,425.01 L139.00,424.93 L139.75,424.85 L140.50,424.76 L141.25,424.67 L142.00,424.59 L142.75,424.50 L143.50,424.41 L144.25,424.32 L145.00,424.23 L145.75,424.13 L146.50,424.04 L147.25,423.94 L148.00,423.85 L148.75,423.75 L149.50,423.65 L150.25,423.54 L151.00,423.44 L151.75,423.33 L152.50,423.22 L153.25,423.11 L154.00,423.00 L154.75,422.88 L155.50,422.77 L156.25,422.65 L157.00,422.52 L157.75,422.40 L158.50,422.27 L159.25,422.13 L160.00,422.00 L160.75,421.86 L161.50,421.71 L162.25,421.56 L163.00,421.40 L163.75,421.23 L164.50,421.05 L165.25,420.87 L166.00,420.68 L166.75,420.49 L167.50,420.29 L168.25,420.09 L169.00,419.88 L169.75,419.67 L170.50,419.45 L171.25,419.23 L172.00,419.00 L172.75,418.77 L173.50,418.54 L174.25,418.30 L175.00,418.06 L175.75,417.82 L176.50,417.58 L177.25,417.33 L178.00,417.08 L178.75,416.83 L179.50,416.58 L180.25,416.32 L181.00,416.07 L181.75,415.81 L182.50,415.55 L183.25,415.30 L184.00,415.04 L184.75,414.78 L185.50,414.52 L186.25,414.27 L187.00,414.01 L187.75,413.76 L188.50,413.50 L189.25,413.25 L190.00,413.00 L190.75,412.75 L191.50,412.51 L192.25,412.26 L193.00,412.02 L193.75,411.77 L194.50,411.52 L195.25,411.26 L196.00,411.00 L196.75,410.73 L197.50,410.44 L198.25,410.15 L199.00,409.84 L199.75,409.51 L200.50,409.17 L201.25,408.81 L202.00,408.42 L202.75,408.02 L203.50,407.60 L204.25,407.17 L205.00,406.71 L205.75,406.24 L206.50,405.76 L207.25,405.26 L208.00,404.74 L208.75,404.21 L209.50,403.67 L210.25,403.11 L211.00,402.51 L211.75,401.86 L212.50,401.18 L213.25,400.48 L214.00,399.76 L214.75,399.04 L215.50,398.32 L216.25,397.60 L217.00,396.87 L217.75,396.14 L218.50,395.40 L219.25,394.65 L220.00,393.88 L220.75,393.11 L221.50,392.33 L222.25,391.54 L223.00,390.73 L223.75,389.90 L224.50,389.07 L225.25,388.21 L226.00,387.32 L226.75,386.39 L227.50,385.42 L228.25,384.43 L229.00,383.43 L229.75,382.41 L230.50,381.40 L231.25,380.39 L232.00,379.39 L232.75,378.42 L233.50,377.47 L234.25,376.57 L235.00,375.70 L235.75,374.89 L236.50,374.14 L237.25,373.43 L238.00,372.74 L238.75,372.05 L239.50,371.35 L240.25,370.62 L241.00,369.85 L241.75,369.01 L242.50,368.09 L243.25,367.03 L244.00,365.85 L244.75,364.61 L245.50,363.33 L246.25,362.07 L247.00,360.86 L247.75,359.66 L248.50,358.45 L249.25,357.25 L250.00,356.03 L250.75,354.81 L251.50,353.57 L252.25,352.34 L253.00,351.15 L253.75,349.95 L254.50,348.73 L255.25,347.43 L256.00,346.03 L256.75,344.47 L257.50,342.70 L258.25,340.71 L259.00,338.58 L259.75,336.35 L260.50,334.08 L261.25,331.83 L262.00,329.63 L262.75,327.38 L263.50,325.10 L264.25,322.79 L265.00,320.51 L265.75,318.25 L266.50,316.06 L267.25,313.90 L268.00,311.78 L268.75,309.69 L269.50,307.63 L270.25,305.56 L271.00,303.53 L271.75,301.57 L272.50,299.72 L273.25,297.94 L274.00,296.25 L274.75,294.68 L275.50,293.23 L276.25,291.82 L277.00,290.55 L277.75,289.54 L278.50,288.73 L279.25,287.98 L280.00,287.35 L280.75,286.86 L281.50,286.57 L282.25,286.38 L283.00,286.22 L283.75,286.12 L284.50,286.11 L285.25,286.26 L286.00,286.56 L286.75,286.92 L287.50,287.32 L288.25,287.86 L289.00,288.51 L289.75,289.24 L290.50,290.00 L291.25,290.76 L292.00,291.55 L292.75,292.39 L293.50,293.28 L294.25,294.22 L295.00,295.19 L295.60,296.00" fill="none" stroke="#1010ff" stroke-width="1.7" stroke-linejoin="round" stroke-linecap="round"/>
</g>
<text x="74.60" y="456.60" font-family='"Liberation Sans", sans-serif' font-size="13.8" text-anchor="middle" fill="#111">0.85</text>
<text x="148.83" y="456.60" font-family='"Liberation Sans", sans-serif' font-size="13.8" text-anchor="middle" fill="#111">0.90</text>
<text x="223.06" y="456.60" font-family='"Liberation Sans", sans-serif' font-size="13.8" text-anchor="middle" fill="#111">0.95</text>
<text x="297.29" y="456.60" font-family='"Liberation Sans", sans-serif' font-size="13.8" text-anchor="middle" fill="#111">1.00</text>
<text x="55.40" y="447.20" font-family='"Liberation Sans", sans-serif' font-size="13.8" text-anchor="end" fill="#111">0.0</text>
<text x="55.40" y="417.73" font-family='"Liberation Sans", sans-serif' font-size="13.8" text-anchor="end" fill="#111">0.3</text>
<text x="55.40" y="388.27" font-family='"Liberation Sans", sans-serif' font-size="13.8" text-anchor="end" fill="#111">0.6</text>
<text x="55.40" y="358.80" font-family='"Liberation Sans", sans-serif' font-size="13.8" text-anchor="end" fill="#111">0.9</text>
<text x="55.40" y="329.33" font-family='"Liberation Sans", sans-serif' font-size="13.8" text-anchor="end" fill="#111">1.2</text>
<text x="55.40" y="299.87" font-family='"Liberation Sans", sans-serif' font-size="13.8" text-anchor="end" fill="#111">1.5</text>
<text x="55.40" y="270.40" font-family='"Liberation Sans", sans-serif' font-size="13.8" text-anchor="end" fill="#111">1.8</text>
<path d="M377.20,266.40v3.5M377.20,443.20v-3.5M451.43,266.40v3.5M451.43,443.20v-3.5M525.66,266.40v3.5M525.66,443.20v-3.5M599.89,266.40v3.5M599.89,443.20v-3.5M362.70,443.20h3.5M605.40,443.20h-3.5M362.70,413.73h3.5M605.40,413.73h-3.5M362.70,384.27h3.5M605.40,384.27h-3.5M362.70,354.80h3.5M605.40,354.80h-3.5M362.70,325.33h3.5M605.40,325.33h-3.5M362.70,295.87h3.5M605.40,295.87h-3.5M362.70,266.40h3.5M605.40,266.40h-3.5" stroke="#8a8a8a" stroke-width="1" fill="none"/>
<rect x="362.70" y="266.40" width="242.70" height="176.80" fill="none" stroke="#6a6a6a" stroke-width="1.7"/>
<g clip-path="url(#clipRB)">
<path d="M361.00,433.70 L361.75,433.67 L362.50,433.64 L363.25,433.61 L364.00,433.58 L364.75,433.55 L365.50,433.52 L366.25,433.49 L367.00,433.46 L367.75,433.43 L368.50,433.40 L369.25,433.37 L370.00,433.34 L370.75,433.31 L371.50,433.28 L372.25,433.25 L373.00,433.22 L373.75,433.19 L374.50,433.16 L375.25,433.13 L376.00,433.10 L376.75,433.07 L377.50,433.04 L378.25,433.01 L379.00,432.98 L379.75,432.95 L380.50,432.92 L381.25,432.88 L382.00,432.85 L382.75,432.82 L383.50,432.79 L384.25,432.76 L385.00,432.73 L385.75,432.70 L386.50,432.66 L387.25,432.63 L388.00,432.60 L388.75,432.57 L389.50,432.54 L390.25,432.50 L391.00,432.47 L391.75,432.44 L392.50,432.41 L393.25,432.38 L394.00,432.34 L394.75,432.31 L395.50,432.28 L396.25,432.25 L397.00,432.22 L397.75,432.19 L398.50,432.16 L399.25,432.13 L400.00,432.10 L400.75,432.07 L401.50,432.04 L402.25,432.01 L403.00,431.98 L403.75,431.96 L404.50,431.93 L405.25,431.90 L406.00,431.88 L406.75,431.85 L407.50,431.82 L408.25,431.79 L409.00,431.77 L409.75,431.74 L410.50,431.71 L411.25,431.68 L412.00,431.65 L412.75,431.62 L413.50,431.59 L414.25,431.56 L415.00,431.53 L415.75,431.50 L416.50,431.47 L417.25,431.43 L418.00,431.40 L418.75,431.36 L419.50,431.33 L420.25,431.29 L421.00,431.25 L421.75,431.21 L422.50,431.17 L423.25,431.13 L424.00,431.09 L424.75,431.05 L425.50,431.00 L426.25,430.96 L427.00,430.91 L427.75,430.86 L428.50,430.81 L429.25,430.75 L430.00,430.70 L430.75,430.64 L431.50,430.58 L432.25,430.51 L433.00,430.44 L433.75,430.37 L434.50,430.29 L435.25,430.20 L436.00,430.11 L436.75,430.02 L437.50,429.92 L438.25,429.82 L439.00,429.71 L439.75,429.61 L440.50,429.49 L441.25,429.38 L442.00,429.26 L442.75,429.13 L443.50,429.01 L444.25,428.87 L445.00,428.74 L445.75,428.60 L446.50,428.46 L447.25,428.32 L448.00,428.17 L448.75,428.02 L449.50,427.87 L450.25,427.72 L451.00,427.56 L451.75,427.40 L452.50,427.24 L453.25,427.07 L454.00,426.91 L454.75,426.74 L455.50,426.57 L456.25,426.39 L457.00,426.22 L457.75,426.04 L458.50,425.86 L459.25,425.68 L460.00,425.50 L460.75,425.31 L461.50,425.12 L462.25,424.94 L463.00,424.74 L463.75,424.54 L464.50,424.32 L465.25,424.10 L466.00,423.87 L466.75,423.63 L467.50,423.38 L468.25,423.12 L469.00,422.86 L469.75,422.58 L470.50,422.30 L471.25,422.01 L472.00,421.71 L472.75,421.40 L473.50,421.08 L474.25,420.76 L475.00,420.43 L475.75,420.09 L476.50,419.74 L477.25,419.38 L478.00,418.99 L478.75,418.56 L479.50,418.10 L480.25,417.61 L481.00,417.09 L481.75,416.56 L482.50,416.02 L483.25,415.46 L484.00,414.90 L484.75,414.34 L485.50,413.79 L486.25,413.24 L487.00,412.71 L487.75,412.19 L488.50,411.70 L489.25,411.23 L490.00,410.80 L490.75,410.40 L491.50,410.01 L492.25,409.64 L493.00,409.29 L493.75,408.94 L494.50,408.61 L495.25,408.27 L496.00,407.94 L496.75,407.60 L497.50,407.25 L498.25,406.89 L499.00,406.52 L499.75,406.13 L500.50,405.73 L501.25,405.32 L502.00,404.90 L502.75,404.47 L503.50,404.03 L504.25,403.59 L505.00,403.13 L505.75,402.67 L506.50,402.19 L507.25,401.70 L508.00,401.20 L508.75,400.69 L509.50,400.16 L510.25,399.62 L511.00,399.06 L511.75,398.49 L512.50,397.90 L513.25,397.30 L514.00,396.67 L514.75,396.03 L515.50,395.38 L516.25,394.70 L517.00,394.00 L517.75,393.28 L518.50,392.55 L519.25,391.78 L520.00,391.00 L520.75,390.17 L521.50,389.29 L522.25,388.37 L523.00,387.40 L523.75,386.40 L524.50,385.38 L525.25,384.34 L526.00,383.29 L526.75,382.24 L527.50,381.19 L528.25,380.15 L529.00,379.10 L529.75,378.03 L530.50,376.94 L531.25,375.84 L532.00,374.73 L532.75,373.62 L533.50,372.50 L534.25,371.39 L535.00,370.28 L535.75,369.18 L536.50,368.10 L537.25,367.04 L538.00,366.00 L538.75,364.97 L539.50,363.93 L540.25,362.90 L541.00,361.86 L541.75,360.84 L542.50,359.82 L543.25,358.82 L544.00,357.83 L544.75,356.87 L545.50,355.92 L546.25,355.01 L547.00,354.12 L547.75,353.27 L548.50,352.46 L549.25,351.68 L550.00,350.92 L550.75,350.18 L551.50,349.46 L552.25,348.76 L553.00,348.07 L553.75,347.39 L554.50,346.72 L555.25,346.06 L556.00,345.39 L556.75,344.72 L557.50,344.05 L558.25,343.37 L559.00,342.67 L559.75,341.95 L560.50,341.21 L561.25,340.47 L562.00,339.74 L562.75,339.01 L563.50,338.30 L564.25,337.61 L565.00,336.96 L565.75,336.34 L566.50,335.77 L567.25,335.26 L568.00,334.80 L568.75,334.39 L569.50,334.02 L570.25,333.67 L571.00,333.35 L571.75,333.05 L572.50,332.77 L573.25,332.51 L574.00,332.25 L574.75,331.99 L575.50,331.75 L576.25,331.53 L577.00,331.35 L577.75,331.23 L578.50,331.15 L579.25,331.09 L580.00,331.03 L580.75,330.98 L581.50,330.94 L582.25,330.91 L583.00,330.90 L583.75,330.92 L584.50,330.98 L585.25,331.07 L586.00,331.19 L586.75,331.33 L587.50,331.48 L588.25,331.63 L589.00,331.82 L589.75,332.06 L590.50,332.34 L591.25,332.64 L592.00,332.95 L592.75,333.26 L593.50,333.56 L594.25,333.87 L595.00,334.19 L595.75,334.51 L596.50,334.85 L597.25,335.20 L598.00,335.55 L598.10,335.60" fill="none" stroke="#000" stroke-width="5.5" stroke-linejoin="round" stroke-linecap="round"/>
<path d="M361.00,431.40 L361.75,431.37 L362.50,431.33 L363.25,431.30 L364.00,431.26 L364.75,431.23 L365.50,431.19 L366.25,431.16 L367.00,431.12 L367.75,431.09 L368.50,431.05 L369.25,431.02 L370.00,430.98 L370.75,430.95 L371.50,430.91 L372.25,430.88 L373.00,430.84 L373.75,430.81 L374.50,430.77 L375.25,430.74 L376.00,430.70 L376.75,430.67 L377.50,430.63 L378.25,430.59 L379.00,430.56 L379.75,430.52 L380.50,430.49 L381.25,430.45 L382.00,430.42 L382.75,430.38 L383.50,430.35 L384.25,430.31 L385.00,430.28 L385.75,430.24 L386.50,430.20 L387.25,430.17 L388.00,430.13 L388.75,430.10 L389.50,430.06 L390.25,430.03 L391.00,429.99 L391.75,429.96 L392.50,429.92 L393.25,429.88 L394.00,429.85 L394.75,429.81 L395.50,429.78 L396.25,429.74 L397.00,429.71 L397.75,429.67 L398.50,429.64 L399.25,429.61 L400.00,429.58 L400.75,429.55 L401.50,429.51 L402.25,429.48 L403.00,429.45 L403.75,429.42 L404.50,429.39 L405.25,429.36 L406.00,429.33 L406.75,429.31 L407.50,429.28 L408.25,429.25 L409.00,429.22 L409.75,429.19 L410.50,429.16 L411.25,429.13 L412.00,429.09 L412.75,429.06 L413.50,429.03 L414.25,429.00 L415.00,428.97 L415.75,428.93 L416.50,428.90 L417.25,428.86 L418.00,428.83 L418.75,428.79 L419.50,428.75 L420.25,428.71 L421.00,428.67 L421.75,428.63 L422.50,428.59 L423.25,428.55 L424.00,428.51 L424.75,428.46 L425.50,428.41 L426.25,428.36 L427.00,428.31 L427.75,428.26 L428.50,428.21 L429.25,428.16 L430.00,428.10 L430.75,428.04 L431.50,427.97 L432.25,427.90 L433.00,427.82 L433.75,427.74 L434.50,427.65 L435.25,427.56 L436.00,427.46 L436.75,427.35 L437.50,427.25 L438.25,427.13 L439.00,427.02 L439.75,426.90 L440.50,426.77 L441.25,426.65 L442.00,426.52 L442.75,426.38 L443.50,426.25 L444.25,426.11 L445.00,425.97 L445.75,425.83 L446.50,425.68 L447.25,425.54 L448.00,425.39 L448.75,425.25 L449.50,425.10 L450.25,424.95 L451.00,424.80 L451.75,424.65 L452.50,424.50 L453.25,424.35 L454.00,424.20 L454.75,424.05 L455.50,423.90 L456.25,423.76 L457.00,423.61 L457.75,423.47 L458.50,423.33 L459.25,423.19 L460.00,423.05 L460.75,422.92 L461.50,422.79 L462.25,422.66 L463.00,422.53 L463.75,422.40 L464.50,422.28 L465.25,422.16 L466.00,422.03 L466.75,421.91 L467.50,421.79 L468.25,421.66 L469.00,421.54 L469.75,421.41 L470.50,421.29 L471.25,421.16 L472.00,421.03 L472.75,420.90 L473.50,420.77 L474.25,420.63 L475.00,420.49 L475.75,420.35 L476.50,420.20 L477.25,420.05 L478.00,419.89 L478.75,419.71 L479.50,419.53 L480.25,419.34 L481.00,419.14 L481.75,418.94 L482.50,418.73 L483.25,418.53 L484.00,418.33 L484.75,418.13 L485.50,417.94 L486.25,417.75 L487.00,417.57 L487.75,417.41 L488.50,417.26 L489.25,417.12 L490.00,417.00 L490.75,416.89 L491.50,416.77 L492.25,416.66 L493.00,416.54 L493.75,416.43 L494.50,416.33 L495.25,416.23 L496.00,416.14 L496.75,416.07 L497.50,416.00 L498.25,415.95 L499.00,415.92 L499.75,415.90 L500.50,415.90 L501.25,415.90 L502.00,415.91 L502.75,415.92 L503.50,415.93 L504.25,415.94 L505.00,415.95 L505.75,415.96 L506.50,415.97 L507.25,415.98 L508.00,415.99 L508.75,416.00 L509.50,416.00 L510.25,416.00 L511.00,416.00 L511.75,416.00 L512.50,416.00 L513.25,416.00 L514.00,416.00 L514.75,416.00 L515.50,416.00 L516.25,416.00 L517.00,416.00 L517.75,416.00 L518.50,416.00 L519.25,416.00 L520.00,416.00 L520.75,415.96 L521.50,415.85 L522.25,415.67 L523.00,415.44 L523.75,415.16 L524.50,414.85 L525.25,414.51 L526.00,414.16 L526.75,413.80 L527.50,413.43 L528.25,413.08 L529.00,412.70 L529.75,412.28 L530.50,411.83 L531.25,411.33 L532.00,410.79 L532.75,410.20 L533.50,409.56 L534.25,408.81 L535.00,407.96 L535.75,407.06 L536.50,406.13 L537.25,405.19 L538.00,404.23 L538.75,403.24 L539.50,402.19 L540.25,401.06 L541.00,399.83 L541.75,398.43 L542.50,396.88 L543.25,395.21 L544.00,393.46 L544.75,391.66 L545.50,389.87 L546.25,388.12 L547.00,386.43 L547.75,384.73 L548.50,383.00 L549.25,381.27 L550.00,379.56 L550.75,377.88 L551.50,376.25 L552.25,374.70 L553.00,373.22 L553.75,371.80 L554.50,370.42 L555.25,369.07 L556.00,367.77 L556.75,366.50 L557.50,365.25 L558.25,364.04 L559.00,362.89 L559.75,361.78 L560.50,360.60 L561.25,359.36 L562.00,358.09 L562.75,356.82 L563.50,355.57 L564.25,354.38 L565.00,353.26 L565.75,352.16 L566.50,351.09 L567.25,350.05 L568.00,349.05 L568.75,348.09 L569.50,347.18 L570.25,346.31 L571.00,345.48 L571.75,344.68 L572.50,343.91 L573.25,343.19 L574.00,342.50 L574.75,341.85 L575.50,341.22 L576.25,340.62 L577.00,340.05 L577.75,339.51 L578.50,339.00 L579.25,338.51 L580.00,338.04 L580.75,337.58 L581.50,337.15 L582.25,336.76 L583.00,336.41 L583.75,336.10 L584.50,335.80 L585.25,335.50 L586.00,335.22 L586.75,335.00 L587.50,334.85 L588.25,334.80 L589.00,334.80 L589.75,334.81 L590.50,334.83 L591.25,334.85 L592.00,334.88 L592.75,334.92 L593.50,335.06 L594.25,335.29 L595.00,335.57 L595.75,335.86 L596.50,336.19 L597.25,336.59 L598.00,337.04 L598.70,337.50" fill="none" stroke="#062006" stroke-width="4.8" stroke-linejoin="round" stroke-linecap="round"/><path d="M361.00,431.40 L361.75,431.37 L362.50,431.33 L363.25,431.30 L364.00,431.26 L364.75,431.23 L365.50,431.19 L366.25,431.16 L367.00,431.12 L367.75,431.09 L368.50,431.05 L369.25,431.02 L370.00,430.98 L370.75,430.95 L371.50,430.91 L372.25,430.88 L373.00,430.84 L373.75,430.81 L374.50,430.77 L375.25,430.74 L376.00,430.70 L376.75,430.67 L377.50,430.63 L378.25,430.59 L379.00,430.56 L379.75,430.52 L380.50,430.49 L381.25,430.45 L382.00,430.42 L382.75,430.38 L383.50,430.35 L384.25,430.31 L385.00,430.28 L385.75,430.24 L386.50,430.20 L387.25,430.17 L388.00,430.13 L388.75,430.10 L389.50,430.06 L390.25,430.03 L391.00,429.99 L391.75,429.96 L392.50,429.92 L393.25,429.88 L394.00,429.85 L394.75,429.81 L395.50,429.78 L396.25,429.74 L397.00,429.71 L397.75,429.67 L398.50,429.64 L399.25,429.61 L400.00,429.58 L400.75,429.55 L401.50,429.51 L402.25,429.48 L403.00,429.45 L403.75,429.42 L404.50,429.39 L405.25,429.36 L406.00,429.33 L406.75,429.31 L407.50,429.28 L408.25,429.25 L409.00,429.22 L409.75,429.19 L410.50,429.16 L411.25,429.13 L412.00,429.09 L412.75,429.06 L413.50,429.03 L414.25,429.00 L415.00,428.97 L415.75,428.93 L416.50,428.90 L417.25,428.86 L418.00,428.83 L418.75,428.79 L419.50,428.75 L420.25,428.71 L421.00,428.67 L421.75,428.63 L422.50,428.59 L423.25,428.55 L424.00,428.51 L424.75,428.46 L425.50,428.41 L426.25,428.36 L427.00,428.31 L427.75,428.26 L428.50,428.21 L429.25,428.16 L430.00,428.10 L430.75,428.04 L431.50,427.97 L432.25,427.90 L433.00,427.82 L433.75,427.74 L434.50,427.65 L435.25,427.56 L436.00,427.46 L436.75,427.35 L437.50,427.25 L438.25,427.13 L439.00,427.02 L439.75,426.90 L440.50,426.77 L441.25,426.65 L442.00,426.52 L442.75,426.38 L443.50,426.25 L444.25,426.11 L445.00,425.97 L445.75,425.83 L446.50,425.68 L447.25,425.54 L448.00,425.39 L448.75,425.25 L449.50,425.10 L450.25,424.95 L451.00,424.80 L451.75,424.65 L452.50,424.50 L453.25,424.35 L454.00,424.20 L454.75,424.05 L455.50,423.90 L456.25,423.76 L457.00,423.61 L457.75,423.47 L458.50,423.33 L459.25,423.19 L460.00,423.05 L460.75,422.92 L461.50,422.79 L462.25,422.66 L463.00,422.53 L463.75,422.40 L464.50,422.28 L465.25,422.16 L466.00,422.03 L466.75,421.91 L467.50,421.79 L468.25,421.66 L469.00,421.54 L469.75,421.41 L470.50,421.29 L471.25,421.16 L472.00,421.03 L472.75,420.90 L473.50,420.77 L474.25,420.63 L475.00,420.49 L475.75,420.35 L476.50,420.20 L477.25,420.05 L478.00,419.89 L478.75,419.71 L479.50,419.53 L480.25,419.34 L481.00,419.14 L481.75,418.94 L482.50,418.73 L483.25,418.53 L484.00,418.33 L484.75,418.13 L485.50,417.94 L486.25,417.75 L487.00,417.57 L487.75,417.41 L488.50,417.26 L489.25,417.12 L490.00,417.00 L490.75,416.89 L491.50,416.77 L492.25,416.66 L493.00,416.54 L493.75,416.43 L494.50,416.33 L495.25,416.23 L496.00,416.14 L496.75,416.07 L497.50,416.00 L498.25,415.95 L499.00,415.92 L499.75,415.90 L500.50,415.90 L501.25,415.90 L502.00,415.91 L502.75,415.92 L503.50,415.93 L504.25,415.94 L505.00,415.95 L505.75,415.96 L506.50,415.97 L507.25,415.98 L508.00,415.99 L508.75,416.00 L509.50,416.00 L510.25,416.00 L511.00,416.00 L511.75,416.00 L512.50,416.00 L513.25,416.00 L514.00,416.00 L514.75,416.00 L515.50,416.00 L516.25,416.00 L517.00,416.00 L517.75,416.00 L518.50,416.00 L519.25,416.00 L520.00,416.00 L520.75,415.96 L521.50,415.85 L522.25,415.67 L523.00,415.44 L523.75,415.16 L524.50,414.85 L525.25,414.51 L526.00,414.16 L526.75,413.80 L527.50,413.43 L528.25,413.08 L529.00,412.70 L529.75,412.28 L530.50,411.83 L531.25,411.33 L532.00,410.79 L532.75,410.20 L533.50,409.56 L534.25,408.81 L535.00,407.96 L535.75,407.06 L536.50,406.13 L537.25,405.19 L538.00,404.23 L538.75,403.24 L539.50,402.19 L540.25,401.06 L541.00,399.83 L541.75,398.43 L542.50,396.88 L543.25,395.21 L544.00,393.46 L544.75,391.66 L545.50,389.87 L546.25,388.12 L547.00,386.43 L547.75,384.73 L548.50,383.00 L549.25,381.27 L550.00,379.56 L550.75,377.88 L551.50,376.25 L552.25,374.70 L553.00,373.22 L553.75,371.80 L554.50,370.42 L555.25,369.07 L556.00,367.77 L556.75,366.50 L557.50,365.25 L558.25,364.04 L559.00,362.89 L559.75,361.78 L560.50,360.60 L561.25,359.36 L562.00,358.09 L562.75,356.82 L563.50,355.57 L564.25,354.38 L565.00,353.26 L565.75,352.16 L566.50,351.09 L567.25,350.05 L568.00,349.05 L568.75,348.09 L569.50,347.18 L570.25,346.31 L571.00,345.48 L571.75,344.68 L572.50,343.91 L573.25,343.19 L574.00,342.50 L574.75,341.85 L575.50,341.22 L576.25,340.62 L577.00,340.05 L577.75,339.51 L578.50,339.00 L579.25,338.51 L580.00,338.04 L580.75,337.58 L581.50,337.15 L582.25,336.76 L583.00,336.41 L583.75,336.10 L584.50,335.80 L585.25,335.50 L586.00,335.22 L586.75,335.00 L587.50,334.85 L588.25,334.80 L589.00,334.80 L589.75,334.81 L590.50,334.83 L591.25,334.85 L592.00,334.88 L592.75,334.92 L593.50,335.06 L594.25,335.29 L595.00,335.57 L595.75,335.86 L596.50,336.19 L597.25,336.59 L598.00,337.04 L598.70,337.50" fill="none" stroke="#0c8a0c" stroke-width="2.6" stroke-linejoin="round" stroke-linecap="round" stroke-dasharray="3 1.2"/>
<path d="M361.00,442.40 L361.75,442.40 L362.50,442.40 L363.25,442.40 L364.00,442.39 L364.75,442.39 L365.50,442.39 L366.25,442.39 L367.00,442.39 L367.75,442.39 L368.50,442.38 L369.25,442.38 L370.00,442.38 L370.75,442.38 L371.50,442.38 L372.25,442.37 L373.00,442.37 L373.75,442.37 L374.50,442.37 L375.25,442.37 L376.00,442.37 L376.75,442.36 L377.50,442.36 L378.25,442.36 L379.00,442.36 L379.75,442.36 L380.50,442.35 L381.25,442.35 L382.00,442.35 L382.75,442.35 L383.50,442.35 L384.25,442.34 L385.00,442.34 L385.75,442.34 L386.50,442.34 L387.25,442.34 L388.00,442.33 L388.75,442.33 L389.50,442.33 L390.25,442.33 L391.00,442.33 L391.75,442.32 L392.50,442.32 L393.25,442.32 L394.00,442.32 L394.75,442.32 L395.50,442.31 L396.25,442.31 L397.00,442.31 L397.75,442.31 L398.50,442.30 L399.25,442.30 L400.00,442.30 L400.75,442.30 L401.50,442.30 L402.25,442.29 L403.00,442.29 L403.75,442.29 L404.50,442.29 L405.25,442.29 L406.00,442.28 L406.75,442.28 L407.50,442.28 L408.25,442.28 L409.00,442.28 L409.75,442.27 L410.50,442.27 L411.25,442.27 L412.00,442.27 L412.75,442.27 L413.50,442.26 L414.25,442.26 L415.00,442.26 L415.75,442.26 L416.50,442.26 L417.25,442.25 L418.00,442.25 L418.75,442.25 L419.50,442.25 L420.25,442.24 L421.00,442.24 L421.75,442.24 L422.50,442.24 L423.25,442.23 L424.00,442.23 L424.75,442.23 L425.50,442.22 L426.25,442.22 L427.00,442.22 L427.75,442.21 L428.50,442.21 L429.25,442.20 L430.00,442.20 L430.75,442.20 L431.50,442.19 L432.25,442.18 L433.00,442.18 L433.75,442.17 L434.50,442.16 L435.25,442.16 L436.00,442.15 L436.75,442.14 L437.50,442.13 L438.25,442.12 L439.00,442.11 L439.75,442.09 L440.50,442.08 L441.25,442.07 L442.00,442.06 L442.75,442.04 L443.50,442.03 L444.25,442.01 L445.00,442.00 L445.75,441.98 L446.50,441.97 L447.25,441.95 L448.00,441.93 L448.75,441.91 L449.50,441.89 L450.25,441.87 L451.00,441.85 L451.75,441.83 L452.50,441.81 L453.25,441.79 L454.00,441.77 L454.75,441.75 L455.50,441.72 L456.25,441.70 L457.00,441.67 L457.75,441.65 L458.50,441.62 L459.25,441.60 L460.00,441.57 L460.75,441.55 L461.50,441.52 L462.25,441.49 L463.00,441.46 L463.75,441.42 L464.50,441.38 L465.25,441.34 L466.00,441.29 L466.75,441.24 L467.50,441.19 L468.25,441.13 L469.00,441.06 L469.75,441.00 L470.50,440.93 L471.25,440.86 L472.00,440.78 L472.75,440.71 L473.50,440.62 L474.25,440.54 L475.00,440.45 L475.75,440.36 L476.50,440.27 L477.25,440.18 L478.00,440.08 L478.75,439.98 L479.50,439.88 L480.25,439.78 L481.00,439.67 L481.75,439.57 L482.50,439.46 L483.25,439.35 L484.00,439.24 L484.75,439.12 L485.50,439.01 L486.25,438.89 L487.00,438.78 L487.75,438.66 L488.50,438.54 L489.25,438.42 L490.00,438.30 L490.75,438.17 L491.50,438.03 L492.25,437.88 L493.00,437.72 L493.75,437.55 L494.50,437.37 L495.25,437.19 L496.00,437.00 L496.75,436.81 L497.50,436.62 L498.25,436.43 L499.00,436.24 L499.75,436.06 L500.50,435.88 L501.25,435.71 L502.00,435.53 L502.75,435.36 L503.50,435.19 L504.25,435.01 L505.00,434.84 L505.75,434.65 L506.50,434.47 L507.25,434.28 L508.00,434.08 L508.75,433.87 L509.50,433.65 L510.25,433.42 L511.00,433.18 L511.75,432.94 L512.50,432.68 L513.25,432.42 L514.00,432.14 L514.75,431.85 L515.50,431.55 L516.25,431.24 L517.00,430.92 L517.75,430.59 L518.50,430.24 L519.25,429.88 L520.00,429.50 L520.75,429.09 L521.50,428.64 L522.25,428.16 L523.00,427.64 L523.75,427.11 L524.50,426.56 L525.25,426.00 L526.00,425.44 L526.75,424.89 L527.50,424.35 L528.25,423.83 L529.00,423.30 L529.75,422.77 L530.50,422.24 L531.25,421.70 L532.00,421.16 L532.75,420.62 L533.50,420.09 L534.25,419.56 L535.00,419.05 L535.75,418.55 L536.50,418.06 L537.25,417.59 L538.00,417.13 L538.75,416.70 L539.50,416.27 L540.25,415.86 L541.00,415.45 L541.75,415.06 L542.50,414.67 L543.25,414.28 L544.00,413.91 L544.75,413.54 L545.50,413.17 L546.25,412.81 L547.00,412.45 L547.75,412.10 L548.50,411.74 L549.25,411.36 L550.00,410.98 L550.75,410.62 L551.50,410.29 L552.25,410.01 L553.00,409.79 L553.75,409.60 L554.50,409.41 L555.25,409.23 L556.00,409.06 L556.75,408.91 L557.50,408.78 L558.25,408.69 L559.00,408.62 L559.75,408.59 L560.50,408.60 L561.25,408.65 L562.00,408.73 L562.75,408.84 L563.50,408.97 L564.25,409.12 L565.00,409.29 L565.75,409.45 L566.50,409.63 L567.25,409.80 L568.00,410.00 L568.75,410.23 L569.50,410.49 L570.25,410.77 L571.00,411.07 L571.75,411.38 L572.50,411.70 L573.25,412.03 L574.00,412.35 L574.75,412.67 L575.50,413.01 L576.25,413.36 L577.00,413.73 L577.75,414.10 L578.50,414.48 L579.25,414.86 L580.00,415.24 L580.75,415.61 L581.50,415.98 L582.25,416.36 L583.00,416.73 L583.75,417.11 L584.50,417.49 L585.25,417.86 L586.00,418.24 L586.75,418.62 L587.50,418.99 L588.25,419.36 L589.00,419.72 L589.75,420.07 L590.50,420.41 L591.25,420.76 L592.00,421.12 L592.75,421.49 L593.50,421.89 L594.25,422.32 L595.00,422.77 L595.75,423.24 L596.50,423.73 L597.25,424.24 L598.00,424.77 L598.75,425.32 L599.00,425.51" fill="none" stroke="#262600" stroke-width="3.8" stroke-linejoin="round" stroke-linecap="round"/><path d="M361.00,442.40 L361.75,442.40 L362.50,442.40 L363.25,442.40 L364.00,442.39 L364.75,442.39 L365.50,442.39 L366.25,442.39 L367.00,442.39 L367.75,442.39 L368.50,442.38 L369.25,442.38 L370.00,442.38 L370.75,442.38 L371.50,442.38 L372.25,442.37 L373.00,442.37 L373.75,442.37 L374.50,442.37 L375.25,442.37 L376.00,442.37 L376.75,442.36 L377.50,442.36 L378.25,442.36 L379.00,442.36 L379.75,442.36 L380.50,442.35 L381.25,442.35 L382.00,442.35 L382.75,442.35 L383.50,442.35 L384.25,442.34 L385.00,442.34 L385.75,442.34 L386.50,442.34 L387.25,442.34 L388.00,442.33 L388.75,442.33 L389.50,442.33 L390.25,442.33 L391.00,442.33 L391.75,442.32 L392.50,442.32 L393.25,442.32 L394.00,442.32 L394.75,442.32 L395.50,442.31 L396.25,442.31 L397.00,442.31 L397.75,442.31 L398.50,442.30 L399.25,442.30 L400.00,442.30 L400.75,442.30 L401.50,442.30 L402.25,442.29 L403.00,442.29 L403.75,442.29 L404.50,442.29 L405.25,442.29 L406.00,442.28 L406.75,442.28 L407.50,442.28 L408.25,442.28 L409.00,442.28 L409.75,442.27 L410.50,442.27 L411.25,442.27 L412.00,442.27 L412.75,442.27 L413.50,442.26 L414.25,442.26 L415.00,442.26 L415.75,442.26 L416.50,442.26 L417.25,442.25 L418.00,442.25 L418.75,442.25 L419.50,442.25 L420.25,442.24 L421.00,442.24 L421.75,442.24 L422.50,442.24 L423.25,442.23 L424.00,442.23 L424.75,442.23 L425.50,442.22 L426.25,442.22 L427.00,442.22 L427.75,442.21 L428.50,442.21 L429.25,442.20 L430.00,442.20 L430.75,442.20 L431.50,442.19 L432.25,442.18 L433.00,442.18 L433.75,442.17 L434.50,442.16 L435.25,442.16 L436.00,442.15 L436.75,442.14 L437.50,442.13 L438.25,442.12 L439.00,442.11 L439.75,442.09 L440.50,442.08 L441.25,442.07 L442.00,442.06 L442.75,442.04 L443.50,442.03 L444.25,442.01 L445.00,442.00 L445.75,441.98 L446.50,441.97 L447.25,441.95 L448.00,441.93 L448.75,441.91 L449.50,441.89 L450.25,441.87 L451.00,441.85 L451.75,441.83 L452.50,441.81 L453.25,441.79 L454.00,441.77 L454.75,441.75 L455.50,441.72 L456.25,441.70 L457.00,441.67 L457.75,441.65 L458.50,441.62 L459.25,441.60 L460.00,441.57 L460.75,441.55 L461.50,441.52 L462.25,441.49 L463.00,441.46 L463.75,441.42 L464.50,441.38 L465.25,441.34 L466.00,441.29 L466.75,441.24 L467.50,441.19 L468.25,441.13 L469.00,441.06 L469.75,441.00 L470.50,440.93 L471.25,440.86 L472.00,440.78 L472.75,440.71 L473.50,440.62 L474.25,440.54 L475.00,440.45 L475.75,440.36 L476.50,440.27 L477.25,440.18 L478.00,440.08 L478.75,439.98 L479.50,439.88 L480.25,439.78 L481.00,439.67 L481.75,439.57 L482.50,439.46 L483.25,439.35 L484.00,439.24 L484.75,439.12 L485.50,439.01 L486.25,438.89 L487.00,438.78 L487.75,438.66 L488.50,438.54 L489.25,438.42 L490.00,438.30 L490.75,438.17 L491.50,438.03 L492.25,437.88 L493.00,437.72 L493.75,437.55 L494.50,437.37 L495.25,437.19 L496.00,437.00 L496.75,436.81 L497.50,436.62 L498.25,436.43 L499.00,436.24 L499.75,436.06 L500.50,435.88 L501.25,435.71 L502.00,435.53 L502.75,435.36 L503.50,435.19 L504.25,435.01 L505.00,434.84 L505.75,434.65 L506.50,434.47 L507.25,434.28 L508.00,434.08 L508.75,433.87 L509.50,433.65 L510.25,433.42 L511.00,433.18 L511.75,432.94 L512.50,432.68 L513.25,432.42 L514.00,432.14 L514.75,431.85 L515.50,431.55 L516.25,431.24 L517.00,430.92 L517.75,430.59 L518.50,430.24 L519.25,429.88 L520.00,429.50 L520.75,429.09 L521.50,428.64 L522.25,428.16 L523.00,427.64 L523.75,427.11 L524.50,426.56 L525.25,426.00 L526.00,425.44 L526.75,424.89 L527.50,424.35 L528.25,423.83 L529.00,423.30 L529.75,422.77 L530.50,422.24 L531.25,421.70 L532.00,421.16 L532.75,420.62 L533.50,420.09 L534.25,419.56 L535.00,419.05 L535.75,418.55 L536.50,418.06 L537.25,417.59 L538.00,417.13 L538.75,416.70 L539.50,416.27 L540.25,415.86 L541.00,415.45 L541.75,415.06 L542.50,414.67 L543.25,414.28 L544.00,413.91 L544.75,413.54 L545.50,413.17 L546.25,412.81 L547.00,412.45 L547.75,412.10 L548.50,411.74 L549.25,411.36 L550.00,410.98 L550.75,410.62 L551.50,410.29 L552.25,410.01 L553.00,409.79 L553.75,409.60 L554.50,409.41 L555.25,409.23 L556.00,409.06 L556.75,408.91 L557.50,408.78 L558.25,408.69 L559.00,408.62 L559.75,408.59 L560.50,408.60 L561.25,408.65 L562.00,408.73 L562.75,408.84 L563.50,408.97 L564.25,409.12 L565.00,409.29 L565.75,409.45 L566.50,409.63 L567.25,409.80 L568.00,410.00 L568.75,410.23 L569.50,410.49 L570.25,410.77 L571.00,411.07 L571.75,411.38 L572.50,411.70 L573.25,412.03 L574.00,412.35 L574.75,412.67 L575.50,413.01 L576.25,413.36 L577.00,413.73 L577.75,414.10 L578.50,414.48 L579.25,414.86 L580.00,415.24 L580.75,415.61 L581.50,415.98 L582.25,416.36 L583.00,416.73 L583.75,417.11 L584.50,417.49 L585.25,417.86 L586.00,418.24 L586.75,418.62 L587.50,418.99 L588.25,419.36 L589.00,419.72 L589.75,420.07 L590.50,420.41 L591.25,420.76 L592.00,421.12 L592.75,421.49 L593.50,421.89 L594.25,422.32 L595.00,422.77 L595.75,423.24 L596.50,423.73 L597.25,424.24 L598.00,424.77 L598.75,425.32 L599.00,425.51" fill="none" stroke="#8c8c00" stroke-width="1.8" stroke-linejoin="round" stroke-linecap="round" stroke-dasharray="2.5 1"/>
<path d="M361.00,442.30 L361.75,442.30 L362.50,442.29 L363.25,442.29 L364.00,442.29 L364.75,442.28 L365.50,442.28 L366.25,442.27 L367.00,442.27 L367.75,442.26 L368.50,442.26 L369.25,442.26 L370.00,442.25 L370.75,442.25 L371.50,442.24 L372.25,442.24 L373.00,442.23 L373.75,442.23 L374.50,442.22 L375.25,442.22 L376.00,442.21 L376.75,442.20 L377.50,442.20 L378.25,442.19 L379.00,442.19 L379.75,442.18 L380.50,442.18 L381.25,442.17 L382.00,442.16 L382.75,442.16 L383.50,442.15 L384.25,442.15 L385.00,442.14 L385.75,442.13 L386.50,442.13 L387.25,442.12 L388.00,442.11 L388.75,442.11 L389.50,442.10 L390.25,442.09 L391.00,442.09 L391.75,442.08 L392.50,442.07 L393.25,442.07 L394.00,442.06 L394.75,442.05 L395.50,442.04 L396.25,442.04 L397.00,442.03 L397.75,442.02 L398.50,442.01 L399.25,442.01 L400.00,442.00 L400.75,441.99 L401.50,441.99 L402.25,441.98 L403.00,441.97 L403.75,441.96 L404.50,441.95 L405.25,441.95 L406.00,441.94 L406.75,441.93 L407.50,441.92 L408.25,441.92 L409.00,441.91 L409.75,441.90 L410.50,441.89 L411.25,441.88 L412.00,441.87 L412.75,441.86 L413.50,441.85 L414.25,441.85 L415.00,441.84 L415.75,441.83 L416.50,441.82 L417.25,441.81 L418.00,441.80 L418.75,441.79 L419.50,441.78 L420.25,441.77 L421.00,441.75 L421.75,441.74 L422.50,441.73 L423.25,441.72 L424.00,441.71 L424.75,441.69 L425.50,441.68 L426.25,441.67 L427.00,441.66 L427.75,441.64 L428.50,441.63 L429.25,441.61 L430.00,441.60 L430.75,441.59 L431.50,441.57 L432.25,441.55 L433.00,441.54 L433.75,441.52 L434.50,441.50 L435.25,441.49 L436.00,441.47 L436.75,441.45 L437.50,441.43 L438.25,441.41 L439.00,441.39 L439.75,441.37 L440.50,441.35 L441.25,441.33 L442.00,441.31 L442.75,441.28 L443.50,441.26 L444.25,441.23 L445.00,441.21 L445.75,441.18 L446.50,441.15 L447.25,441.13 L448.00,441.10 L448.75,441.07 L449.50,441.04 L450.25,441.01 L451.00,440.98 L451.75,440.94 L452.50,440.91 L453.25,440.88 L454.00,440.84 L454.75,440.80 L455.50,440.77 L456.25,440.73 L457.00,440.69 L457.75,440.65 L458.50,440.61 L459.25,440.57 L460.00,440.52 L460.75,440.48 L461.50,440.43 L462.25,440.38 L463.00,440.33 L463.75,440.27 L464.50,440.20 L465.25,440.12 L466.00,440.04 L466.75,439.95 L467.50,439.86 L468.25,439.76 L469.00,439.66 L469.75,439.55 L470.50,439.44 L471.25,439.33 L472.00,439.21 L472.75,439.09 L473.50,438.97 L474.25,438.85 L475.00,438.73 L475.75,438.60 L476.50,438.48 L477.25,438.36 L478.00,438.23 L478.75,438.10 L479.50,437.97 L480.25,437.83 L481.00,437.68 L481.75,437.53 L482.50,437.38 L483.25,437.23 L484.00,437.07 L484.75,436.91 L485.50,436.75 L486.25,436.58 L487.00,436.41 L487.75,436.24 L488.50,436.07 L489.25,435.90 L490.00,435.73 L490.75,435.56 L491.50,435.38 L492.25,435.21 L493.00,435.03 L493.75,434.86 L494.50,434.67 L495.25,434.49 L496.00,434.30 L496.75,434.11 L497.50,433.91 L498.25,433.70 L499.00,433.49 L499.75,433.27 L500.50,433.05 L501.25,432.80 L502.00,432.55 L502.75,432.28 L503.50,432.00 L504.25,431.71 L505.00,431.43 L505.75,431.14 L506.50,430.85 L507.25,430.56 L508.00,430.29 L508.75,430.02 L509.50,429.76 L510.25,429.52 L511.00,429.28 L511.75,429.05 L512.50,428.82 L513.25,428.60 L514.00,428.38 L514.75,428.16 L515.50,427.95 L516.25,427.74 L517.00,427.53 L517.75,427.33 L518.50,427.13 L519.25,426.93 L520.00,426.73 L520.75,426.54 L521.50,426.34 L522.25,426.13 L523.00,425.93 L523.75,425.73 L524.50,425.53 L525.25,425.34 L526.00,425.16 L526.75,424.98 L527.50,424.82 L528.25,424.67 L529.00,424.53 L529.75,424.42 L530.50,424.31 L531.25,424.22 L532.00,424.14 L532.75,424.07 L533.50,424.00 L534.25,423.93 L535.00,423.86 L535.75,423.78 L536.50,423.69 L537.25,423.60 L538.00,423.51 L538.75,423.42 L539.50,423.33 L540.25,423.24 L541.00,423.17 L541.75,423.11 L542.50,423.06 L543.25,423.03 L544.00,423.02 L544.75,423.03 L545.50,423.04 L546.25,423.05 L547.00,423.06 L547.75,423.08 L548.50,423.11 L549.25,423.13 L550.00,423.16 L550.75,423.19 L551.50,423.23 L552.25,423.26 L553.00,423.30 L553.75,423.35 L554.50,423.43 L555.25,423.52 L556.00,423.63 L556.75,423.75 L557.50,423.87 L558.25,424.01 L559.00,424.15 L559.75,424.30 L560.50,424.44 L561.25,424.59 L562.00,424.73 L562.75,424.88 L563.50,425.04 L564.25,425.20 L565.00,425.37 L565.75,425.55 L566.50,425.73 L567.25,425.91 L568.00,426.09 L568.75,426.28 L569.50,426.47 L570.25,426.66 L571.00,426.84 L571.75,427.03 L572.50,427.23 L573.25,427.43 L574.00,427.63 L574.75,427.83 L575.50,428.04 L576.25,428.24 L577.00,428.44 L577.75,428.65 L578.50,428.85 L579.25,429.04 L580.00,429.24 L580.75,429.43 L581.50,429.63 L582.25,429.83 L583.00,430.02 L583.75,430.22 L584.50,430.41 L585.25,430.60 L586.00,430.79 L586.75,430.97 L587.50,431.16 L588.25,431.33 L589.00,431.51 L589.75,431.67 L590.50,431.82 L591.25,431.98 L592.00,432.14 L592.75,432.31 L593.50,432.50 L594.25,432.70 L595.00,432.92 L595.75,433.16 L596.50,433.40 L597.25,433.66 L598.00,433.93 L598.75,434.21 L599.00,434.30" fill="none" stroke="#200020" stroke-width="4.2" stroke-linejoin="round" stroke-linecap="round"/><path d="M361.00,442.30 L361.75,442.30 L362.50,442.29 L363.25,442.29 L364.00,442.29 L364.75,442.28 L365.50,442.28 L366.25,442.27 L367.00,442.27 L367.75,442.26 L368.50,442.26 L369.25,442.26 L370.00,442.25 L370.75,442.25 L371.50,442.24 L372.25,442.24 L373.00,442.23 L373.75,442.23 L374.50,442.22 L375.25,442.22 L376.00,442.21 L376.75,442.20 L377.50,442.20 L378.25,442.19 L379.00,442.19 L379.75,442.18 L380.50,442.18 L381.25,442.17 L382.00,442.16 L382.75,442.16 L383.50,442.15 L384.25,442.15 L385.00,442.14 L385.75,442.13 L386.50,442.13 L387.25,442.12 L388.00,442.11 L388.75,442.11 L389.50,442.10 L390.25,442.09 L391.00,442.09 L391.75,442.08 L392.50,442.07 L393.25,442.07 L394.00,442.06 L394.75,442.05 L395.50,442.04 L396.25,442.04 L397.00,442.03 L397.75,442.02 L398.50,442.01 L399.25,442.01 L400.00,442.00 L400.75,441.99 L401.50,441.99 L402.25,441.98 L403.00,441.97 L403.75,441.96 L404.50,441.95 L405.25,441.95 L406.00,441.94 L406.75,441.93 L407.50,441.92 L408.25,441.92 L409.00,441.91 L409.75,441.90 L410.50,441.89 L411.25,441.88 L412.00,441.87 L412.75,441.86 L413.50,441.85 L414.25,441.85 L415.00,441.84 L415.75,441.83 L416.50,441.82 L417.25,441.81 L418.00,441.80 L418.75,441.79 L419.50,441.78 L420.25,441.77 L421.00,441.75 L421.75,441.74 L422.50,441.73 L423.25,441.72 L424.00,441.71 L424.75,441.69 L425.50,441.68 L426.25,441.67 L427.00,441.66 L427.75,441.64 L428.50,441.63 L429.25,441.61 L430.00,441.60 L430.75,441.59 L431.50,441.57 L432.25,441.55 L433.00,441.54 L433.75,441.52 L434.50,441.50 L435.25,441.49 L436.00,441.47 L436.75,441.45 L437.50,441.43 L438.25,441.41 L439.00,441.39 L439.75,441.37 L440.50,441.35 L441.25,441.33 L442.00,441.31 L442.75,441.28 L443.50,441.26 L444.25,441.23 L445.00,441.21 L445.75,441.18 L446.50,441.15 L447.25,441.13 L448.00,441.10 L448.75,441.07 L449.50,441.04 L450.25,441.01 L451.00,440.98 L451.75,440.94 L452.50,440.91 L453.25,440.88 L454.00,440.84 L454.75,440.80 L455.50,440.77 L456.25,440.73 L457.00,440.69 L457.75,440.65 L458.50,440.61 L459.25,440.57 L460.00,440.52 L460.75,440.48 L461.50,440.43 L462.25,440.38 L463.00,440.33 L463.75,440.27 L464.50,440.20 L465.25,440.12 L466.00,440.04 L466.75,439.95 L467.50,439.86 L468.25,439.76 L469.00,439.66 L469.75,439.55 L470.50,439.44 L471.25,439.33 L472.00,439.21 L472.75,439.09 L473.50,438.97 L474.25,438.85 L475.00,438.73 L475.75,438.60 L476.50,438.48 L477.25,438.36 L478.00,438.23 L478.75,438.10 L479.50,437.97 L480.25,437.83 L481.00,437.68 L481.75,437.53 L482.50,437.38 L483.25,437.23 L484.00,437.07 L484.75,436.91 L485.50,436.75 L486.25,436.58 L487.00,436.41 L487.75,436.24 L488.50,436.07 L489.25,435.90 L490.00,435.73 L490.75,435.56 L491.50,435.38 L492.25,435.21 L493.00,435.03 L493.75,434.86 L494.50,434.67 L495.25,434.49 L496.00,434.30 L496.75,434.11 L497.50,433.91 L498.25,433.70 L499.00,433.49 L499.75,433.27 L500.50,433.05 L501.25,432.80 L502.00,432.55 L502.75,432.28 L503.50,432.00 L504.25,431.71 L505.00,431.43 L505.75,431.14 L506.50,430.85 L507.25,430.56 L508.00,430.29 L508.75,430.02 L509.50,429.76 L510.25,429.52 L511.00,429.28 L511.75,429.05 L512.50,428.82 L513.25,428.60 L514.00,428.38 L514.75,428.16 L515.50,427.95 L516.25,427.74 L517.00,427.53 L517.75,427.33 L518.50,427.13 L519.25,426.93 L520.00,426.73 L520.75,426.54 L521.50,426.34 L522.25,426.13 L523.00,425.93 L523.75,425.73 L524.50,425.53 L525.25,425.34 L526.00,425.16 L526.75,424.98 L527.50,424.82 L528.25,424.67 L529.00,424.53 L529.75,424.42 L530.50,424.31 L531.25,424.22 L532.00,424.14 L532.75,424.07 L533.50,424.00 L534.25,423.93 L535.00,423.86 L535.75,423.78 L536.50,423.69 L537.25,423.60 L538.00,423.51 L538.75,423.42 L539.50,423.33 L540.25,423.24 L541.00,423.17 L541.75,423.11 L542.50,423.06 L543.25,423.03 L544.00,423.02 L544.75,423.03 L545.50,423.04 L546.25,423.05 L547.00,423.06 L547.75,423.08 L548.50,423.11 L549.25,423.13 L550.00,423.16 L550.75,423.19 L551.50,423.23 L552.25,423.26 L553.00,423.30 L553.75,423.35 L554.50,423.43 L555.25,423.52 L556.00,423.63 L556.75,423.75 L557.50,423.87 L558.25,424.01 L559.00,424.15 L559.75,424.30 L560.50,424.44 L561.25,424.59 L562.00,424.73 L562.75,424.88 L563.50,425.04 L564.25,425.20 L565.00,425.37 L565.75,425.55 L566.50,425.73 L567.25,425.91 L568.00,426.09 L568.75,426.28 L569.50,426.47 L570.25,426.66 L571.00,426.84 L571.75,427.03 L572.50,427.23 L573.25,427.43 L574.00,427.63 L574.75,427.83 L575.50,428.04 L576.25,428.24 L577.00,428.44 L577.75,428.65 L578.50,428.85 L579.25,429.04 L580.00,429.24 L580.75,429.43 L581.50,429.63 L582.25,429.83 L583.00,430.02 L583.75,430.22 L584.50,430.41 L585.25,430.60 L586.00,430.79 L586.75,430.97 L587.50,431.16 L588.25,431.33 L589.00,431.51 L589.75,431.67 L590.50,431.82 L591.25,431.98 L592.00,432.14 L592.75,432.31 L593.50,432.50 L594.25,432.70 L595.00,432.92 L595.75,433.16 L596.50,433.40 L597.25,433.66 L598.00,433.93 L598.75,434.21 L599.00,434.30" fill="none" stroke="#8a0a8a" stroke-width="2.4" stroke-linejoin="round" stroke-linecap="round" stroke-dasharray="3 1.2"/>
<path d="M361.00,428.00 L361.75,427.97 L362.50,427.95 L363.25,427.92 L364.00,427.89 L364.75,427.86 L365.50,427.84 L366.25,427.81 L367.00,427.78 L367.75,427.74 L368.50,427.71 L369.25,427.68 L370.00,427.65 L370.75,427.62 L371.50,427.58 L372.25,427.55 L373.00,427.51 L373.75,427.48 L374.50,427.44 L375.25,427.41 L376.00,427.37 L376.75,427.33 L377.50,427.29 L378.25,427.26 L379.00,427.22 L379.75,427.18 L380.50,427.14 L381.25,427.10 L382.00,427.06 L382.75,427.02 L383.50,426.98 L384.25,426.93 L385.00,426.89 L385.75,426.85 L386.50,426.81 L387.25,426.76 L388.00,426.72 L388.75,426.68 L389.50,426.63 L390.25,426.59 L391.00,426.54 L391.75,426.50 L392.50,426.45 L393.25,426.41 L394.00,426.36 L394.75,426.32 L395.50,426.27 L396.25,426.22 L397.00,426.17 L397.75,426.13 L398.50,426.08 L399.25,426.03 L400.00,425.98 L400.75,425.93 L401.50,425.88 L402.25,425.83 L403.00,425.78 L403.75,425.73 L404.50,425.67 L405.25,425.62 L406.00,425.57 L406.75,425.51 L407.50,425.46 L408.25,425.40 L409.00,425.34 L409.75,425.29 L410.50,425.23 L411.25,425.17 L412.00,425.11 L412.75,425.05 L413.50,424.99 L414.25,424.92 L415.00,424.86 L415.75,424.79 L416.50,424.73 L417.25,424.66 L418.00,424.59 L418.75,424.52 L419.50,424.45 L420.25,424.38 L421.00,424.31 L421.75,424.23 L422.50,424.16 L423.25,424.08 L424.00,424.01 L424.75,423.93 L425.50,423.85 L426.25,423.76 L427.00,423.68 L427.75,423.60 L428.50,423.51 L429.25,423.42 L430.00,423.33 L430.75,423.24 L431.50,423.14 L432.25,423.05 L433.00,422.95 L433.75,422.85 L434.50,422.75 L435.25,422.65 L436.00,422.54 L436.75,422.44 L437.50,422.33 L438.25,422.22 L439.00,422.11 L439.75,422.00 L440.50,421.88 L441.25,421.76 L442.00,421.65 L442.75,421.52 L443.50,421.40 L444.25,421.28 L445.00,421.15 L445.75,421.03 L446.50,420.90 L447.25,420.76 L448.00,420.63 L448.75,420.50 L449.50,420.36 L450.25,420.22 L451.00,420.08 L451.75,419.94 L452.50,419.79 L453.25,419.65 L454.00,419.50 L454.75,419.35 L455.50,419.20 L456.25,419.04 L457.00,418.89 L457.75,418.73 L458.50,418.57 L459.25,418.41 L460.00,418.25 L460.75,418.08 L461.50,417.91 L462.25,417.74 L463.00,417.57 L463.75,417.39 L464.50,417.20 L465.25,417.00 L466.00,416.80 L466.75,416.59 L467.50,416.38 L468.25,416.15 L469.00,415.93 L469.75,415.69 L470.50,415.45 L471.25,415.20 L472.00,414.95 L472.75,414.69 L473.50,414.42 L474.25,414.15 L475.00,413.87 L475.75,413.59 L476.50,413.30 L477.25,413.00 L478.00,412.68 L478.75,412.35 L479.50,411.99 L480.25,411.62 L481.00,411.23 L481.75,410.83 L482.50,410.42 L483.25,410.00 L484.00,409.57 L484.75,409.15 L485.50,408.71 L486.25,408.28 L487.00,407.85 L487.75,407.43 L488.50,407.01 L489.25,406.60 L490.00,406.20 L490.75,405.81 L491.50,405.42 L492.25,405.04 L493.00,404.66 L493.75,404.28 L494.50,403.90 L495.25,403.52 L496.00,403.14 L496.75,402.75 L497.50,402.36 L498.25,401.96 L499.00,401.56 L499.75,401.14 L500.50,400.72 L501.25,400.29 L502.00,399.87 L502.75,399.44 L503.50,399.01 L504.25,398.57 L505.00,398.12 L505.75,397.66 L506.50,397.19 L507.25,396.71 L508.00,396.21 L508.75,395.70 L509.50,395.17 L510.25,394.61 L511.00,394.04 L511.75,393.45 L512.50,392.84 L513.25,392.21 L514.00,391.56 L514.75,390.89 L515.50,390.20 L516.25,389.49 L517.00,388.75 L517.75,388.00 L518.50,387.22 L519.25,386.42 L520.00,385.60 L520.75,384.75 L521.50,383.86 L522.25,382.94 L523.00,381.99 L523.75,380.99 L524.50,379.96 L525.25,378.88 L526.00,377.77 L526.75,376.62 L527.50,375.42 L528.25,374.18 L529.00,372.85 L529.75,371.43 L530.50,369.93 L531.25,368.36 L532.00,366.74 L532.75,365.07 L533.50,363.38 L534.25,361.66 L535.00,359.94 L535.75,358.22 L536.50,356.51 L537.25,354.84 L538.00,353.20 L538.75,351.59 L539.50,349.97 L540.25,348.36 L541.00,346.74 L541.75,345.12 L542.50,343.50 L543.25,341.88 L544.00,340.26 L544.75,338.64 L545.50,337.02 L546.25,335.39 L547.00,333.77 L547.75,332.14 L548.50,330.51 L549.25,328.83 L550.00,327.14 L550.75,325.42 L551.50,323.69 L552.25,321.97 L553.00,320.26 L553.75,318.56 L554.50,316.90 L555.25,315.27 L556.00,313.70 L556.75,312.18 L557.50,310.73 L558.25,309.35 L559.00,307.99 L559.75,306.67 L560.50,305.40 L561.25,304.20 L562.00,303.09 L562.75,302.10 L563.50,301.23 L564.25,300.41 L565.00,299.64 L565.75,298.93 L566.50,298.29 L567.25,297.71 L568.00,297.20 L568.75,296.74 L569.50,296.32 L570.25,295.94 L571.00,295.58 L571.75,295.26 L572.50,294.98 L573.25,294.71 L574.00,294.45 L574.75,294.18 L575.50,293.94 L576.25,293.73 L577.00,293.58 L577.75,293.51 L578.50,293.52 L579.25,293.63 L580.00,293.81 L580.75,294.05 L581.50,294.33 L582.25,294.64 L583.00,294.96 L583.75,295.32 L584.50,295.80 L585.25,296.37 L586.00,296.99 L586.75,297.64 L587.50,298.30 L588.25,298.92 L589.00,299.55 L589.75,300.18 L590.50,300.84 L591.25,301.50 L592.00,302.18 L592.75,302.87 L593.50,303.58 L594.25,304.29 L595.00,305.03 L595.75,305.77 L596.50,306.53 L597.25,307.31 L598.00,308.09 L598.10,308.20" fill="none" stroke="#ff2020" stroke-width="4" stroke-opacity="0.22" stroke-dasharray="1 1.6" stroke-linejoin="round"/><path d="M361.00,428.00 L361.75,427.97 L362.50,427.95 L363.25,427.92 L364.00,427.89 L364.75,427.86 L365.50,427.84 L366.25,427.81 L367.00,427.78 L367.75,427.74 L368.50,427.71 L369.25,427.68 L370.00,427.65 L370.75,427.62 L371.50,427.58 L372.25,427.55 L373.00,427.51 L373.75,427.48 L374.50,427.44 L375.25,427.41 L376.00,427.37 L376.75,427.33 L377.50,427.29 L378.25,427.26 L379.00,427.22 L379.75,427.18 L380.50,427.14 L381.25,427.10 L382.00,427.06 L382.75,427.02 L383.50,426.98 L384.25,426.93 L385.00,426.89 L385.75,426.85 L386.50,426.81 L387.25,426.76 L388.00,426.72 L388.75,426.68 L389.50,426.63 L390.25,426.59 L391.00,426.54 L391.75,426.50 L392.50,426.45 L393.25,426.41 L394.00,426.36 L394.75,426.32 L395.50,426.27 L396.25,426.22 L397.00,426.17 L397.75,426.13 L398.50,426.08 L399.25,426.03 L400.00,425.98 L400.75,425.93 L401.50,425.88 L402.25,425.83 L403.00,425.78 L403.75,425.73 L404.50,425.67 L405.25,425.62 L406.00,425.57 L406.75,425.51 L407.50,425.46 L408.25,425.40 L409.00,425.34 L409.75,425.29 L410.50,425.23 L411.25,425.17 L412.00,425.11 L412.75,425.05 L413.50,424.99 L414.25,424.92 L415.00,424.86 L415.75,424.79 L416.50,424.73 L417.25,424.66 L418.00,424.59 L418.75,424.52 L419.50,424.45 L420.25,424.38 L421.00,424.31 L421.75,424.23 L422.50,424.16 L423.25,424.08 L424.00,424.01 L424.75,423.93 L425.50,423.85 L426.25,423.76 L427.00,423.68 L427.75,423.60 L428.50,423.51 L429.25,423.42 L430.00,423.33 L430.75,423.24 L431.50,423.14 L432.25,423.05 L433.00,422.95 L433.75,422.85 L434.50,422.75 L435.25,422.65 L436.00,422.54 L436.75,422.44 L437.50,422.33 L438.25,422.22 L439.00,422.11 L439.75,422.00 L440.50,421.88 L441.25,421.76 L442.00,421.65 L442.75,421.52 L443.50,421.40 L444.25,421.28 L445.00,421.15 L445.75,421.03 L446.50,420.90 L447.25,420.76 L448.00,420.63 L448.75,420.50 L449.50,420.36 L450.25,420.22 L451.00,420.08 L451.75,419.94 L452.50,419.79 L453.25,419.65 L454.00,419.50 L454.75,419.35 L455.50,419.20 L456.25,419.04 L457.00,418.89 L457.75,418.73 L458.50,418.57 L459.25,418.41 L460.00,418.25 L460.75,418.08 L461.50,417.91 L462.25,417.74 L463.00,417.57 L463.75,417.39 L464.50,417.20 L465.25,417.00 L466.00,416.80 L466.75,416.59 L467.50,416.38 L468.25,416.15 L469.00,415.93 L469.75,415.69 L470.50,415.45 L471.25,415.20 L472.00,414.95 L472.75,414.69 L473.50,414.42 L474.25,414.15 L475.00,413.87 L475.75,413.59 L476.50,413.30 L477.25,413.00 L478.00,412.68 L478.75,412.35 L479.50,411.99 L480.25,411.62 L481.00,411.23 L481.75,410.83 L482.50,410.42 L483.25,410.00 L484.00,409.57 L484.75,409.15 L485.50,408.71 L486.25,408.28 L487.00,407.85 L487.75,407.43 L488.50,407.01 L489.25,406.60 L490.00,406.20 L490.75,405.81 L491.50,405.42 L492.25,405.04 L493.00,404.66 L493.75,404.28 L494.50,403.90 L495.25,403.52 L496.00,403.14 L496.75,402.75 L497.50,402.36 L498.25,401.96 L499.00,401.56 L499.75,401.14 L500.50,400.72 L501.25,400.29 L502.00,399.87 L502.75,399.44 L503.50,399.01 L504.25,398.57 L505.00,398.12 L505.75,397.66 L506.50,397.19 L507.25,396.71 L508.00,396.21 L508.75,395.70 L509.50,395.17 L510.25,394.61 L511.00,394.04 L511.75,393.45 L512.50,392.84 L513.25,392.21 L514.00,391.56 L514.75,390.89 L515.50,390.20 L516.25,389.49 L517.00,388.75 L517.75,388.00 L518.50,387.22 L519.25,386.42 L520.00,385.60 L520.75,384.75 L521.50,383.86 L522.25,382.94 L523.00,381.99 L523.75,380.99 L524.50,379.96 L525.25,378.88 L526.00,377.77 L526.75,376.62 L527.50,375.42 L528.25,374.18 L529.00,372.85 L529.75,371.43 L530.50,369.93 L531.25,368.36 L532.00,366.74 L532.75,365.07 L533.50,363.38 L534.25,361.66 L535.00,359.94 L535.75,358.22 L536.50,356.51 L537.25,354.84 L538.00,353.20 L538.75,351.59 L539.50,349.97 L540.25,348.36 L541.00,346.74 L541.75,345.12 L542.50,343.50 L543.25,341.88 L544.00,340.26 L544.75,338.64 L545.50,337.02 L546.25,335.39 L547.00,333.77 L547.75,332.14 L548.50,330.51 L549.25,328.83 L550.00,327.14 L550.75,325.42 L551.50,323.69 L552.25,321.97 L553.00,320.26 L553.75,318.56 L554.50,316.90 L555.25,315.27 L556.00,313.70 L556.75,312.18 L557.50,310.73 L558.25,309.35 L559.00,307.99 L559.75,306.67 L560.50,305.40 L561.25,304.20 L562.00,303.09 L562.75,302.10 L563.50,301.23 L564.25,300.41 L565.00,299.64 L565.75,298.93 L566.50,298.29 L567.25,297.71 L568.00,297.20 L568.75,296.74 L569.50,296.32 L570.25,295.94 L571.00,295.58 L571.75,295.26 L572.50,294.98 L573.25,294.71 L574.00,294.45 L574.75,294.18 L575.50,293.94 L576.25,293.73 L577.00,293.58 L577.75,293.51 L578.50,293.52 L579.25,293.63 L580.00,293.81 L580.75,294.05 L581.50,294.33 L582.25,294.64 L583.00,294.96 L583.75,295.32 L584.50,295.80 L585.25,296.37 L586.00,296.99 L586.75,297.64 L587.50,298.30 L588.25,298.92 L589.00,299.55 L589.75,300.18 L590.50,300.84 L591.25,301.50 L592.00,302.18 L592.75,302.87 L593.50,303.58 L594.25,304.29 L595.00,305.03 L595.75,305.77 L596.50,306.53 L597.25,307.31 L598.00,308.09 L598.10,308.20" fill="none" stroke="#ff1010" stroke-width="1.7" stroke-linejoin="round" stroke-linecap="round"/>
<path d="M361.00,429.60 L361.75,429.57 L362.50,429.54 L363.25,429.51 L364.00,429.48 L364.75,429.45 L365.50,429.42 L366.25,429.38 L367.00,429.35 L367.75,429.32 L368.50,429.28 L369.25,429.25 L370.00,429.21 L370.75,429.18 L371.50,429.14 L372.25,429.10 L373.00,429.07 L373.75,429.03 L374.50,428.99 L375.25,428.95 L376.00,428.91 L376.75,428.87 L377.50,428.83 L378.25,428.79 L379.00,428.75 L379.75,428.71 L380.50,428.67 L381.25,428.63 L382.00,428.59 L382.75,428.54 L383.50,428.50 L384.25,428.46 L385.00,428.41 L385.75,428.37 L386.50,428.33 L387.25,428.28 L388.00,428.24 L388.75,428.19 L389.50,428.14 L390.25,428.10 L391.00,428.05 L391.75,428.01 L392.50,427.96 L393.25,427.91 L394.00,427.86 L394.75,427.82 L395.50,427.77 L396.25,427.72 L397.00,427.67 L397.75,427.62 L398.50,427.57 L399.25,427.52 L400.00,427.47 L400.75,427.42 L401.50,427.37 L402.25,427.32 L403.00,427.26 L403.75,427.21 L404.50,427.16 L405.25,427.10 L406.00,427.05 L406.75,426.99 L407.50,426.93 L408.25,426.88 L409.00,426.82 L409.75,426.76 L410.50,426.70 L411.25,426.64 L412.00,426.58 L412.75,426.52 L413.50,426.46 L414.25,426.40 L415.00,426.33 L415.75,426.27 L416.50,426.20 L417.25,426.14 L418.00,426.07 L418.75,426.00 L419.50,425.93 L420.25,425.86 L421.00,425.79 L421.75,425.72 L422.50,425.65 L423.25,425.58 L424.00,425.50 L424.75,425.43 L425.50,425.35 L426.25,425.27 L427.00,425.19 L427.75,425.11 L428.50,425.03 L429.25,424.95 L430.00,424.86 L430.75,424.77 L431.50,424.69 L432.25,424.60 L433.00,424.51 L433.75,424.41 L434.50,424.32 L435.25,424.23 L436.00,424.13 L436.75,424.04 L437.50,423.94 L438.25,423.84 L439.00,423.74 L439.75,423.63 L440.50,423.53 L441.25,423.43 L442.00,423.32 L442.75,423.21 L443.50,423.11 L444.25,423.00 L445.00,422.89 L445.75,422.78 L446.50,422.66 L447.25,422.55 L448.00,422.43 L448.75,422.32 L449.50,422.20 L450.25,422.08 L451.00,421.96 L451.75,421.84 L452.50,421.72 L453.25,421.60 L454.00,421.48 L454.75,421.35 L455.50,421.23 L456.25,421.10 L457.00,420.97 L457.75,420.85 L458.50,420.72 L459.25,420.59 L460.00,420.45 L460.75,420.32 L461.50,420.19 L462.25,420.06 L463.00,419.92 L463.75,419.78 L464.50,419.64 L465.25,419.49 L466.00,419.34 L466.75,419.19 L467.50,419.03 L468.25,418.87 L469.00,418.71 L469.75,418.55 L470.50,418.38 L471.25,418.21 L472.00,418.04 L472.75,417.86 L473.50,417.68 L474.25,417.50 L475.00,417.31 L475.75,417.12 L476.50,416.93 L477.25,416.73 L478.00,416.53 L478.75,416.31 L479.50,416.08 L480.25,415.84 L481.00,415.59 L481.75,415.34 L482.50,415.08 L483.25,414.82 L484.00,414.56 L484.75,414.30 L485.50,414.05 L486.25,413.80 L487.00,413.56 L487.75,413.33 L488.50,413.10 L489.25,412.90 L490.00,412.70 L490.75,412.52 L491.50,412.35 L492.25,412.20 L493.00,412.05 L493.75,411.90 L494.50,411.76 L495.25,411.62 L496.00,411.48 L496.75,411.34 L497.50,411.18 L498.25,411.02 L499.00,410.85 L499.75,410.67 L500.50,410.46 L501.25,410.24 L502.00,410.01 L502.75,409.75 L503.50,409.49 L504.25,409.22 L505.00,408.93 L505.75,408.65 L506.50,408.35 L507.25,408.06 L508.00,407.77 L508.75,407.47 L509.50,407.19 L510.25,406.91 L511.00,406.64 L511.75,406.38 L512.50,406.11 L513.25,405.84 L514.00,405.56 L514.75,405.26 L515.50,404.94 L516.25,404.58 L517.00,404.19 L517.75,403.76 L518.50,403.31 L519.25,402.82 L520.00,402.31 L520.75,401.76 L521.50,401.18 L522.25,400.58 L523.00,399.94 L523.75,399.23 L524.50,398.46 L525.25,397.63 L526.00,396.75 L526.75,395.83 L527.50,394.86 L528.25,393.86 L529.00,392.82 L529.75,391.73 L530.50,390.59 L531.25,389.41 L532.00,388.19 L532.75,386.93 L533.50,385.62 L534.25,384.28 L535.00,382.91 L535.75,381.50 L536.50,380.06 L537.25,378.60 L538.00,377.10 L538.75,375.55 L539.50,373.92 L540.25,372.22 L541.00,370.46 L541.75,368.64 L542.50,366.79 L543.25,364.89 L544.00,362.98 L544.75,361.04 L545.50,359.10 L546.25,357.17 L547.00,355.24 L547.75,353.33 L548.50,351.42 L549.25,349.42 L550.00,347.34 L550.75,345.21 L551.50,343.06 L552.25,340.90 L553.00,338.76 L553.75,336.67 L554.50,334.65 L555.25,332.71 L556.00,330.90 L556.75,329.22 L557.50,327.71 L558.25,326.38 L559.00,325.17 L559.75,324.06 L560.50,323.03 L561.25,322.06 L562.00,321.15 L562.75,320.28 L563.50,319.44 L564.25,318.64 L565.00,317.87 L565.75,317.14 L566.50,316.45 L567.25,315.80 L568.00,315.20 L568.75,314.65 L569.50,314.13 L570.25,313.65 L571.00,313.19 L571.75,312.74 L572.50,312.30 L573.25,311.85 L574.00,311.33 L574.75,310.78 L575.50,310.25 L576.25,309.78 L577.00,309.42 L577.75,309.22 L578.50,309.18 L579.25,309.16 L580.00,309.14 L580.75,309.12 L581.50,309.11 L582.25,309.10 L583.00,309.10 L583.75,309.14 L584.50,309.29 L585.25,309.51 L586.00,309.79 L586.75,310.11 L587.50,310.44 L588.25,310.77 L589.00,311.13 L589.75,311.56 L590.50,312.04 L591.25,312.55 L592.00,313.09 L592.75,313.64 L593.50,314.20 L594.25,314.79 L595.00,315.42 L595.75,316.07 L596.50,316.75 L597.25,317.47 L598.00,318.20 L598.10,318.30" fill="none" stroke="#2020ff" stroke-width="4" stroke-opacity="0.22" stroke-dasharray="1 1.6" stroke-linejoin="round"/><path d="M361.00,429.60 L361.75,429.57 L362.50,429.54 L363.25,429.51 L364.00,429.48 L364.75,429.45 L365.50,429.42 L366.25,429.38 L367.00,429.35 L367.75,429.32 L368.50,429.28 L369.25,429.25 L370.00,429.21 L370.75,429.18 L371.50,429.14 L372.25,429.10 L373.00,429.07 L373.75,429.03 L374.50,428.99 L375.25,428.95 L376.00,428.91 L376.75,428.87 L377.50,428.83 L378.25,428.79 L379.00,428.75 L379.75,428.71 L380.50,428.67 L381.25,428.63 L382.00,428.59 L382.75,428.54 L383.50,428.50 L384.25,428.46 L385.00,428.41 L385.75,428.37 L386.50,428.33 L387.25,428.28 L388.00,428.24 L388.75,428.19 L389.50,428.14 L390.25,428.10 L391.00,428.05 L391.75,428.01 L392.50,427.96 L393.25,427.91 L394.00,427.86 L394.75,427.82 L395.50,427.77 L396.25,427.72 L397.00,427.67 L397.75,427.62 L398.50,427.57 L399.25,427.52 L400.00,427.47 L400.75,427.42 L401.50,427.37 L402.25,427.32 L403.00,427.26 L403.75,427.21 L404.50,427.16 L405.25,427.10 L406.00,427.05 L406.75,426.99 L407.50,426.93 L408.25,426.88 L409.00,426.82 L409.75,426.76 L410.50,426.70 L411.25,426.64 L412.00,426.58 L412.75,426.52 L413.50,426.46 L414.25,426.40 L415.00,426.33 L415.75,426.27 L416.50,426.20 L417.25,426.14 L418.00,426.07 L418.75,426.00 L419.50,425.93 L420.25,425.86 L421.00,425.79 L421.75,425.72 L422.50,425.65 L423.25,425.58 L424.00,425.50 L424.75,425.43 L425.50,425.35 L426.25,425.27 L427.00,425.19 L427.75,425.11 L428.50,425.03 L429.25,424.95 L430.00,424.86 L430.75,424.77 L431.50,424.69 L432.25,424.60 L433.00,424.51 L433.75,424.41 L434.50,424.32 L435.25,424.23 L436.00,424.13 L436.75,424.04 L437.50,423.94 L438.25,423.84 L439.00,423.74 L439.75,423.63 L440.50,423.53 L441.25,423.43 L442.00,423.32 L442.75,423.21 L443.50,423.11 L444.25,423.00 L445.00,422.89 L445.75,422.78 L446.50,422.66 L447.25,422.55 L448.00,422.43 L448.75,422.32 L449.50,422.20 L450.25,422.08 L451.00,421.96 L451.75,421.84 L452.50,421.72 L453.25,421.60 L454.00,421.48 L454.75,421.35 L455.50,421.23 L456.25,421.10 L457.00,420.97 L457.75,420.85 L458.50,420.72 L459.25,420.59 L460.00,420.45 L460.75,420.32 L461.50,420.19 L462.25,420.06 L463.00,419.92 L463.75,419.78 L464.50,419.64 L465.25,419.49 L466.00,419.34 L466.75,419.19 L467.50,419.03 L468.25,418.87 L469.00,418.71 L469.75,418.55 L470.50,418.38 L471.25,418.21 L472.00,418.04 L472.75,417.86 L473.50,417.68 L474.25,417.50 L475.00,417.31 L475.75,417.12 L476.50,416.93 L477.25,416.73 L478.00,416.53 L478.75,416.31 L479.50,416.08 L480.25,415.84 L481.00,415.59 L481.75,415.34 L482.50,415.08 L483.25,414.82 L484.00,414.56 L484.75,414.30 L485.50,414.05 L486.25,413.80 L487.00,413.56 L487.75,413.33 L488.50,413.10 L489.25,412.90 L490.00,412.70 L490.75,412.52 L491.50,412.35 L492.25,412.20 L493.00,412.05 L493.75,411.90 L494.50,411.76 L495.25,411.62 L496.00,411.48 L496.75,411.34 L497.50,411.18 L498.25,411.02 L499.00,410.85 L499.75,410.67 L500.50,410.46 L501.25,410.24 L502.00,410.01 L502.75,409.75 L503.50,409.49 L504.25,409.22 L505.00,408.93 L505.75,408.65 L506.50,408.35 L507.25,408.06 L508.00,407.77 L508.75,407.47 L509.50,407.19 L510.25,406.91 L511.00,406.64 L511.75,406.38 L512.50,406.11 L513.25,405.84 L514.00,405.56 L514.75,405.26 L515.50,404.94 L516.25,404.58 L517.00,404.19 L517.75,403.76 L518.50,403.31 L519.25,402.82 L520.00,402.31 L520.75,401.76 L521.50,401.18 L522.25,400.58 L523.00,399.94 L523.75,399.23 L524.50,398.46 L525.25,397.63 L526.00,396.75 L526.75,395.83 L527.50,394.86 L528.25,393.86 L529.00,392.82 L529.75,391.73 L530.50,390.59 L531.25,389.41 L532.00,388.19 L532.75,386.93 L533.50,385.62 L534.25,384.28 L535.00,382.91 L535.75,381.50 L536.50,380.06 L537.25,378.60 L538.00,377.10 L538.75,375.55 L539.50,373.92 L540.25,372.22 L541.00,370.46 L541.75,368.64 L542.50,366.79 L543.25,364.89 L544.00,362.98 L544.75,361.04 L545.50,359.10 L546.25,357.17 L547.00,355.24 L547.75,353.33 L548.50,351.42 L549.25,349.42 L550.00,347.34 L550.75,345.21 L551.50,343.06 L552.25,340.90 L553.00,338.76 L553.75,336.67 L554.50,334.65 L555.25,332.71 L556.00,330.90 L556.75,329.22 L557.50,327.71 L558.25,326.38 L559.00,325.17 L559.75,324.06 L560.50,323.03 L561.25,322.06 L562.00,321.15 L562.75,320.28 L563.50,319.44 L564.25,318.64 L565.00,317.87 L565.75,317.14 L566.50,316.45 L567.25,315.80 L568.00,315.20 L568.75,314.65 L569.50,314.13 L570.25,313.65 L571.00,313.19 L571.75,312.74 L572.50,312.30 L573.25,311.85 L574.00,311.33 L574.75,310.78 L575.50,310.25 L576.25,309.78 L577.00,309.42 L577.75,309.22 L578.50,309.18 L579.25,309.16 L580.00,309.14 L580.75,309.12 L581.50,309.11 L582.25,309.10 L583.00,309.10 L583.75,309.14 L584.50,309.29 L585.25,309.51 L586.00,309.79 L586.75,310.11 L587.50,310.44 L588.25,310.77 L589.00,311.13 L589.75,311.56 L590.50,312.04 L591.25,312.55 L592.00,313.09 L592.75,313.64 L593.50,314.20 L594.25,314.79 L595.00,315.42 L595.75,316.07 L596.50,316.75 L597.25,317.47 L598.00,318.20 L598.10,318.30" fill="none" stroke="#1010ff" stroke-width="1.7" stroke-linejoin="round" stroke-linecap="round"/>
</g>
<text x="377.20" y="456.60" font-family='"Liberation Sans", sans-serif' font-size="13.8" text-anchor="middle" fill="#111">0.85</text>
<text x="451.43" y="456.60" font-family='"Liberation Sans", sans-serif' font-size="13.8" text-anchor="middle" fill="#111">0.90</text>
<text x="525.66" y="456.60" font-family='"Liberation Sans", sans-serif' font-size="13.8" text-anchor="middle" fill="#111">0.95</text>
<text x="599.89" y="456.60" font-family='"Liberation Sans", sans-serif' font-size="13.8" text-anchor="middle" fill="#111">1.00</text>
<text x="358.10" y="447.20" font-family='"Liberation Sans", sans-serif' font-size="13.8" text-anchor="end" fill="#111">0.0</text>
<text x="358.10" y="417.73" font-family='"Liberation Sans", sans-serif' font-size="13.8" text-anchor="end" fill="#111">0.3</text>
<text x="358.10" y="388.27" font-family='"Liberation Sans", sans-serif' font-size="13.8" text-anchor="end" fill="#111">0.6</text>
<text x="358.10" y="358.80" font-family='"Liberation Sans", sans-serif' font-size="13.8" text-anchor="end" fill="#111">0.9</text>
<text x="358.10" y="329.33" font-family='"Liberation Sans", sans-serif' font-size="13.8" text-anchor="end" fill="#111">1.2</text>
<text x="358.10" y="299.87" font-family='"Liberation Sans", sans-serif' font-size="13.8" text-anchor="end" fill="#111">1.5</text>
<text x="358.10" y="270.40" font-family='"Liberation Sans", sans-serif' font-size="13.8" text-anchor="end" fill="#111">1.8</text>
<text class="s" transform="translate(27.10,207.30) rotate(-90)" font-family='"Liberation Sans", sans-serif' font-size="14.2" fill="#111" textLength="178.3" lengthAdjust="spacingAndGlyphs">Diamagnetic Freq. (10<tspan font-size="9.5" dy="-5.5">6</tspan><tspan dy="5.5"> s</tspan><tspan font-size="9.5" dy="-5.5">-1</tspan><tspan dy="5.5">)</tspan></text>
<text class="s" transform="translate(27.10,446.80) rotate(-90)" font-family='"Liberation Sans", sans-serif' font-size="14.2" fill="#111" textLength="177.8" lengthAdjust="spacingAndGlyphs">Diamagnetic Freq. (10<tspan font-size="9.5" dy="-5.5">6</tspan><tspan dy="5.5"> s</tspan><tspan font-size="9.5" dy="-5.5">-1</tspan><tspan dy="5.5">)</tspan></text>
<text class="s" transform="translate(330.10,207.30) rotate(-90)" font-family='"Liberation Sans", sans-serif' font-size="14.2" fill="#111" textLength="178.3" lengthAdjust="spacingAndGlyphs">Diamagnetic Freq. (10<tspan font-size="9.5" dy="-5.5">6</tspan><tspan dy="5.5"> s</tspan><tspan font-size="9.5" dy="-5.5">-1</tspan><tspan dy="5.5">)</tspan></text>
<text class="s" transform="translate(330.10,446.80) rotate(-90)" font-family='"Liberation Sans", sans-serif' font-size="14.2" fill="#111" textLength="177.8" lengthAdjust="spacingAndGlyphs">Diamagnetic Freq. (10<tspan font-size="9.5" dy="-5.5">6</tspan><tspan dy="5.5"> s</tspan><tspan font-size="9.5" dy="-5.5">-1</tspan><tspan dy="5.5">)</tspan></text>
<text x="172.30" y="234.60" font-family='"Liberation Serif", serif' font-style="italic" font-size="15" fill="#444">ψ<tspan font-size="11" dy="2.2">N</tspan></text>
<text x="475.20" y="234.60" font-family='"Liberation Serif", serif' font-style="italic" font-size="15" fill="#444">ψ<tspan font-size="11" dy="2.2">N</tspan></text>
<text x="172.30" y="472.40" font-family='"Liberation Serif", serif' font-style="italic" font-size="15" fill="#444">ψ<tspan font-size="11" dy="2.2">N</tspan></text>
<text x="475.20" y="472.40" font-family='"Liberation Serif", serif' font-style="italic" font-size="15" fill="#444">ψ<tspan font-size="11" dy="2.2">N</tspan></text>
<text class="s" x="61.10" y="14.00" font-family='"Liberation Sans", sans-serif' font-size="10.80" fill="#111" text-anchor="start" textLength="250.3" lengthAdjust="spacingAndGlyphs">DIII-D #166612 (6 MW discharge), neon injection</text>
<text class="s" x="61.10" y="25.00" font-family='"Liberation Sans", sans-serif' font-size="10.80" fill="#111" text-anchor="start" textLength="263.6" lengthAdjust="spacingAndGlyphs">rate: 25% duty cycle at 0.5 Torr.L/s,&#160; from 2s to 4.9s.</text>
<text class="s" x="60.90" y="251.70" font-family='"Liberation Sans", sans-serif' font-size="10.80" fill="#111" text-anchor="start" textLength="250.8" lengthAdjust="spacingAndGlyphs">DIII-D #166615 (3 MW discharge), neon injection</text>
<text class="s" x="60.90" y="262.70" font-family='"Liberation Sans", sans-serif' font-size="10.80" fill="#111" text-anchor="start" textLength="264.6" lengthAdjust="spacingAndGlyphs">rate: 25% duty cycle at 0.5 Torr.L/s,&#160; from 2s to 4.1s.</text>
<text class="s" x="362.70" y="26.00" font-family='"Liberation Sans", sans-serif' font-size="12.70" fill="#111" text-anchor="start" textLength="159.3" lengthAdjust="spacingAndGlyphs">DIII-D #166612,&#160; t=3765 ms</text>
<text class="s" x="362.70" y="263.50" font-family='"Liberation Sans", sans-serif' font-size="12.70" fill="#111" text-anchor="start" textLength="159.3" lengthAdjust="spacingAndGlyphs">DIII-D #166615,&#160; t=2805 ms</text>
<text class="s" x="161.60" y="60.00" font-family='"Liberation Sans", sans-serif' font-size="12.60" fill="#111" text-anchor="start" textLength="61.3" lengthAdjust="spacingAndGlyphs">t=1765 ms</text>
<text class="s" x="161.40" y="300.00" font-family='"Liberation Sans", sans-serif' font-size="12.60" fill="#111" text-anchor="start" textLength="61.3" lengthAdjust="spacingAndGlyphs">t=1765 ms</text>
<path d="M248.10,36.30 A18.85,18.85 0 0 0 248.10,53.20" fill="none" stroke="#111" stroke-width="1.45" stroke-linecap="round"/>
<circle cx="256.50" cy="44.75" r="4.40" fill="none" stroke="#111" stroke-width="1.30"/>
<path d="M261.60,39.80V49.90" stroke="#111" stroke-width="1.40"/>
<path d="M265.20,36.30 A18.05,18.05 0 0 1 265.20,53.20" fill="none" stroke="#111" stroke-width="1.45" stroke-linecap="round"/>
<path d="M560.80,36.30 A19.74,19.74 0 0 0 560.80,53.20" fill="none" stroke="#111" stroke-width="1.45" stroke-linecap="round"/>
<path d="M564.90,36.20V49.80" stroke="#111" stroke-width="1.40"/>
<circle cx="570.00" cy="44.65" r="4.45" fill="none" stroke="#111" stroke-width="1.30"/>
<path d="M577.90,36.30 A18.85,18.85 0 0 1 577.90,53.20" fill="none" stroke="#111" stroke-width="1.45" stroke-linecap="round"/>
<path d="M248.50,269.90 A19.07,19.07 0 0 0 248.50,287.30" fill="none" stroke="#111" stroke-width="1.45" stroke-linecap="round"/>
<path d="M260.42,275.61 A4.85,4.85 0 1 0 260.42,281.59" fill="none" stroke="#111" stroke-width="1.30"/>
<path d="M264.60,269.90 A16.97,16.97 0 0 1 264.60,287.30" fill="none" stroke="#111" stroke-width="1.45" stroke-linecap="round"/>
<path d="M560.80,269.80 A20.14,20.14 0 0 0 560.80,287.30" fill="none" stroke="#111" stroke-width="1.45" stroke-linecap="round"/>
<circle cx="568.90" cy="278.90" r="4.40" fill="none" stroke="#111" stroke-width="1.30"/>
<path d="M574.20,269.60V284.10" stroke="#111" stroke-width="1.40"/>
<path d="M577.70,269.80 A19.28,19.28 0 0 1 577.70,287.30" fill="none" stroke="#111" stroke-width="1.45" stroke-linecap="round"/>
<rect x="65.90" y="35.20" width="81.50" height="86.40" fill="#fff" stroke="#4a4a4a" stroke-width="1.4"/>
<line x1="75.90" y1="46.30" x2="94.70" y2="46.30" stroke="#555" stroke-width="1.3"/>
<path d="M75.90,43.10 l2.4,3.2 l-2.4,3.2 l-2.4,-3.2z" fill="#000"/>
<path d="M94.70,43.10 l2.4,3.2 l-2.4,3.2 l-2.4,-3.2z" fill="#000"/>
<text x="109.20" y="50.80" font-family='"Liberation Serif", serif' font-style="italic" font-size="13.2" fill="#1a1a1a">ω<tspan font-size="8.5" dy="3.4" dx="0.4" font-style="normal">*</tspan><tspan font-size="10.5" dy="-1.3">e</tspan></text>
<line x1="75.90" y1="66.50" x2="94.70" y2="66.50" stroke="#3a9a3a" stroke-width="1.3"/>
<circle cx="75.90" cy="66.50" r="2.3" fill="#0b7a0b" stroke="#042004" stroke-width="0.8"/>
<circle cx="94.70" cy="66.50" r="2.3" fill="#0b7a0b" stroke="#042004" stroke-width="0.8"/>
<text x="109.20" y="71.00" font-family='"Liberation Serif", serif' font-style="italic" font-size="13.2" fill="#1a1a1a">ω<tspan font-size="8.5" dy="3.4" dx="0.4" font-style="normal">*</tspan><tspan font-size="10.5" dy="-1.3">D</tspan></text>
<line x1="75.90" y1="86.00" x2="94.70" y2="86.00" stroke="#d0d060" stroke-width="1.7"/>
<circle cx="75.90" cy="86.00" r="1.7" fill="#6a6a00" stroke="#222" stroke-width="0.7"/>
<circle cx="94.70" cy="86.00" r="1.7" fill="#6a6a00" stroke="#222" stroke-width="0.7"/>
<text x="109.20" y="90.50" font-family='"Liberation Serif", serif' font-style="italic" font-size="13.2" fill="#1a1a1a">ω<tspan font-size="8.5" dy="3.4" dx="0.4" font-style="normal">*</tspan><tspan font-size="10.5" dy="-1.3">C</tspan></text>
<line x1="74.40" y1="106.50" x2="96.20" y2="106.50" stroke="#4040ff" stroke-width="1.6"/>
<path d="M75.90,104.70v3.6" stroke="#4040ff" stroke-width="1.3"/>
<path d="M94.70,104.70v3.6" stroke="#4040ff" stroke-width="1.3"/>
<text x="109.20" y="111.00" font-family='"Liberation Serif", serif' font-style="italic" font-size="13.2" fill="#1a1a1a">ω<tspan font-size="8.5" dy="3.4" dx="0.4" font-style="normal">*</tspan><tspan font-size="10.5" dy="-1.3">D,<tspan dx="1.5">C</tspan></tspan></text>
<rect x="66.00" y="272.90" width="82.00" height="86.70" fill="#fff" stroke="#4a4a4a" stroke-width="1.4"/>
<line x1="75.90" y1="284.20" x2="94.90" y2="284.20" stroke="#555" stroke-width="1.3"/>
<path d="M75.90,281.00 l2.4,3.2 l-2.4,3.2 l-2.4,-3.2z" fill="#000"/>
<path d="M94.90,281.00 l2.4,3.2 l-2.4,3.2 l-2.4,-3.2z" fill="#000"/>
<text x="109.30" y="288.70" font-family='"Liberation Serif", serif' font-style="italic" font-size="13.2" fill="#1a1a1a">ω<tspan font-size="8.5" dy="3.4" dx="0.4" font-style="normal">*</tspan><tspan font-size="10.5" dy="-1.3">e</tspan></text>
<line x1="75.90" y1="304.10" x2="94.90" y2="304.10" stroke="#3a9a3a" stroke-width="1.3"/>
<circle cx="75.90" cy="304.10" r="2.3" fill="#0b7a0b" stroke="#042004" stroke-width="0.8"/>
<circle cx="94.90" cy="304.10" r="2.3" fill="#0b7a0b" stroke="#042004" stroke-width="0.8"/>
<text x="109.30" y="308.60" font-family='"Liberation Serif", serif' font-style="italic" font-size="13.2" fill="#1a1a1a">ω<tspan font-size="8.5" dy="3.4" dx="0.4" font-style="normal">*</tspan><tspan font-size="10.5" dy="-1.3">D</tspan></text>
<line x1="75.90" y1="324.20" x2="94.90" y2="324.20" stroke="#d0d060" stroke-width="1.7"/>
<circle cx="75.90" cy="324.20" r="1.7" fill="#6a6a00" stroke="#222" stroke-width="0.7"/>
<circle cx="94.90" cy="324.20" r="1.7" fill="#6a6a00" stroke="#222" stroke-width="0.7"/>
<text x="109.30" y="328.70" font-family='"Liberation Serif", serif' font-style="italic" font-size="13.2" fill="#1a1a1a">ω<tspan font-size="8.5" dy="3.4" dx="0.4" font-style="normal">*</tspan><tspan font-size="10.5" dy="-1.3">C</tspan></text>
<line x1="74.40" y1="344.10" x2="96.40" y2="344.10" stroke="#4040ff" stroke-width="1.6"/>
<path d="M75.90,342.30v3.6" stroke="#4040ff" stroke-width="1.3"/>
<path d="M94.90,342.30v3.6" stroke="#4040ff" stroke-width="1.3"/>
<text x="109.30" y="348.60" font-family='"Liberation Serif", serif' font-style="italic" font-size="13.2" fill="#1a1a1a">ω<tspan font-size="8.5" dy="3.4" dx="0.4" font-style="normal">*</tspan><tspan font-size="10.5" dy="-1.3">D,<tspan dx="1.5">C</tspan></tspan></text>
<rect x="368.50" y="35.90" width="96.70" height="127.70" fill="#fff" stroke="#4a4a4a" stroke-width="1.4"/>
<line x1="378.40" y1="46.10" x2="397.50" y2="46.10" stroke="#555" stroke-width="1.3"/>
<path d="M378.40,42.90 l2.4,3.2 l-2.4,3.2 l-2.4,-3.2z" fill="#000"/>
<path d="M397.50,42.90 l2.4,3.2 l-2.4,3.2 l-2.4,-3.2z" fill="#000"/>
<text x="411.70" y="50.60" font-family='"Liberation Serif", serif' font-style="italic" font-size="13.2" fill="#1a1a1a">ω<tspan font-size="8.5" dy="3.4" dx="0.4" font-style="normal">*</tspan><tspan font-size="10.5" dy="-1.3">e</tspan></text>
<line x1="378.40" y1="66.60" x2="397.50" y2="66.60" stroke="#3a9a3a" stroke-width="1.3"/>
<circle cx="378.40" cy="66.60" r="2.3" fill="#0b7a0b" stroke="#042004" stroke-width="0.8"/>
<circle cx="397.50" cy="66.60" r="2.3" fill="#0b7a0b" stroke="#042004" stroke-width="0.8"/>
<text x="411.70" y="71.10" font-family='"Liberation Serif", serif' font-style="italic" font-size="13.2" fill="#1a1a1a">ω<tspan font-size="8.5" dy="3.4" dx="0.4" font-style="normal">*</tspan><tspan font-size="10.5" dy="-1.3">D</tspan></text>
<line x1="378.40" y1="86.30" x2="397.50" y2="86.30" stroke="#d0d060" stroke-width="1.7"/>
<circle cx="378.40" cy="86.30" r="1.7" fill="#6a6a00" stroke="#222" stroke-width="0.7"/>
<circle cx="397.50" cy="86.30" r="1.7" fill="#6a6a00" stroke="#222" stroke-width="0.7"/>
<text x="411.70" y="90.80" font-family='"Liberation Serif", serif' font-style="italic" font-size="13.2" fill="#1a1a1a">ω<tspan font-size="8.5" dy="3.4" dx="0.4" font-style="normal">*</tspan><tspan font-size="10.5" dy="-1.3">C</tspan></text>
<line x1="378.40" y1="106.90" x2="397.50" y2="106.90" stroke="#d050d0" stroke-width="1.5"/>
<path d="M378.40,104.30 l2.6,4.4 h-5.2z" fill="#7a007a" stroke="#300030" stroke-width="0.6"/>
<path d="M397.50,104.30 l2.6,4.4 h-5.2z" fill="#7a007a" stroke="#300030" stroke-width="0.6"/>
<text x="411.70" y="111.40" font-family='"Liberation Serif", serif' font-style="italic" font-size="13.2" fill="#1a1a1a">ω<tspan font-size="8.5" dy="3.4" dx="0.4" font-style="normal">*</tspan><tspan font-size="10.5" dy="-1.3">Ne</tspan></text>
<line x1="376.90" y1="127.10" x2="399.00" y2="127.10" stroke="#ff4040" stroke-width="1.6"/>
<path d="M378.40,125.30v3.6" stroke="#ff4040" stroke-width="1.3"/>
<path d="M397.50,125.30v3.6" stroke="#ff4040" stroke-width="1.3"/>
<text x="411.70" y="131.60" font-family='"Liberation Serif", serif' font-style="italic" font-size="13.2" fill="#1a1a1a">ω<tspan font-size="8.5" dy="3.4" dx="0.4" font-style="normal">*</tspan><tspan font-size="10.5" dy="-1.3">D,<tspan dx="1.5">C,</tspan><tspan dx="1.5">Ne</tspan></tspan></text>
<line x1="376.90" y1="148.80" x2="399.00" y2="148.80" stroke="#4040ff" stroke-width="1.6"/>
<path d="M378.40,147.00v3.6" stroke="#4040ff" stroke-width="1.3"/>
<path d="M397.50,147.00v3.6" stroke="#4040ff" stroke-width="1.3"/>
<text x="411.70" y="153.30" font-family='"Liberation Serif", serif' font-style="italic" font-size="13.2" fill="#1a1a1a">ω<tspan font-size="8.5" dy="3.4" dx="0.4" font-style="normal">*</tspan><tspan font-size="10.5" dy="-1.3">D,<tspan dx="1.5">C</tspan></tspan></text>
<rect x="368.80" y="273.00" width="96.40" height="129.00" fill="#fff" stroke="#4a4a4a" stroke-width="1.4"/>
<line x1="378.40" y1="283.70" x2="397.70" y2="283.70" stroke="#555" stroke-width="1.3"/>
<path d="M378.40,280.50 l2.4,3.2 l-2.4,3.2 l-2.4,-3.2z" fill="#000"/>
<path d="M397.70,280.50 l2.4,3.2 l-2.4,3.2 l-2.4,-3.2z" fill="#000"/>
<text x="411.70" y="288.20" font-family='"Liberation Serif", serif' font-style="italic" font-size="13.2" fill="#1a1a1a">ω<tspan font-size="8.5" dy="3.4" dx="0.4" font-style="normal">*</tspan><tspan font-size="10.5" dy="-1.3">e</tspan></text>
<line x1="378.40" y1="303.90" x2="397.70" y2="303.90" stroke="#3a9a3a" stroke-width="1.3"/>
<circle cx="378.40" cy="303.90" r="2.3" fill="#0b7a0b" stroke="#042004" stroke-width="0.8"/>
<circle cx="397.70" cy="303.90" r="2.3" fill="#0b7a0b" stroke="#042004" stroke-width="0.8"/>
<text x="411.70" y="308.40" font-family='"Liberation Serif", serif' font-style="italic" font-size="13.2" fill="#1a1a1a">ω<tspan font-size="8.5" dy="3.4" dx="0.4" font-style="normal">*</tspan><tspan font-size="10.5" dy="-1.3">D</tspan></text>
<line x1="378.40" y1="324.20" x2="397.70" y2="324.20" stroke="#d0d060" stroke-width="1.7"/>
<circle cx="378.40" cy="324.20" r="1.7" fill="#6a6a00" stroke="#222" stroke-width="0.7"/>
<circle cx="397.70" cy="324.20" r="1.7" fill="#6a6a00" stroke="#222" stroke-width="0.7"/>
<text x="411.70" y="328.70" font-family='"Liberation Serif", serif' font-style="italic" font-size="13.2" fill="#1a1a1a">ω<tspan font-size="8.5" dy="3.4" dx="0.4" font-style="normal">*</tspan><tspan font-size="10.5" dy="-1.3">C</tspan></text>
<line x1="378.40" y1="344.30" x2="397.70" y2="344.30" stroke="#d050d0" stroke-width="1.5"/>
<path d="M378.40,341.70 l2.6,4.4 h-5.2z" fill="#7a007a" stroke="#300030" stroke-width="0.6"/>
<path d="M397.70,341.70 l2.6,4.4 h-5.2z" fill="#7a007a" stroke="#300030" stroke-width="0.6"/>
<text x="411.70" y="348.80" font-family='"Liberation Serif", serif' font-style="italic" font-size="13.2" fill="#1a1a1a">ω<tspan font-size="8.5" dy="3.4" dx="0.4" font-style="normal">*</tspan><tspan font-size="10.5" dy="-1.3">Ne</tspan></text>
<line x1="376.90" y1="364.20" x2="399.20" y2="364.20" stroke="#ff4040" stroke-width="1.6"/>
<path d="M378.40,362.40v3.6" stroke="#ff4040" stroke-width="1.3"/>
<path d="M397.70,362.40v3.6" stroke="#ff4040" stroke-width="1.3"/>
<text x="411.70" y="368.70" font-family='"Liberation Serif", serif' font-style="italic" font-size="13.2" fill="#1a1a1a">ω<tspan font-size="8.5" dy="3.4" dx="0.4" font-style="normal">*</tspan><tspan font-size="10.5" dy="-1.3">D,<tspan dx="1.5">C,</tspan><tspan dx="1.5">Ne</tspan></tspan></text>
<line x1="376.90" y1="386.70" x2="399.20" y2="386.70" stroke="#4040ff" stroke-width="1.6"/>
<path d="M378.40,384.90v3.6" stroke="#4040ff" stroke-width="1.3"/>
<path d="M397.70,384.90v3.6" stroke="#4040ff" stroke-width="1.3"/>
<text x="411.70" y="391.20" font-family='"Liberation Serif", serif' font-style="italic" font-size="13.2" fill="#1a1a1a">ω<tspan font-size="8.5" dy="3.4" dx="0.4" font-style="normal">*</tspan><tspan font-size="10.5" dy="-1.3">D,<tspan dx="1.5">C</tspan></tspan></text>
</svg></body></html>
